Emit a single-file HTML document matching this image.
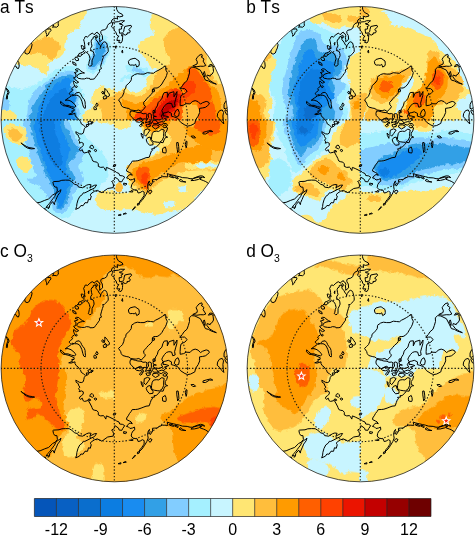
<!DOCTYPE html><html><head><meta charset="utf-8"><title>fig</title><style>html,body{margin:0;padding:0;background:#fff}body{width:475px;height:536px;overflow:hidden}</style></head><body><svg width="475" height="536" viewBox="0 0 475 536" style="display:block">
<defs>
<clipPath id="cc"><circle cx="114.5" cy="113.9" r="113.5"/></clipPath>
<clipPath id="k1"><rect x="-1" y="-1" width="115.2" height="115.2"/></clipPath>
<clipPath id="k2"><rect x="113.9" y="-1" width="116" height="115.2"/></clipPath>
<clipPath id="k3"><rect x="-1" y="113.9" width="115.2" height="116"/></clipPath>
<clipPath id="k4"><rect x="113.9" y="113.9" width="116" height="116"/></clipPath>
<filter id="rg" x="0" y="0" width="229" height="229" filterUnits="userSpaceOnUse"><feTurbulence type="fractalNoise" baseFrequency="0.22" numOctaves="2" seed="7" result="n"/><feDisplacementMap in="SourceGraphic" in2="n" scale="5" xChannelSelector="R" yChannelSelector="G"/></filter>
</defs>
<rect width="475" height="536" fill="#fff"/>
<g transform="translate(0 6)">
<g clip-path="url(#cc)">
<rect x="0" y="0" width="229" height="229" fill="#c8f5ff"/>
<g filter="url(#rg)">
<g clip-path="url(#k1)">
<path d="M-22.8 80.4C-16.6 71.2 6.6 81.2 14.4 81.6C22.2 82.0 20.4 83.4 24.0 82.8C27.6 82.2 32.4 79.9 36.0 78.0C39.6 76.1 42.6 73.7 45.6 71.5C48.6 69.3 51.2 66.5 54.0 64.8C56.8 63.1 59.6 62.0 62.4 61.2C65.2 60.4 68.2 59.9 70.8 60.0C73.4 60.1 76.3 60.7 78.0 61.9C79.7 63.1 81.1 65.3 81.1 67.2C81.1 69.1 78.1 70.8 78.0 73.2C77.9 75.6 79.5 78.8 80.4 81.6C81.3 84.4 83.3 87.2 83.5 90.0C83.7 92.8 81.5 95.4 81.6 98.4C81.7 101.4 83.8 101.6 84.0 108.0C84.2 114.4 100.6 132.0 82.8 136.8C65.0 141.6 -5.2 146.2 -22.8 136.8C-40.4 127.4 -29.0 89.6 -22.8 80.4Z" fill="#a5f0ff"/>
<path d="M96.0 28.8C98.3 28.2 104.4 29.8 106.8 32.4C109.2 35.0 110.4 40.6 110.4 44.4C110.4 48.2 108.4 52.1 106.8 55.2C105.2 58.3 103.1 60.9 100.8 62.9C98.5 64.9 95.5 67.2 93.1 67.2C90.7 67.2 87.2 65.3 86.4 62.9C85.6 60.5 87.4 55.9 88.3 52.8C89.2 49.7 90.9 47.2 91.7 44.4C92.5 41.6 92.4 38.6 93.1 36.0C93.8 33.4 93.7 29.4 96.0 28.8Z" fill="#a5f0ff"/>
<path d="M26.4 136.8C17.9 131.6 27.2 112.4 27.6 105.6C28.0 98.8 27.4 99.6 28.8 96.0C30.2 92.4 33.2 87.3 36.0 84.0C38.8 80.7 42.4 78.7 45.6 76.3C48.8 73.9 52.3 71.3 55.2 69.6C58.1 67.9 60.3 66.8 62.9 66.0C65.5 65.2 68.6 64.6 70.8 64.8C73.0 65.0 75.3 66.0 76.3 67.2C77.3 68.4 77.3 70.4 76.8 72.0C76.3 73.6 73.3 75.0 73.2 76.8C73.1 78.6 75.2 80.6 76.3 82.8C77.4 85.0 79.4 87.8 79.7 90.0C80.0 92.2 78.2 93.8 78.0 96.0C77.8 98.2 78.4 101.0 78.7 103.2C79.0 105.4 79.9 103.6 79.9 109.2C79.9 114.8 87.6 132.2 78.7 136.8C69.8 141.4 34.9 142.0 26.4 136.8Z" fill="#82cdff"/>
<path d="M-22.8 91.2C-18.2 89.0 -0.6 91.6 4.8 92.4C10.2 93.2 9.0 94.2 9.6 96.0C10.2 97.8 9.4 101.6 8.4 103.2C7.4 104.8 8.8 105.2 3.6 105.6C-1.6 106.0 -18.4 108.0 -22.8 105.6C-27.2 103.2 -27.4 93.4 -22.8 91.2Z" fill="#82cdff"/>
<path d="M97.2 32.4C99.1 32.0 103.8 34.0 105.6 36.0C107.4 38.0 108.1 41.6 108.0 44.4C107.9 47.2 106.5 50.2 105.1 52.8C103.7 55.4 101.5 58.1 99.6 60.0C97.7 61.9 95.5 64.1 93.6 64.3C91.7 64.5 88.9 63.1 88.3 61.2C87.7 59.3 89.2 55.4 90.0 52.8C90.8 50.2 92.4 48.0 93.1 45.6C93.8 43.2 93.4 40.6 94.1 38.4C94.8 36.2 95.3 32.8 97.2 32.4Z" fill="#82cdff"/>
<path d="M31.0 136.8C23.6 131.4 31.2 110.8 31.7 104.4C32.2 98.0 33.0 100.2 34.1 98.2C35.1 96.1 36.4 94.0 37.9 91.9C39.4 89.8 41.5 87.8 43.0 85.7C44.4 83.6 45.4 80.9 46.8 79.2C48.2 77.5 49.8 76.8 51.6 75.6C53.4 74.4 55.6 73.0 57.6 72.0C59.6 71.0 61.6 70.2 63.6 69.6C65.6 69.0 67.9 68.3 69.6 68.4C71.3 68.5 73.2 69.1 73.9 70.1C74.6 71.1 74.6 73.1 73.9 74.4C73.3 75.7 70.2 76.4 70.1 78.0C70.0 79.6 72.2 81.9 73.2 84.0C74.2 86.1 76.0 88.7 76.3 90.7C76.6 92.7 75.0 93.9 74.9 96.0C74.8 98.1 75.3 101.0 75.6 103.2C75.9 105.4 76.8 103.6 76.8 109.2C76.8 114.8 83.2 132.2 75.6 136.8C68.0 141.4 38.3 142.2 31.0 136.8Z" fill="#32a0e6"/>
<path d="M99.6 36.0C101.0 35.6 103.4 37.0 104.4 38.4C105.4 39.8 105.8 42.4 105.6 44.4C105.4 46.4 104.4 48.4 103.2 50.4C102.0 52.4 100.0 54.6 98.4 56.4C96.8 58.2 94.9 60.8 93.6 61.2C92.3 61.6 90.9 60.2 90.7 58.8C90.5 57.4 91.7 54.8 92.4 52.8C93.1 50.8 94.2 48.8 94.8 46.8C95.4 44.8 95.2 42.6 96.0 40.8C96.8 39.0 98.2 36.4 99.6 36.0Z" fill="#32a0e6"/>
<path d="M37.0 136.8C30.9 131.6 37.4 112.1 37.9 105.6C38.5 99.1 39.2 100.4 40.3 97.9C41.4 95.4 42.7 93.2 44.4 90.7C46.1 88.3 48.4 85.4 50.4 83.3C52.4 81.2 54.5 79.6 56.4 78.0C58.3 76.4 59.9 75.0 61.9 73.9C63.9 72.8 66.8 71.6 68.4 71.5C70.0 71.4 71.2 71.9 71.5 73.2C71.8 74.5 70.1 77.2 70.1 79.2C70.1 81.2 70.8 83.1 71.5 85.2C72.2 87.3 74.1 89.5 74.4 91.7C74.7 93.9 73.3 96.1 73.2 98.4C73.1 100.7 73.7 99.2 73.9 105.6C74.1 112.0 80.6 131.6 74.4 136.8C68.2 142.0 43.0 142.0 37.0 136.8Z" fill="#198cf0"/>
<path d="M43.2 136.8C39.0 131.6 43.7 112.0 44.4 105.6C45.1 99.2 46.2 100.8 47.5 98.4C48.8 96.0 50.6 93.3 52.3 91.2C54.1 89.1 56.1 87.3 58.1 85.9C60.1 84.5 62.7 82.7 64.3 82.8C65.9 82.9 66.8 84.4 67.7 86.4C68.6 88.4 69.3 91.6 69.6 94.8C69.9 98.0 69.6 98.6 69.6 105.6C69.6 112.6 74.0 131.6 69.6 136.8C65.2 142.0 47.4 142.0 43.2 136.8Z" fill="#0c7de1"/>
<path d="M14.4 57.6C16.0 59.9 20.8 58.7 24.0 59.3C27.2 59.9 30.8 60.1 33.6 61.2C36.4 62.3 38.8 64.8 40.8 66.0C42.8 67.2 44.2 68.9 45.6 68.4C47.0 67.9 48.9 64.7 49.2 62.9C49.5 61.1 46.7 59.2 47.3 57.6C47.9 56.0 51.2 54.3 52.8 53.3C54.4 52.2 55.6 52.0 57.1 51.4C58.6 50.7 60.6 50.4 61.9 49.2C63.2 48.0 64.2 46.0 64.8 44.2C65.4 42.3 65.2 39.8 65.5 37.9C65.8 36.0 65.9 34.4 66.5 32.9C67.1 31.4 68.0 30.3 69.1 29.0C70.2 27.8 71.4 26.4 73.0 25.2C74.6 24.0 77.5 23.1 78.7 21.6C80.0 20.1 79.4 17.8 80.4 16.3C81.4 14.8 83.6 14.2 84.5 12.5C85.4 10.8 85.8 8.3 85.7 6.2C85.6 4.2 88.3 0.2 84.0 0.0C79.7 -0.2 68.0 1.2 60.0 4.8C52.0 8.4 43.6 14.8 36.0 21.6C28.4 28.4 18.0 39.6 14.4 45.6C10.8 51.6 12.8 55.3 14.4 57.6Z" fill="#ffe673"/>
<path d="M22.8 45.6C22.8 44.1 26.5 40.1 28.3 38.4C30.1 36.7 31.7 36.3 33.6 35.5C35.5 34.7 37.6 34.4 39.6 33.6C41.6 32.8 43.6 31.0 45.6 30.7C47.6 30.4 49.6 31.0 51.6 31.9C53.6 32.8 56.2 34.4 57.6 36.0C59.0 37.6 60.0 39.7 60.0 41.3C60.0 42.9 58.3 44.0 57.6 45.6C56.9 47.2 56.9 49.7 55.7 50.9C54.5 52.1 52.1 53.0 50.4 52.8C48.7 52.6 47.4 50.7 45.6 49.7C43.8 48.7 41.6 47.1 39.6 46.8C37.6 46.5 35.5 47.9 33.6 48.0C31.7 48.1 30.1 47.7 28.3 47.3C26.5 46.9 22.8 47.1 22.8 45.6Z" fill="#ffbe3c"/>
<path d="M96.0 82.8C97.8 81.4 100.8 80.4 103.2 80.4C105.6 80.4 104.8 82.2 110.4 82.8C116.0 83.4 132.4 75.0 136.8 84.0C141.2 93.0 146.0 128.0 136.8 136.8C127.6 145.6 90.6 141.4 81.6 136.8C72.6 132.2 81.8 114.6 82.8 109.2C83.8 103.8 86.0 105.8 87.6 104.4C89.2 103.0 91.8 102.4 92.4 100.8C93.0 99.2 91.2 96.8 91.2 94.8C91.2 92.8 91.6 90.8 92.4 88.8C93.2 86.8 94.2 84.2 96.0 82.8Z" fill="#ffe673"/>
<path d="M100.8 93.6C102.4 92.0 102.0 91.4 108.0 91.2C114.0 91.0 132.0 84.8 136.8 92.4C141.6 100.0 142.4 129.4 136.8 136.8C131.2 144.2 109.0 141.6 103.2 136.8C97.4 132.0 102.8 114.0 102.0 108.0C101.2 102.0 98.6 103.2 98.4 100.8C98.2 98.4 99.2 95.2 100.8 93.6Z" fill="#ffbe3c"/>
<path d="M1.2 106.8C2.4 101.4 5.0 104.4 7.2 104.4C9.4 104.4 13.0 105.4 14.4 106.8C15.8 108.2 16.0 107.8 15.6 112.8C15.2 117.8 14.6 132.8 12.0 136.8C9.4 140.8 1.8 141.8 0.0 136.8C-1.8 131.8 0.0 112.2 1.2 106.8Z" fill="#ffe673"/>
</g>
<g clip-path="url(#k2)">
<path d="M126.0 60.0C127.1 59.0 130.8 58.3 133.2 58.3C135.6 58.3 138.0 59.2 140.4 60.0C142.8 60.8 145.9 61.7 147.6 62.9C149.3 64.1 150.9 66.0 150.5 67.2C150.1 68.4 147.3 69.7 145.2 70.1C143.1 70.5 140.2 70.1 138.0 69.6C135.8 69.1 133.9 68.1 132.0 67.2C130.1 66.3 127.5 65.5 126.5 64.3C125.5 63.1 124.9 61.0 126.0 60.0Z" fill="#a5f0ff"/>
<path d="M132.0 61.7C132.6 61.2 136.0 61.4 138.0 61.9C140.0 62.4 142.9 63.9 144.0 64.8C145.1 65.7 145.5 66.8 144.7 67.2C143.9 67.6 140.9 67.6 139.2 67.2C137.5 66.8 135.6 65.7 134.4 64.8C133.2 63.9 131.4 62.2 132.0 61.7Z" fill="#82cdff"/>
<path d="M120.0 73.2C120.8 72.3 123.6 70.9 126.0 70.1C128.4 69.3 132.9 68.4 134.4 68.4C135.9 68.4 136.3 69.6 135.1 70.3C133.9 71.0 129.5 71.8 127.2 72.7C124.9 73.6 122.4 75.5 121.2 75.6C120.0 75.7 119.2 74.1 120.0 73.2Z" fill="#a5f0ff"/>
<path d="M153.6 6.0C152.9 12.0 151.1 10.8 150.5 13.2C149.9 15.6 149.5 18.6 150.0 20.4C150.5 22.2 153.2 22.4 153.6 24.0C154.0 25.6 153.8 28.6 152.4 30.0C151.0 31.4 147.3 31.4 145.2 32.4C143.1 33.4 141.1 34.4 139.9 36.0C138.7 37.6 137.7 40.0 138.0 42.0C138.3 44.0 140.2 46.0 141.6 48.0C143.0 50.0 145.0 52.0 146.4 54.0C147.8 56.0 148.4 58.4 150.0 60.0C151.6 61.6 154.4 63.1 156.0 63.6C157.6 64.1 159.8 62.5 159.6 62.9C159.4 63.3 156.4 65.0 154.8 66.0C153.2 67.0 151.2 67.8 150.0 68.9C148.8 70.0 148.2 71.1 147.6 72.5C147.0 73.9 147.0 75.7 146.4 77.3C145.8 78.9 145.0 80.8 144.0 82.1C143.0 83.4 141.8 84.4 140.4 85.2C139.0 86.0 137.2 86.8 135.6 86.9C134.0 87.0 132.2 86.4 130.8 85.7C129.4 85.0 128.1 83.6 127.2 82.8C126.3 82.0 126.3 80.5 125.3 80.9C124.3 81.3 122.5 84.3 121.2 85.2C119.9 86.1 122.6 86.1 117.6 86.4C112.6 86.7 95.6 78.5 91.2 86.9C86.8 95.3 64.6 128.5 91.2 136.8C117.8 145.1 224.2 163.4 250.8 136.8C277.4 110.2 266.8 3.8 250.8 -22.8C234.8 -49.4 171.0 -27.6 154.8 -22.8C138.6 -18.0 154.3 0.0 153.6 6.0Z" fill="#ffe673"/>
<path d="M178.8 18.0C176.4 25.8 173.8 22.0 171.6 24.0C169.4 26.0 166.9 27.6 165.6 30.0C164.3 32.4 163.6 35.4 163.9 38.4C164.2 41.4 166.3 45.0 167.3 48.0C168.2 51.0 170.0 54.3 169.7 56.4C169.4 58.5 167.3 59.3 165.6 60.5C163.9 61.7 161.3 62.0 159.6 63.6C157.9 65.2 156.6 67.8 155.3 70.1C154.0 72.4 152.9 75.2 151.9 77.3C150.9 79.4 150.2 81.3 149.3 82.8C148.4 84.3 147.6 85.4 146.4 86.4C145.2 87.4 143.8 88.1 142.3 88.8C140.8 89.5 139.1 90.3 137.5 90.5C135.9 90.7 134.2 90.4 132.7 90.0C131.2 89.6 129.6 89.0 128.4 88.3C127.2 87.6 126.1 86.3 125.3 85.7C124.5 85.0 124.7 84.3 123.6 84.5C122.5 84.7 124.2 86.4 118.8 86.9C113.4 87.4 95.8 79.3 91.2 87.6C86.6 95.9 64.6 128.6 91.2 136.8C117.8 145.0 224.2 163.4 250.8 136.8C277.4 110.2 261.6 3.8 250.8 -22.8C240.0 -49.4 198.0 -29.6 186.0 -22.8C174.0 -16.0 181.2 10.2 178.8 18.0Z" fill="#ffbe3c"/>
<path d="M208.8 49.2C210.4 48.6 213.8 49.8 216.0 51.6C218.2 53.4 220.4 57.0 222.0 60.0C223.6 63.0 224.8 66.4 225.6 69.6C226.4 72.8 227.8 77.8 226.8 79.2C225.8 80.6 221.8 79.2 219.6 78.0C217.4 76.8 215.4 74.6 213.6 72.0C211.8 69.4 210.0 65.2 208.8 62.4C207.6 59.6 206.4 57.4 206.4 55.2C206.4 53.0 207.2 49.8 208.8 49.2Z" fill="#ffe673"/>
<path d="M122.9 91.7C123.4 91.2 124.4 92.3 125.3 92.9C126.2 93.5 127.1 94.7 128.4 95.3C129.7 95.9 131.6 96.2 133.2 96.5C134.8 96.8 136.4 97.2 138.0 97.2C139.6 97.2 141.4 96.8 142.8 96.5C144.2 96.2 145.2 95.9 146.4 95.3C147.6 94.7 148.8 93.9 150.0 92.9C151.2 91.9 152.4 90.4 153.6 89.3C154.8 88.2 155.8 87.5 157.2 86.4C158.6 85.3 160.4 83.9 162.0 82.8C163.6 81.7 165.3 80.9 166.8 79.7C168.3 78.5 169.7 77.0 170.9 75.6C172.1 74.2 172.5 72.8 174.0 71.5C175.5 70.2 178.0 69.1 180.0 67.7C182.0 66.2 184.0 64.2 186.0 62.9C188.0 61.6 190.1 60.2 192.0 60.0C193.9 59.8 195.9 60.7 197.5 61.9C199.1 63.1 200.1 65.3 201.6 67.2C203.1 69.1 204.8 71.2 206.4 73.2C208.0 75.2 209.6 77.6 211.2 79.2C212.8 80.8 214.6 81.0 216.0 82.8C217.4 84.6 218.8 87.0 219.6 90.0C220.4 93.0 220.7 93.0 220.8 100.8C220.9 108.6 235.5 130.8 220.1 136.8C204.7 142.8 143.9 141.6 128.4 136.8C112.9 132.0 127.8 114.0 127.2 108.0C126.6 102.0 125.6 102.8 124.8 100.8C124.0 98.8 122.7 97.5 122.4 96.0C122.1 94.5 122.4 92.2 122.9 91.7Z" fill="#ff9b00"/>
<path d="M188.9 62.4C189.8 61.8 192.4 61.4 193.7 61.7C195.0 62.0 195.8 63.1 196.8 64.1C197.8 65.1 198.7 66.3 199.7 67.7C200.7 69.1 201.8 70.9 202.8 72.5C203.8 74.1 204.6 75.9 205.7 77.3C206.8 78.7 208.4 79.3 209.3 80.9C210.2 82.5 211.0 84.9 211.2 86.9C211.4 88.9 211.2 91.3 210.5 92.9C209.8 94.5 208.5 95.9 206.9 96.5C205.3 97.1 202.9 96.6 200.9 96.5C198.9 96.4 196.7 96.0 194.9 96.0C193.1 96.0 191.7 96.3 190.1 96.5C188.5 96.7 186.7 97.4 185.3 97.2C183.9 97.0 182.4 96.2 181.7 95.3C181.0 94.4 180.8 92.9 181.2 91.7C181.6 90.5 183.4 89.2 184.1 88.1C184.8 87.0 185.6 85.9 185.3 85.2C185.0 84.5 183.2 84.6 182.4 84.0C181.6 83.4 180.4 82.5 180.5 81.6C180.6 80.7 182.0 79.4 182.9 78.5C183.8 77.6 185.2 77.1 186.0 76.1C186.8 75.1 187.2 73.7 187.7 72.5C188.2 71.3 188.8 70.1 188.9 68.9C189.0 67.7 188.4 66.4 188.4 65.3C188.4 64.2 188.0 63.0 188.9 62.4Z" fill="#ff5f00"/>
<path d="M198.5 94.8C199.7 92.9 203.9 93.9 206.4 94.1C208.9 94.3 212.0 94.5 213.6 96.0C215.2 97.5 215.5 96.4 216.0 103.2C216.5 110.0 219.7 131.2 216.7 136.8C213.7 142.4 200.9 142.0 198.0 136.8C195.1 131.6 199.1 112.6 199.2 105.6C199.3 98.6 197.3 96.7 198.5 94.8Z" fill="#ff5f00"/>
<path d="M136.8 136.8C129.6 132.0 138.2 113.8 139.2 108.0C140.2 102.2 141.2 103.8 142.8 102.0C144.4 100.2 146.8 98.7 148.8 97.2C150.8 95.7 152.6 94.6 154.8 93.1C157.0 91.6 159.8 89.8 162.0 88.3C164.2 86.9 166.0 85.4 168.0 84.5C170.0 83.6 172.2 82.8 174.0 82.8C175.8 82.8 177.5 83.5 178.8 84.5C180.1 85.5 181.1 86.9 181.7 88.8C182.3 90.7 182.1 93.6 182.4 96.0C182.7 98.4 183.6 96.4 183.6 103.2C183.6 110.0 190.2 131.2 182.4 136.8C174.6 142.4 144.0 141.6 136.8 136.8Z" fill="#ff5f00"/>
<path d="M150.0 114.0C149.9 108.8 150.8 108.2 151.9 105.6C153.0 103.0 155.0 100.7 156.7 98.4C158.4 96.1 160.0 93.9 162.0 91.9C164.0 89.9 166.2 87.8 168.7 86.4C171.2 85.0 174.5 83.1 176.9 83.3C179.3 83.5 182.2 85.5 183.1 87.6C184.0 89.7 183.1 93.4 182.4 96.0C181.7 98.6 180.2 100.9 178.8 103.2C177.4 105.5 175.9 107.8 174.0 109.7C172.1 111.6 169.7 110.0 167.3 114.5C164.9 119.0 162.1 133.1 159.6 136.8C157.1 140.5 154.0 140.6 152.4 136.8C150.8 133.0 150.1 119.2 150.0 114.0Z" fill="#ff4100"/>
<path d="M134.4 136.8C131.3 132.2 134.1 114.3 135.1 109.2C136.1 104.1 138.3 106.7 140.4 106.1C142.5 105.5 145.6 105.3 147.6 105.6C149.6 105.9 151.4 102.8 152.4 108.0C153.4 113.2 156.6 132.0 153.6 136.8C150.6 141.6 137.5 141.4 134.4 136.8Z" fill="#ff4100"/>
<path d="M184.1 77.3C185.2 76.3 187.3 75.1 188.9 74.9C190.5 74.7 192.5 75.1 193.7 76.1C194.9 77.1 195.9 79.3 196.1 80.9C196.3 82.5 195.7 84.5 194.9 85.7C194.1 86.9 192.5 87.1 191.3 88.1C190.1 89.1 188.9 90.9 187.7 91.7C186.5 92.5 184.9 93.3 184.1 92.9C183.3 92.5 182.6 90.5 182.9 89.3C183.2 88.1 185.8 86.7 186.0 85.7C186.2 84.7 184.7 84.1 184.1 83.3C183.5 82.5 182.4 81.9 182.4 80.9C182.4 79.9 183.0 78.3 184.1 77.3Z" fill="#ff4100"/>
<path d="M182.4 102.0C183.0 95.6 184.4 99.1 186.0 98.4C187.6 97.7 190.0 97.6 192.0 97.9C194.0 98.2 196.9 98.8 198.0 100.3C199.1 101.8 198.7 100.7 198.5 106.8C198.3 112.9 199.5 131.8 196.8 136.8C194.1 141.8 184.8 142.6 182.4 136.8C180.0 131.0 181.8 108.4 182.4 102.0Z" fill="#ffbe3c"/>
<path d="M153.6 112.8C153.0 111.4 153.8 107.8 154.8 105.6C155.8 103.4 158.0 101.6 159.6 99.6C161.2 97.6 162.6 95.4 164.4 93.6C166.2 91.8 168.2 90.0 170.4 88.8C172.6 87.6 175.9 86.2 177.6 86.4C179.3 86.6 180.5 88.2 180.7 90.0C180.9 91.8 179.7 95.0 178.8 97.2C177.9 99.4 176.6 101.4 175.2 103.2C173.8 105.0 172.2 106.6 170.4 108.0C168.6 109.4 166.4 110.6 164.4 111.6C162.4 112.6 160.2 113.8 158.4 114.0C156.6 114.2 154.2 114.2 153.6 112.8Z" fill="#eb1400"/>
<path d="M158.4 110.4C158.4 109.0 160.4 105.4 162.0 103.2C163.6 101.0 166.0 99.0 168.0 97.2C170.0 95.4 172.4 93.2 174.0 92.4C175.6 91.6 177.3 91.4 177.6 92.4C177.9 93.4 176.9 96.6 175.9 98.4C174.9 100.2 173.1 101.6 171.6 103.2C170.1 104.8 168.4 106.6 166.8 108.0C165.2 109.4 163.4 111.2 162.0 111.6C160.6 112.0 158.4 111.8 158.4 110.4Z" fill="#c30000"/>
</g>
<g clip-path="url(#k3)">
<path d="M-22.8 91.2C-7.0 83.4 54.6 85.8 72.0 91.2C89.4 96.6 78.4 116.2 81.6 123.6C84.8 131.0 88.0 132.0 91.2 135.6C94.4 139.2 98.2 142.0 100.8 145.2C103.4 148.4 105.6 151.6 106.8 154.8C108.0 158.0 108.2 161.2 108.0 164.4C107.8 167.6 107.2 170.8 105.6 174.0C104.0 177.2 101.6 180.4 98.4 183.6C95.2 186.8 90.4 190.0 86.4 193.2C82.4 196.4 77.2 200.0 74.4 202.8C71.6 205.6 72.0 208.4 69.6 210.0C67.2 211.6 63.2 212.4 60.0 212.4C56.8 212.4 53.2 211.6 50.4 210.0C47.6 208.4 45.6 205.2 43.2 202.8C40.8 200.4 38.8 197.2 36.0 195.6C33.2 194.0 29.2 194.8 26.4 193.2C23.6 191.6 21.6 188.8 19.2 186.0C16.8 183.2 14.0 179.6 12.0 176.4C10.0 173.2 8.8 170.8 7.2 166.8C5.6 162.8 7.4 157.2 2.4 152.4C-2.6 147.6 -18.6 148.2 -22.8 138.0C-27.0 127.8 -38.6 99.0 -22.8 91.2Z" fill="#a5f0ff"/>
<path d="M24.0 91.2C17.0 97.0 24.8 118.2 25.2 126.0C25.6 133.8 25.6 134.0 26.4 138.0C27.2 142.0 28.8 146.0 30.0 150.0C31.2 154.0 32.6 158.8 33.6 162.0C34.6 165.2 36.4 167.4 36.0 169.2C35.6 171.0 32.5 172.5 31.2 172.8C29.9 173.1 28.6 170.5 28.3 171.1C28.0 171.7 28.0 175.1 29.3 176.4C30.6 177.7 33.9 177.6 36.0 178.8C38.1 180.0 40.2 181.6 42.0 183.6C43.8 185.6 45.2 188.4 46.8 190.8C48.4 193.2 50.4 195.6 51.6 198.0C52.8 200.4 52.6 203.7 54.0 205.2C55.4 206.7 58.0 207.2 60.0 207.1C62.0 207.0 64.2 206.2 66.0 204.7C67.8 203.2 69.6 200.7 70.8 198.0C72.0 195.3 71.8 191.2 73.2 188.4C74.6 185.6 77.4 183.6 79.2 181.2C81.0 178.8 83.6 176.4 84.0 174.0C84.4 171.6 82.4 169.2 81.6 166.8C80.8 164.4 79.0 162.0 79.2 159.6C79.4 157.2 82.0 154.8 82.8 152.4C83.6 150.0 84.6 147.6 84.0 145.2C83.4 142.8 80.8 140.8 79.2 138.0C77.6 135.2 76.0 131.6 74.4 128.4C72.8 125.2 70.8 125.0 69.6 118.8C68.4 112.6 74.8 95.8 67.2 91.2C59.6 86.6 31.0 85.4 24.0 91.2Z" fill="#82cdff"/>
<path d="M30.0 91.2C24.8 96.6 30.6 116.6 31.2 123.6C31.8 130.6 32.8 130.0 33.6 133.2C34.4 136.4 35.0 139.6 36.0 142.8C37.0 146.0 38.4 149.2 39.6 152.4C40.8 155.6 42.0 158.8 43.2 162.0C44.4 165.2 45.4 168.8 46.8 171.6C48.2 174.4 50.4 176.4 51.6 178.8C52.8 181.2 53.4 183.2 54.0 186.0C54.6 188.8 54.8 193.0 55.2 195.6C55.6 198.2 55.2 200.3 56.4 201.6C57.6 202.9 60.6 204.3 62.4 203.3C64.2 202.3 66.0 198.5 67.2 195.6C68.4 192.7 68.8 188.8 69.6 186.0C70.4 183.2 71.2 181.2 72.0 178.8C72.8 176.4 74.4 173.8 74.4 171.6C74.4 169.4 73.0 167.6 72.0 165.6C71.0 163.6 68.4 161.6 68.4 159.6C68.4 157.6 70.6 155.6 72.0 153.6C73.4 151.6 75.6 149.4 76.8 147.6C78.0 145.8 79.4 144.4 79.2 142.8C79.0 141.2 76.8 139.6 75.6 138.0C74.4 136.4 73.0 135.2 72.0 133.2C71.0 131.2 70.8 128.2 69.6 126.0C68.4 123.8 66.0 125.8 64.8 120.0C63.6 114.2 68.2 96.0 62.4 91.2C56.6 86.4 35.2 85.8 30.0 91.2Z" fill="#32a0e6"/>
<path d="M33.6 91.2C29.4 96.6 34.3 116.6 34.8 123.6C35.3 130.6 35.9 130.0 36.7 133.2C37.5 136.4 38.5 139.6 39.6 142.8C40.7 146.0 42.0 149.2 43.2 152.4C44.4 155.6 45.8 158.8 47.0 162.0C48.3 165.2 49.6 168.8 50.9 171.6C52.2 174.4 53.7 176.4 54.7 178.8C55.8 181.2 56.6 183.2 57.1 186.0C57.6 188.8 57.3 193.2 57.6 195.6C57.9 198.0 57.9 199.8 58.8 200.4C59.7 201.0 61.7 200.8 62.9 199.2C64.1 197.6 65.2 193.4 66.0 190.8C66.8 188.2 67.1 186.0 67.7 183.6C68.3 181.2 69.4 178.6 69.6 176.4C69.8 174.2 69.7 172.4 69.1 170.4C68.5 168.4 66.5 166.6 66.0 164.4C65.5 162.2 65.6 159.6 66.0 157.2C66.4 154.8 67.8 152.4 68.4 150.0C69.0 147.6 69.8 145.2 69.6 142.8C69.4 140.4 68.1 138.0 67.2 135.6C66.3 133.2 65.3 130.8 64.3 128.4C63.3 126.0 61.9 127.4 61.2 121.2C60.5 115.0 64.6 96.2 60.0 91.2C55.4 86.2 37.8 85.8 33.6 91.2Z" fill="#198cf0"/>
<path d="M38.4 91.2C36.0 96.6 39.0 116.6 39.6 123.6C40.2 130.6 41.0 130.0 42.0 133.2C43.0 136.4 44.4 139.8 45.6 142.8C46.8 145.8 47.9 148.6 49.2 151.2C50.5 153.8 51.9 156.6 53.3 158.4C54.7 160.2 56.3 162.0 57.6 162.0C58.9 162.0 60.5 160.4 61.2 158.4C61.9 156.4 62.0 152.8 61.9 150.0C61.8 147.2 61.2 144.4 60.5 141.6C59.8 138.8 58.5 136.0 57.6 133.2C56.7 130.4 55.8 131.8 55.2 124.8C54.6 117.8 56.8 96.8 54.0 91.2C51.2 85.6 40.8 85.8 38.4 91.2Z" fill="#0c7de1"/>
<path d="M81.6 91.2C72.6 95.2 81.2 110.8 82.8 115.0C84.4 119.1 88.4 115.6 91.2 115.9C94.0 116.2 96.8 116.4 99.6 116.6C102.4 116.9 101.8 117.1 108.0 117.4C114.2 117.6 132.0 122.7 136.8 118.3C141.6 114.0 146.0 95.7 136.8 91.2C127.6 86.7 90.6 87.2 81.6 91.2Z" fill="#ffe673"/>
<path d="M3.6 121.2C4.5 119.4 7.4 118.0 9.6 117.6C11.8 117.2 14.4 118.0 16.8 118.8C19.2 119.6 22.3 120.8 24.0 122.4C25.7 124.0 26.7 126.2 26.9 128.4C27.1 130.6 26.3 133.8 25.2 135.6C24.1 137.4 22.2 138.8 20.4 139.2C18.6 139.6 16.4 138.8 14.4 138.0C12.4 137.2 10.1 136.0 8.4 134.4C6.7 132.8 5.1 130.6 4.3 128.4C3.5 126.2 2.7 123.0 3.6 121.2Z" fill="#ffe673"/>
<path d="M8.4 124.8C9.0 123.0 12.4 122.2 14.4 122.4C16.4 122.6 19.2 124.4 20.4 126.0C21.6 127.6 22.2 130.4 21.6 132.0C21.0 133.6 18.6 135.4 16.8 135.6C15.0 135.8 12.2 135.0 10.8 133.2C9.4 131.4 7.8 126.6 8.4 124.8Z" fill="#ffbe3c"/>
<path d="M16.8 152.4C17.9 150.6 21.8 149.8 24.0 150.0C26.2 150.2 28.8 151.8 30.0 153.6C31.2 155.4 31.6 158.6 31.2 160.8C30.8 163.0 29.2 166.0 27.6 166.8C26.0 167.6 23.3 166.6 21.6 165.6C19.9 164.6 18.1 163.0 17.3 160.8C16.5 158.6 15.7 154.2 16.8 152.4Z" fill="#ffe673"/>
<path d="M96.0 190.8C96.6 188.6 98.8 187.0 100.8 186.0C102.8 185.0 102.0 185.2 108.0 184.8C114.0 184.4 132.0 180.2 136.8 183.6C141.6 187.0 141.6 201.8 136.8 205.2C132.0 208.6 113.8 204.4 108.0 204.0C102.2 203.6 103.8 203.6 102.0 202.8C100.2 202.0 98.2 201.2 97.2 199.2C96.2 197.2 95.4 193.0 96.0 190.8Z" fill="#ffe673"/>
</g>
<g clip-path="url(#k4)">
<path d="M140.9 91.2C122.7 96.2 141.1 115.0 141.6 121.2C142.1 127.4 143.0 126.4 144.0 128.4C145.0 130.4 146.6 131.6 147.6 133.2C148.6 134.8 148.6 136.8 150.0 138.0C151.4 139.2 154.4 139.4 156.0 140.4C157.6 141.4 159.6 142.8 159.6 144.0C159.6 145.2 157.6 146.6 156.0 147.6C154.4 148.6 152.2 149.0 150.0 150.0C147.8 151.0 145.2 152.8 142.8 153.6C140.4 154.4 137.8 154.0 135.6 154.8C133.4 155.6 131.2 156.5 129.6 158.2C128.0 159.8 126.5 162.4 126.2 164.9C126.0 167.4 127.4 170.5 127.9 173.3C128.5 176.1 130.2 179.3 129.6 181.7C129.0 184.0 131.0 186.4 124.6 187.4C118.2 188.5 96.8 185.4 91.2 188.2C85.6 190.9 85.0 201.5 91.2 204.0C97.4 206.5 120.6 203.2 128.4 203.3C136.2 203.3 135.2 203.7 138.0 204.2C140.8 204.8 142.4 205.9 145.2 206.6C148.0 207.4 151.2 208.8 154.8 208.8C158.4 208.8 163.2 207.1 166.8 206.4C170.4 205.7 173.2 205.4 176.4 204.7C179.6 204.0 183.2 203.5 186.0 202.3C188.8 201.1 190.6 200.2 193.2 197.5C195.8 194.8 192.0 191.9 201.6 186.0C211.2 180.1 242.6 177.8 250.8 162.0C259.0 146.2 269.1 103.0 250.8 91.2C232.5 79.4 159.1 86.2 140.9 91.2Z" fill="#ffe673"/>
<path d="M115.9 178.8C116.7 177.4 120.0 177.0 121.2 177.6C122.4 178.2 123.1 180.9 123.1 182.4C123.1 183.9 122.3 186.1 121.2 186.7C120.1 187.3 117.3 187.3 116.4 186.0C115.5 184.7 115.1 180.2 115.9 178.8Z" fill="#ffbe3c"/>
<path d="M91.2 91.2C84.0 95.7 86.8 113.2 91.2 118.3C95.6 123.5 112.0 121.4 117.6 122.2C123.2 123.0 122.6 123.3 124.6 123.1C126.6 123.0 128.5 122.4 129.6 121.2C130.7 120.0 130.4 121.2 131.3 116.2C132.1 111.2 141.3 95.4 134.6 91.2C128.0 87.0 98.4 86.7 91.2 91.2Z" fill="#ffe673"/>
<path d="M150.0 91.2C133.2 96.6 149.6 117.0 150.0 123.6C150.4 130.2 151.0 128.6 152.4 130.8C153.8 133.0 156.8 135.0 158.4 136.8C160.0 138.6 161.6 140.0 162.0 141.6C162.4 143.2 162.0 145.0 160.8 146.4C159.6 147.8 157.0 149.0 154.8 150.0C152.6 151.0 150.4 151.6 147.6 152.4C144.8 153.2 140.8 154.0 138.0 154.8C135.2 155.6 132.6 156.0 130.8 157.2C129.0 158.4 127.6 160.0 127.2 162.0C126.8 164.0 127.6 166.8 128.4 169.2C129.2 171.6 130.4 174.2 132.0 176.4C133.6 178.6 135.8 180.8 138.0 182.4C140.2 184.0 143.2 185.0 145.2 186.0C147.2 187.0 148.8 188.8 150.0 188.4C151.2 188.0 151.4 185.2 152.4 183.6C153.4 182.0 154.4 180.2 156.0 178.8C157.6 177.4 159.8 176.4 162.0 175.2C164.2 174.0 166.8 172.8 169.2 171.6C171.6 170.4 173.6 169.0 176.4 168.0C179.2 167.0 182.8 166.2 186.0 165.6C189.2 165.0 191.6 164.6 195.6 164.4C199.6 164.2 206.0 164.2 210.0 164.4C214.0 164.6 212.8 165.2 219.6 165.6C226.4 166.0 245.6 179.2 250.8 166.8C256.0 154.4 267.6 103.8 250.8 91.2C234.0 78.6 166.8 85.8 150.0 91.2Z" fill="#ffbe3c"/>
<path d="M153.6 126.0C155.0 124.4 159.4 124.4 162.0 124.8C164.6 125.2 167.8 126.6 169.2 128.4C170.6 130.2 171.0 133.6 170.4 135.6C169.8 137.6 167.6 139.8 165.6 140.4C163.6 141.0 160.4 140.2 158.4 139.2C156.4 138.2 154.4 136.6 153.6 134.4C152.8 132.2 152.2 127.6 153.6 126.0Z" fill="#ffe673"/>
<path d="M186.0 156.0C188.0 154.8 193.2 154.9 198.0 154.8C202.8 154.7 210.4 155.0 214.8 155.3C219.2 155.6 222.9 155.6 224.4 156.7C225.9 157.8 226.3 160.9 223.9 162.0C221.5 163.1 214.7 163.0 210.0 163.2C205.3 163.4 199.6 163.6 195.6 163.4C191.6 163.2 187.6 163.2 186.0 162.0C184.4 160.8 184.0 157.2 186.0 156.0Z" fill="#ffe673"/>
<path d="M195.6 158.4C197.3 157.7 202.8 157.3 206.4 157.2C210.0 157.1 215.5 157.3 217.2 157.9C218.9 158.6 218.5 160.5 216.7 161.0C214.9 161.6 209.8 161.2 206.4 161.3C203.0 161.4 197.9 162.0 196.1 161.5C194.3 161.0 193.9 159.1 195.6 158.4Z" fill="#c8f5ff"/>
<path d="M131.8 165.1C132.7 163.2 136.0 160.9 138.5 159.4C141.0 157.8 143.8 157.0 146.9 156.0C150.0 155.0 153.6 154.4 157.0 153.4C160.4 152.4 163.9 151.3 167.3 150.0C170.7 148.7 174.0 147.0 177.4 145.7C180.7 144.4 183.7 143.4 187.4 142.3C191.2 141.2 196.2 139.7 199.9 139.0C203.7 138.2 208.3 135.4 210.0 138.0C211.7 140.6 211.7 151.8 210.0 154.8C208.3 157.8 203.1 155.5 199.9 156.0C196.7 156.5 193.7 157.7 190.8 157.7C187.9 157.7 185.2 155.7 182.4 156.0C179.6 156.3 176.5 158.0 174.0 159.4C171.5 160.8 169.6 163.0 167.3 164.4C165.0 165.8 162.6 166.4 160.3 167.8C158.0 169.2 155.4 170.8 153.6 172.8C151.8 174.8 150.9 177.7 149.5 179.5C148.1 181.3 146.8 183.2 145.2 183.6C143.6 184.0 141.7 182.9 140.2 181.7C138.6 180.4 137.3 177.9 136.1 176.2C134.8 174.4 133.4 173.0 132.7 171.1C132.0 169.3 130.8 167.1 131.8 165.1Z" fill="#ff9b00"/>
<path d="M186.0 91.2C175.0 96.2 184.4 115.0 184.8 121.2C185.2 127.4 186.6 126.0 188.4 128.4C190.2 130.8 192.8 133.6 195.6 135.6C198.4 137.6 202.0 139.0 205.2 140.4C208.4 141.8 207.2 143.0 214.8 144.0C222.4 145.0 244.8 155.2 250.8 146.4C256.8 137.6 261.6 100.4 250.8 91.2C240.0 82.0 197.0 86.2 186.0 91.2Z" fill="#ff9b00"/>
<path d="M136.8 163.2C137.9 161.8 140.8 161.0 142.8 160.8C144.8 160.6 147.6 160.8 148.8 162.0C150.0 163.2 149.9 165.8 150.0 168.0C150.1 170.2 149.9 172.8 149.5 175.2C149.1 177.6 148.5 181.4 147.6 182.4C146.7 183.4 145.4 182.4 144.0 181.2C142.6 180.0 140.5 177.2 139.2 175.2C137.9 173.2 136.5 171.2 136.1 169.2C135.7 167.2 135.7 164.6 136.8 163.2Z" fill="#ff5f00"/>
<path d="M193.2 91.2C188.8 96.0 193.2 114.2 194.4 120.0C195.6 125.8 197.8 124.5 200.4 126.0C203.0 127.5 207.2 128.5 210.0 128.9C212.8 129.3 215.5 129.7 217.2 128.4C218.9 127.1 219.5 127.4 220.1 121.2C220.7 115.0 225.3 96.2 220.8 91.2C216.3 86.2 197.6 86.4 193.2 91.2Z" fill="#ff5f00"/>
<path d="M182.4 91.2C180.2 95.6 182.6 112.8 183.6 117.6C184.6 122.4 186.6 119.8 188.4 120.0C190.2 120.2 193.0 123.6 194.4 118.8C195.8 114.0 198.8 95.8 196.8 91.2C194.8 86.6 184.6 86.8 182.4 91.2Z" fill="#ffbe3c"/>
<path d="M141.6 168.0C142.2 166.4 145.3 166.0 146.4 166.8C147.5 167.6 148.1 170.8 148.1 172.8C148.1 174.8 147.3 178.2 146.4 178.8C145.5 179.4 143.6 178.2 142.8 176.4C142.0 174.6 141.0 169.6 141.6 168.0Z" fill="#ff4100"/>
<path d="M140.9 91.2C136.3 95.8 141.4 113.5 142.3 118.8C143.2 124.1 144.7 122.1 146.4 123.1C148.1 124.1 150.2 124.6 152.4 124.8C154.6 125.0 157.4 124.7 159.6 124.1C161.8 123.5 164.0 122.4 165.6 121.2C167.2 120.0 168.5 121.9 169.2 116.9C169.9 111.9 174.4 95.5 169.7 91.2C165.0 86.9 145.4 86.6 140.9 91.2Z" fill="#ff9b00"/>
<path d="M143.3 91.2C139.8 95.6 143.6 112.5 144.7 117.4C145.8 122.2 147.9 119.9 150.0 120.5C152.1 121.0 155.0 121.1 157.2 120.7C159.4 120.4 161.8 123.2 163.2 118.3C164.6 113.4 168.9 95.7 165.6 91.2C162.3 86.7 146.8 86.8 143.3 91.2Z" fill="#ff5f00"/>
<path d="M146.4 91.2C144.5 95.4 148.0 112.0 149.5 116.4C151.0 120.8 153.6 117.5 155.3 117.4C157.0 117.2 158.7 119.8 159.6 115.4C160.5 111.1 163.0 95.2 160.8 91.2C158.6 87.2 148.3 87.0 146.4 91.2Z" fill="#ff4100"/>
<path d="M178.8 181.2C179.8 180.3 184.7 180.0 186.0 180.7C187.3 181.4 187.5 184.6 186.5 185.5C185.5 186.4 181.3 186.7 180.0 186.0C178.7 185.3 177.8 182.1 178.8 181.2Z" fill="#c8f5ff"/>
<path d="M164.4 195.6C165.8 194.6 172.3 194.3 174.0 195.1C175.7 195.9 175.9 199.4 174.5 200.4C173.1 201.4 167.3 201.7 165.6 200.9C163.9 200.1 163.0 196.6 164.4 195.6Z" fill="#c8f5ff"/>
</g>
</g>
<g><path d="M116.7 -1.2L116.5 1.9L116.8 3.6L118.4 6.4L122.2 8.3L123.0 10.0L119.7 10.9L117.2 10.2L117.6 13.2L116.2 12.4L114.1 12.4L111.9 14.0L111.4 16.5L108.9 17.7L107.5 19.6L106.8 22.1L104.8 23.6L101.7 24.3L100.8 25.5L100.9 27.3L102.3 29.5L102.6 33.4L99.7 35.8L99.7 33.6L99.4 31.3L99.9 29.9L99.3 28.1L97.6 27.1L97.6 26.3L96.1 26.6L95.2 27.9L94.0 28.7L93.1 27.5L92.2 27.2L89.9 28.7L87.4 31.1L86.0 30.4L84.7 31.2L84.6 32.3L83.6 33.8L84.2 35.6L84.6 38.2L84.8 39.8L83.8 40.6L82.2 39.5L81.2 39.6L81.6 41.7L82.1 43.2L83.6 43.4L84.3 44.8L82.9 46.0L80.9 46.9L79.0 47.6L78.3 49.5L77.2 50.2L78.9 50.0L80.0 50.6L81.9 49.0L83.4 47.7L85.4 45.8L86.9 46.8L88.5 48.0L89.4 50.1L90.1 52.9L89.3 55.1L88.8 57.8L88.2 58.9L89.7 60.2L91.1 59.8L92.0 58.9L92.0 56.5L92.1 54.0L93.4 51.4L94.1 49.6L93.8 47.3L93.1 45.4L91.0 44.7L90.6 42.4L92.0 40.0L91.5 37.8L91.1 35.1L91.8 33.3L93.1 32.7L93.3 31.0L95.0 30.5L95.9 32.0L95.9 33.6L97.9 36.1L99.5 39.0L100.4 39.8L100.6 41.4L101.1 38.9L101.7 38.6L103.4 36.2L104.7 35.8L106.5 36.9L106.9 38.1L107.6 40.7L107.9 41.7L108.2 43.2L108.2 45.7L107.0 47.1L105.4 48.9L104.2 50.1L102.6 50.1L103.3 51.5L102.4 54.0L101.6 56.7L100.6 60.5L101.5 62.6L99.4 63.7L99.6 65.7L98.3 67.4L97.1 69.2L95.5 71.2L94.4 72.8L92.9 73.2L89.9 73.3L89.1 72.0L88.4 72.4L86.6 72.1L84.5 72.9L81.7 72.9L78.2 72.3L76.8 70.8L77.7 68.8L80.0 67.6L82.4 67.1L84.5 67.0L82.3 66.0L79.9 64.3L78.8 63.0L76.5 62.8L75.1 63.8L77.9 64.8L77.7 65.6L74.3 66.6L76.0 67.9L75.8 71.1L74.1 71.6L73.6 71.7L74.9 73.6L78.7 76.2L76.6 77.2L75.0 76.3L73.9 74.9L73.5 76.5L74.0 78.2L74.7 80.1L72.8 81.5L71.6 82.7L72.7 84.2L70.6 86.0L69.2 87.3L69.2 87.8L70.5 89.1L71.4 89.9L68.4 92.0L65.2 94.3L68.0 94.1L71.0 95.2L73.0 96.8L75.1 98.8L75.9 100.3L74.5 101.3L71.6 100.7L68.1 99.4L65.0 99.3L62.4 97.0L60.6 95.4L60.5 97.2L62.9 99.6L65.3 100.0L69.0 100.9L71.9 102.2L74.2 103.2L74.0 105.0L71.8 104.9L72.4 106.9L68.7 108.3L71.1 108.6L75.0 107.3L75.0 109.1L76.3 111.2L78.2 112.6L79.4 114.5L80.6 115.7L81.3 117.9L83.5 119.3L85.6 121.2L84.3 122.8L83.8 125.0L83.3 127.1L81.8 128.0L79.7 127.9L77.4 126.6L75.8 125.7L76.2 127.8L78.3 129.2L78.5 130.6L79.8 132.7L78.6 134.1L79.7 135.9L79.1 137.2L81.5 136.4L83.3 137.3L83.2 139.5L81.5 141.3L80.0 142.2L79.4 143.7L80.4 144.9L82.3 143.7L83.1 146.2L84.6 146.9L87.1 146.3L88.2 145.8L90.3 149.5L91.9 152.6L92.0 153.2L92.9 155.1L94.8 155.8L96.8 156.1L98.3 157.8L98.3 160.4L100.7 161.4L103.4 161.1L104.1 161.7L105.8 164.6L106.4 161.4L109.2 162.5L113.9 164.8L114.7 165.0L116.6 166.5L119.0 167.5L119.7 169.5L122.7 169.9L124.7 171.1L123.8 172.5L122.6 174.2L121.9 175.8L119.2 175.6L118.5 173.6L115.8 171.7L114.8 171.2L114.5 173.5L113.2 174.7L111.6 175.5L112.7 176.7L113.5 179.0L113.2 181.6L107.7 182.5L103.6 185.4L101.9 186.7L97.4 184.4L94.5 185.3L92.0 186.9L90.0 188.8L91.3 190.0L90.3 193.8L88.5 193.2L87.5 196.8L85.0 196.7L83.1 199.7L80.9 199.5L79.4 201.7L75.7 203.4L76.6 200.6L76.9 197.8L78.0 193.9L79.8 190.4L82.3 188.6L83.3 186.8L84.8 186.9L88.0 185.3L91.0 183.7L94.5 182.1L96.6 179.0L94.3 179.3L91.2 181.0L89.8 181.9L91.1 178.8L88.8 178.5L86.6 179.2L82.7 181.7L80.0 181.3L78.6 181.1L77.4 179.0L74.8 178.4L71.8 175.8L69.2 174.2L65.6 174.1L61.8 174.3L59.0 175.3L53.6 175.6L52.9 176.0L53.5 179.1L54.9 181.1L56.9 181.1L57.4 185.0L55.2 187.7L52.6 189.0L48.7 192.9L44.3 194.5L40.1 196.3L34.8 197.1M60.9 184.0L60.1 186.4L57.7 189.6L56.1 193.4L54.7 196.5L54.4 198.6L52.7 195.6L49.8 198.9L49.3 201.7L48.2 202.9L48.3 200.9L46.0 201.6L47.7 199.1L49.7 197.2L51.3 194.9L52.9 192.7L54.6 190.6L55.7 188.1L57.5 186.1L58.8 185.4ZM42.8 204.1L45.0 202.3L45.8 203.6L45.5 206.2M124.2 14.8L120.7 14.7L118.4 15.7L116.0 15.9L113.8 16.2L111.9 17.0L113.0 17.8L112.3 18.9L111.5 20.8L112.7 21.9L113.8 21.8L114.1 23.4L114.5 25.0L116.0 26.3L116.8 29.0L118.1 30.1L119.1 30.1L118.1 30.8L117.3 32.6L116.9 34.5L119.9 34.3L118.5 36.3L121.0 37.0L122.2 35.1L122.5 33.0L122.6 31.2L122.8 28.8L121.5 29.8L122.0 27.7L121.8 26.9L119.6 27.3L119.3 25.1L119.1 23.2L121.4 23.1L121.7 21.8L121.0 20.7L123.1 19.5L122.5 18.7L119.7 18.2L119.5 17.4L121.4 17.5L122.9 16.0ZM130.6 19.4L128.0 19.8L124.8 20.5L124.0 23.4L123.8 25.2L122.7 26.7L123.6 28.4L125.3 29.1L127.3 28.1L127.0 27.0L129.6 26.8L130.3 24.8L128.6 23.7L130.0 22.3L131.3 21.2ZM135.4 52.5L139.0 55.0L139.3 57.8L139.0 59.7L136.7 61.1L135.7 58.3L134.2 59.3L132.5 59.0L130.2 59.1L128.9 58.2L128.4 55.5L129.9 53.5L132.7 52.7ZM105.1 82.7L107.0 84.7L107.9 86.3L109.3 88.0L109.4 89.9L107.7 90.8L106.3 90.0L104.4 88.1L104.8 85.4ZM106.1 90.1L106.5 92.5L103.7 93.1L103.1 91.0L105.0 89.7ZM103.1 85.5L104.1 87.4L102.8 88.0L101.8 86.5ZM97.0 97.2L98.1 98.8L97.1 100.5L95.9 99.6ZM94.8 100.7L96.4 101.8L96.4 103.6L94.2 103.7L93.9 102.1ZM74.9 88.5L76.3 86.8L79.2 86.3L80.8 88.2L81.7 90.2L82.7 91.8L84.3 93.7L85.1 96.0L85.2 98.4L85.5 101.1L85.2 102.4L83.7 101.5L82.8 98.9L81.9 95.2L80.7 92.5L79.3 90.3L77.0 89.2L74.9 89.3ZM77.1 81.0L75.9 81.7L75.2 80.5L76.1 79.9ZM73.7 89.3L72.3 89.9L72.0 89.0ZM86.4 118.8L86.4 121.1L88.5 119.8L88.8 118.9ZM88.0 116.2L88.9 118.1L90.6 117.9L92.6 116.6L90.3 115.2ZM91.0 117.4L91.2 118.2L93.3 116.3L92.5 115.8ZM89.9 141.5L90.3 139.9L92.1 139.0L93.1 140.1L93.7 141.8L92.6 142.8L91.0 142.2ZM94.4 144.0L95.1 143.4L97.0 144.5L95.7 145.5ZM88.4 144.8L90.0 144.5L90.6 145.9L89.3 145.8ZM113.3 160.1L113.9 158.6L115.9 158.8L115.3 160.1ZM165.7 60.5L165.9 64.1L167.3 66.7L166.5 69.6L165.4 72.2L163.6 74.9L161.9 78.0L159.5 80.7L157.1 82.0L155.2 82.0L153.5 82.2L152.4 83.6L152.3 86.8L151.1 88.6L148.7 90.7L146.7 92.9L145.1 95.0L143.6 96.3L143.9 98.8L145.4 100.4L144.6 102.3L142.6 103.9L141.4 105.6L138.8 104.0L136.4 104.5L135.1 104.6L133.1 104.3L130.8 104.0L128.9 102.5L126.2 102.0L122.7 101.0L121.2 99.1L120.7 97.1L118.5 93.9L120.6 92.0L122.5 90.1L123.9 86.7L124.2 84.2L125.7 82.2L126.1 79.7L128.1 77.9L130.0 76.0L131.3 73.9L131.5 71.3L132.0 70.2L133.0 69.8L134.5 68.6L137.3 67.7L140.7 68.1L144.0 68.1L147.3 66.7L150.3 67.0L153.4 67.3L155.5 65.7L158.0 64.5L160.3 63.2L162.5 61.8L164.6 60.3ZM154.6 84.1L154.3 85.7L152.9 85.9L152.6 83.9ZM209.7 178.3L205.8 175.6L203.7 174.7L200.0 173.3L202.2 171.0L204.8 171.6L202.8 170.1L200.4 169.8L197.1 170.8L192.4 172.7L190.0 172.7L187.2 171.9L182.3 171.6L179.6 170.7L176.7 170.1L173.8 169.4L169.9 168.5L167.2 167.6L167.8 170.2L167.8 170.9L164.9 170.7L162.3 170.7L159.6 171.9L156.9 173.6L154.6 173.6L152.4 173.8L152.7 176.6L150.3 180.1L148.8 177.4L149.5 174.9L148.0 177.3L147.7 180.9L148.2 183.5L146.8 187.0L144.6 190.8L142.0 194.5L139.0 197.4L139.9 195.2L141.6 193.2L144.1 189.6L144.2 186.1L142.4 185.2L140.1 186.6L138.1 187.0L137.2 184.3L133.0 183.7L131.2 181.5L131.7 178.8L132.9 176.6L134.8 175.2L134.5 172.6L132.5 173.5L130.0 174.0L128.3 172.3L126.5 172.0L128.2 169.8L130.0 168.5L132.3 169.2L131.1 167.4L129.3 166.4L126.6 165.1L126.7 163.5L128.6 160.7L129.4 159.1L131.2 156.9L132.2 155.1L135.3 155.0L137.9 154.7L141.1 153.6L143.9 152.5L146.0 151.7L149.2 151.3L150.3 148.1L151.4 145.0L152.6 144.3L151.5 142.9L154.5 142.6L154.0 141.2L156.1 141.1L158.8 138.6L160.5 136.4L163.1 136.7L164.0 134.0L165.5 131.5L167.7 131.2L165.2 129.9L165.2 127.1L166.7 125.0L167.6 121.9L166.0 120.7L167.6 119.5L166.3 117.5L163.8 117.4L161.2 119.2L158.8 118.2L157.6 117.3L159.4 116.3L161.9 115.6L163.9 116.1L165.2 114.3L166.4 113.7L164.4 112.6L167.6 111.6L168.8 111.0L165.0 109.9L163.0 109.9L163.5 107.0L165.9 106.6L168.3 105.8L171.5 107.4L171.3 110.1L173.8 110.8L177.7 112.2L179.4 114.7L180.7 116.3L184.9 119.0L187.6 120.1L190.7 119.5L194.8 117.4L195.6 113.9L198.1 110.2L199.7 106.4L199.5 102.4L202.7 101.9L205.3 101.4L207.2 100.0L209.4 98.0L208.5 96.1L206.2 95.4L202.4 96.8L200.5 98.1L198.1 95.6L195.2 94.6L192.2 95.6L190.1 97.9L186.1 97.7L183.7 99.1L180.2 99.8L180.1 97.1L180.4 92.4L181.0 89.6L183.2 88.3L184.9 87.6L186.1 86.3L187.2 85.0L184.6 82.6L182.3 82.6L179.9 83.0L182.4 79.8L184.0 77.3L187.0 74.7L188.4 70.8L189.5 66.9L189.3 63.3L191.7 61.1L194.9 61.5L200.4 64.2L203.2 69.6L205.4 74.1L208.4 74.9L211.4 76.6L216.4 78.2L213.5 76.8L209.6 74.4L206.8 70.8L207.2 69.0L210.2 70.2L210.3 69.1L212.2 68.0L213.5 65.5L213.2 62.4L212.7 60.3L216.4 60.8M193.1 59.8L197.1 58.0L197.3 55.8L196.1 53.3L197.0 51.8L199.0 49.4L201.7 48.3L202.4 50.3L201.1 50.8L204.0 53.0L203.1 55.1L205.8 59.5L203.4 60.3L200.2 60.2L197.2 60.7ZM212.3 59.6L208.4 60.7L209.8 58.6L211.8 58.7ZM204.7 70.8L203.2 66.6L204.4 65.4L205.2 68.6ZM201.3 171.5L198.6 173.4L194.5 174.4L190.9 174.6L193.5 172.5L197.8 171.3ZM185.5 176.0L181.2 175.6L179.1 174.4L180.9 173.2L182.8 175.1ZM149.9 187.6L148.3 186.1L150.0 184.0L151.7 184.9ZM177.6 172.9L174.4 171.3L176.0 170.8L177.9 171.8ZM173.2 171.8L169.5 170.7L169.8 169.4L172.8 170.4ZM137.4 198.9L137.5 197.6L139.3 197.3L139.3 198.1ZM133.2 203.0L135.1 200.6L135.6 201.3L132.6 203.9ZM123.4 208.0L125.7 206.9L126.1 207.4ZM118.5 209.1L120.9 208.2L120.9 209.0ZM123.6 178.4L123.7 177.1L127.0 177.8L126.0 178.8ZM130.5 185.7L131.6 184.3L132.7 185.6ZM174.4 108.1L175.7 104.7L178.0 103.2L179.3 106.5L178.6 110.0L176.3 110.6L174.5 109.2ZM177.0 85.9L176.8 89.3L175.6 93.4L174.6 97.2L175.2 100.4L172.8 101.3L171.6 97.5L168.9 97.2L166.5 97.9L164.5 100.0L162.7 102.7L161.8 104.7L163.0 107.1L161.3 110.2L162.7 112.6L159.0 113.9L155.3 113.5L153.3 112.5L153.5 110.5L156.4 110.6L153.4 109.8L153.1 107.8L154.8 104.9L155.7 102.4L157.3 99.9L158.2 96.6L160.0 94.5L161.9 92.7L162.9 89.1L164.2 86.6L167.4 86.3L167.3 91.4L169.2 87.1L173.9 85.7L174.0 90.4ZM154.9 106.7L153.0 107.1L153.0 104.6L154.4 104.3ZM161.9 134.6L159.4 136.4L157.2 136.2L154.7 135.8L153.2 135.5L151.4 133.6L151.6 130.9L152.2 127.7L153.6 125.6L156.3 125.2L158.8 125.4L161.8 123.1L164.2 124.0L163.6 127.6L163.7 130.4ZM152.6 138.8L149.6 139.3L147.1 136.4L146.2 133.8L147.7 131.7L150.2 131.0L151.0 134.3L152.8 136.6ZM149.9 124.4L147.8 127.4L145.7 130.2L143.9 128.4L144.3 124.2L147.2 123.0ZM142.7 132.0L141.4 129.5L141.1 127.0L142.8 129.0ZM149.8 120.5L147.2 121.2L145.9 118.9L147.7 118.3L150.1 118.9ZM151.0 117.8L149.0 117.7L149.2 116.0L150.9 116.1ZM158.9 121.0L155.5 123.0L152.5 121.0L153.0 119.0L156.3 118.8L158.6 119.7ZM157.4 117.7L153.9 117.7L152.3 116.2L153.4 113.9L156.1 114.6L157.7 116.6ZM165.8 121.6L163.8 121.7L162.8 120.3L164.9 118.8L166.1 119.8ZM151.3 108.7L151.4 112.6L150.7 115.2L147.9 116.0L145.4 116.9L146.8 113.6L148.6 111.5L148.0 108.0L149.4 107.6ZM146.9 108.7L146.5 111.9L147.3 113.6L145.1 112.8L142.7 113.2L140.6 111.8L138.3 112.6L135.9 114.1L134.0 113.6L132.1 111.4L130.3 109.6L129.9 107.6L130.5 105.1L132.7 105.1L135.7 105.9L137.9 106.5L141.0 106.7L143.0 107.8L145.4 107.6ZM142.4 115.1L139.4 116.3L136.5 115.8L135.2 114.6L137.6 113.1L140.7 112.7ZM143.4 117.5L142.1 118.1L141.3 117.0L143.1 116.2ZM142.1 119.6L140.4 120.6L139.3 119.7L140.8 118.3ZM21.3 137.1L24.0 139.8L27.5 142.1L31.4 142.9L34.6 142.6L32.5 142.1L29.0 141.6L26.4 140.4L23.0 138.4ZM76.2 51.0L78.4 52.4L78.5 54.4L76.1 54.7L74.9 52.7ZM72.9 55.9L75.7 57.4L76.2 59.5L73.5 58.3ZM165.3 147.0L162.7 146.5L162.4 142.8L165.2 140.9L166.0 143.1L166.2 145.1ZM177.6 146.1L177.3 143.7L176.8 140.4L176.7 136.6L178.1 136.5L178.7 140.6L178.9 144.0ZM186.1 141.5L185.3 138.3L186.1 135.2L187.0 135.4L186.8 138.9ZM195.2 131.8L192.8 132.0L191.0 130.2L193.5 130.0ZM212.4 125.6L209.4 125.6L205.6 128.0L202.9 127.9L203.1 126.4L206.8 125.3L210.4 124.5ZM223.5 117.7L221.6 115.8L219.7 113.0L217.2 110.7L217.6 107.6L219.5 104.7L222.2 103.9L223.5 106.3L222.9 110.1L223.3 114.9ZM229.3 109.1L226.5 108.4L224.9 105.2L225.3 103.8L228.6 106.3M228.6 100.5L225.8 102.8L224.0 102.4L224.1 98.5L225.6 95.3L227.9 95.5M58.7 13.1L58.2 15.6L58.2 17.6L58.4 19.7L56.6 21.2L53.9 20.9L52.6 21.4L53.8 19.0L51.7 19.0L50.1 18.0M47.5 20.2L48.4 21.6L47.2 23.2L50.5 22.8L51.0 24.5L49.0 26.7L48.5 28.5L46.6 30.3L46.8 28.4L45.9 26.6L45.8 24.2L46.5 23.0L43.8 22.9M30.4 35.1L30.9 36.6L32.1 38.6L31.4 41.9L30.2 44.6L29.3 47.0L27.1 48.2L25.0 47.1L24.8 45.2L25.6 42.8L25.7 40.4M16.4 53.4L17.4 54.5L18.8 56.5L19.2 60.1L18.5 62.5L16.9 62.1L15.8 60.0L14.1 60.2L13.1 59.0M6.2 82.3L8.3 84.1L9.1 86.7L7.6 89.3L7.3 93.1L6.3 92.9L6.8 89.1L8.0 86.4L7.1 84.4ZM88.9 36.7L88.7 39.2L88.3 38.0ZM96.6 29.2L97.8 30.8L96.5 32.2L95.9 30.1ZM84.8 40.9L85.1 42.5L83.7 42.5ZM122.5 44.4L122.8 46.8L122.0 46.4ZM116.0 40.1L115.8 42.4L115.4 41.4Z" fill="none" stroke="#000" stroke-width="1" stroke-linejoin="round" stroke-linecap="round"/><circle cx="114.3" cy="113.9" r="73.3" fill="none" stroke="#1a1a10" stroke-width="1.1" stroke-dasharray="1.4 1.9"/><path d="M114.3 0.3V227.5M0.6 113.9H228" fill="none" stroke="#1a1a10" stroke-width="1.1" stroke-dasharray="1.4 1.9"/></g>
</g>
<circle cx="114.5" cy="113.9" r="113.4" fill="none" stroke="#222" stroke-width="0.8"/>
</g>
<g transform="translate(246 6)">
<g clip-path="url(#cc)">
<rect x="0" y="0" width="229" height="229" fill="#c8f5ff"/>
<g filter="url(#rg)">
<g clip-path="url(#k1)">
<path d="M36.0 33.6C38.0 30.6 42.4 23.1 45.6 20.4C48.8 17.7 52.0 18.2 55.2 17.3C58.4 16.4 62.0 14.5 64.8 14.9C67.6 15.3 69.6 18.4 72.0 19.7C74.4 21.0 76.8 21.6 79.2 22.8C81.6 24.0 83.6 25.9 86.4 26.9C89.2 27.9 93.0 27.9 96.0 28.8C99.0 29.7 102.6 30.6 104.4 32.4C106.2 34.2 106.6 37.0 106.8 39.6C107.0 42.2 106.4 45.2 105.6 48.0C104.8 50.8 103.2 53.8 102.0 56.4C100.8 59.0 99.5 61.3 98.4 63.6C97.3 65.9 95.9 68.1 95.5 70.1C95.1 72.1 94.9 73.9 96.0 75.6C97.1 77.3 100.8 78.6 102.0 80.4C103.2 82.2 103.6 84.6 103.2 86.4C102.8 88.2 100.4 89.2 99.6 91.2C98.8 93.2 98.0 96.0 98.4 98.4C98.8 100.8 101.6 103.4 102.0 105.6C102.4 107.8 101.8 106.4 100.8 111.6C99.8 116.8 108.0 132.6 96.0 136.8C84.0 141.0 40.1 142.0 28.8 136.8C17.5 131.6 28.1 112.4 28.3 105.6C28.5 98.8 30.5 99.2 30.0 96.0C29.5 92.8 26.6 89.6 25.2 86.4C23.8 83.2 22.6 79.6 21.6 76.8C20.6 74.0 19.4 72.4 19.2 69.6C19.0 66.8 19.4 63.0 20.4 60.0C21.4 57.0 23.6 54.0 25.2 51.6C26.8 49.2 28.6 47.8 30.0 45.6C31.4 43.4 32.6 40.4 33.6 38.4C34.6 36.4 34.0 36.6 36.0 33.6Z" fill="#a5f0ff"/>
<path d="M54.0 26.4C56.1 25.2 59.8 24.2 62.4 24.0C65.0 23.8 67.6 24.2 69.6 25.2C71.6 26.2 73.2 28.2 74.4 30.0C75.6 31.8 75.8 34.4 76.8 36.0C77.8 37.6 78.8 39.2 80.4 39.6C82.0 40.0 84.2 38.2 86.4 38.4C88.6 38.6 91.6 39.4 93.6 40.8C95.6 42.2 97.2 44.6 98.4 46.8C99.6 49.0 100.8 51.4 100.8 54.0C100.8 56.6 99.4 59.8 98.4 62.4C97.4 65.0 95.4 67.6 94.8 69.6C94.2 71.6 94.0 72.6 94.8 74.4C95.6 76.2 99.4 78.5 99.6 80.4C99.8 82.3 97.4 84.0 96.0 85.7C94.6 87.4 91.8 88.4 91.2 90.7C90.6 93.0 91.4 96.8 92.4 99.4C93.4 101.9 96.7 104.1 97.2 106.1C97.7 108.0 97.7 106.0 95.5 111.1C93.3 116.2 92.9 132.5 84.0 136.8C75.1 141.1 49.2 142.0 42.0 136.8C34.8 131.6 41.4 112.4 40.8 105.6C40.2 98.8 39.2 99.2 38.4 96.0C37.6 92.8 36.2 89.6 36.0 86.4C35.8 83.2 36.6 80.0 37.2 76.8C37.8 73.6 38.8 70.4 39.6 67.2C40.4 64.0 41.2 60.8 42.0 57.6C42.8 54.4 43.6 51.2 44.4 48.0C45.2 44.8 45.9 41.2 46.8 38.4C47.7 35.6 48.7 33.2 49.9 31.2C51.1 29.2 51.9 27.6 54.0 26.4Z" fill="#82cdff"/>
<path d="M60.0 33.6C62.0 32.4 65.4 31.8 67.2 32.4C69.0 33.0 70.0 35.2 70.8 37.2C71.6 39.2 71.0 42.6 72.0 44.4C73.0 46.2 75.0 47.8 76.8 48.0C78.6 48.2 80.8 45.6 82.8 45.6C84.8 45.6 86.8 46.4 88.8 48.0C90.8 49.6 93.6 52.8 94.8 55.2C96.0 57.6 96.4 60.0 96.0 62.4C95.6 64.8 94.0 67.7 92.4 69.6C90.8 71.5 87.0 72.1 86.4 73.9C85.8 75.8 88.9 78.4 89.0 80.6C89.2 82.9 88.2 85.1 87.4 87.4C86.5 89.6 84.0 91.5 84.0 94.1C84.0 96.6 86.6 100.2 87.4 102.7C88.2 105.3 89.9 103.8 88.8 109.4C87.7 115.1 87.4 132.2 80.6 136.8C73.8 141.4 53.6 142.0 48.0 136.8C42.4 131.6 47.4 112.4 46.8 105.6C46.2 98.8 45.2 99.2 44.4 96.0C43.6 92.8 42.2 89.6 42.0 86.4C41.8 83.2 42.6 80.0 43.2 76.8C43.8 73.6 44.8 70.4 45.6 67.2C46.4 64.0 47.0 60.8 48.0 57.6C49.0 54.4 50.4 51.0 51.6 48.0C52.8 45.0 53.8 42.0 55.2 39.6C56.6 37.2 58.0 34.8 60.0 33.6Z" fill="#32a0e6"/>
<path d="M61.2 43.2C62.8 42.6 65.6 44.2 67.2 45.6C68.8 47.0 69.2 50.0 70.8 51.6C72.4 53.2 74.8 54.8 76.8 55.2C78.8 55.6 81.0 53.4 82.8 54.0C84.6 54.6 86.6 56.8 87.6 58.8C88.6 60.8 89.2 63.8 88.8 66.0C88.4 68.2 86.2 69.8 85.2 72.0C84.2 74.2 82.8 77.0 82.8 79.2C82.8 81.4 84.2 83.2 85.2 85.2C86.2 87.2 89.0 89.4 88.8 91.2C88.6 93.0 85.6 94.4 84.0 96.0C82.4 97.6 80.8 98.8 79.2 100.8C77.6 102.8 75.6 102.0 74.4 108.0C73.2 114.0 75.8 132.0 72.0 136.8C68.2 141.6 55.1 142.0 51.6 136.8C48.1 131.6 51.3 112.4 50.9 105.6C50.5 98.8 49.7 99.2 49.2 96.0C48.7 92.8 48.0 89.6 48.0 86.4C48.0 83.2 48.6 80.0 49.2 76.8C49.8 73.6 50.8 70.4 51.6 67.2C52.4 64.0 53.0 60.6 54.0 57.6C55.0 54.6 56.4 51.6 57.6 49.2C58.8 46.8 59.6 43.8 61.2 43.2Z" fill="#198cf0"/>
<path d="M56.4 72.0C57.9 68.8 60.2 66.2 62.4 64.8C64.6 63.4 67.2 63.6 69.6 63.6C72.0 63.6 75.0 63.8 76.8 64.8C78.6 65.8 80.2 67.6 80.4 69.6C80.6 71.6 78.2 74.6 78.0 76.8C77.8 79.0 79.4 80.8 79.2 82.8C79.0 84.8 78.0 86.8 76.8 88.8C75.6 90.8 73.6 92.8 72.0 94.8C70.4 96.8 68.6 98.6 67.2 100.8C65.8 103.0 64.3 102.0 63.6 108.0C62.9 114.0 64.5 132.0 62.9 136.8C61.3 141.6 55.6 142.0 54.0 136.8C52.4 131.6 53.6 112.4 53.3 105.6C53.0 98.8 52.3 99.6 52.3 96.0C52.3 92.4 52.6 88.0 53.3 84.0C54.0 80.0 54.9 75.2 56.4 72.0Z" fill="#0c7de1"/>
<path d="M57.6 105.6C57.8 103.4 59.6 101.0 61.2 99.6C62.8 98.2 65.2 97.4 67.2 97.2C69.2 97.0 71.8 97.4 73.2 98.4C74.6 99.4 75.8 101.4 75.6 103.2C75.4 105.0 73.6 107.6 72.0 109.2C70.4 110.8 68.0 112.2 66.0 112.8C64.0 113.4 61.4 114.0 60.0 112.8C58.6 111.6 57.4 107.8 57.6 105.6Z" fill="#0a6ecd"/>
<path d="M31.2 36.0C32.2 38.2 30.9 42.3 30.0 44.4C29.1 46.5 25.9 46.8 25.9 48.7C26.0 50.6 30.0 53.1 30.2 55.7C30.5 58.2 28.2 61.6 27.4 64.1C26.5 66.6 25.8 68.2 25.2 70.8C24.6 73.4 23.9 77.3 23.5 79.9C23.1 82.5 22.3 84.1 22.8 86.4C23.3 88.7 26.0 91.2 26.4 93.6C26.8 96.0 25.8 98.4 25.2 100.8C24.6 103.2 23.0 102.0 22.8 108.0C22.6 114.0 31.6 132.0 24.0 136.8C16.4 141.6 -15.0 147.6 -22.8 136.8C-30.6 126.0 -28.2 86.8 -22.8 72.0C-17.4 57.2 1.8 54.8 9.6 48.0C17.4 41.2 20.4 33.2 24.0 31.2C27.6 29.2 30.2 33.8 31.2 36.0Z" fill="#ffe673"/>
<path d="M-22.8 88.8C-17.4 80.6 2.8 87.2 9.6 87.6C16.4 88.0 16.2 89.4 18.0 91.2C19.8 93.0 20.4 96.0 20.4 98.4C20.4 100.8 18.2 99.2 18.0 105.6C17.8 112.0 26.0 131.6 19.2 136.8C12.4 142.0 -15.8 144.8 -22.8 136.8C-29.8 128.8 -28.2 97.0 -22.8 88.8Z" fill="#ffbe3c"/>
<path d="M13.2 53.3C14.1 52.0 17.2 50.1 19.2 49.2C21.2 48.3 24.4 47.5 25.2 48.0C26.0 48.5 25.1 51.0 24.0 52.3C22.9 53.6 20.4 54.9 18.7 55.7C17.0 56.5 14.8 57.5 13.9 57.1C13.0 56.7 12.3 54.6 13.2 53.3Z" fill="#ffbe3c"/>
<path d="M-22.8 96.0C-17.8 89.0 1.2 94.4 7.2 94.8C13.2 95.2 12.0 96.6 13.2 98.4C14.4 100.2 14.6 99.2 14.4 105.6C14.2 112.0 18.2 131.6 12.0 136.8C5.8 142.0 -17.0 143.6 -22.8 136.8C-28.6 130.0 -27.8 103.0 -22.8 96.0Z" fill="#ff9b00"/>
<path d="M63.6 10.8C63.2 17.6 67.4 17.0 69.6 18.0C71.8 19.0 74.6 16.4 76.8 16.8C79.0 17.2 80.4 19.4 82.8 20.4C85.2 21.4 88.6 23.0 91.2 22.8C93.8 22.6 96.0 19.4 98.4 19.2C100.8 19.0 99.2 21.6 105.6 21.6C112.0 21.6 131.6 26.6 136.8 19.2C142.0 11.8 147.6 -15.8 136.8 -22.8C126.0 -29.8 84.2 -28.4 72.0 -22.8C59.8 -17.2 64.0 4.0 63.6 10.8Z" fill="#ffe673"/>
<path d="M75.6 8.4C76.2 7.1 81.0 7.0 84.0 7.2C87.0 7.4 91.6 8.4 93.6 9.6C95.6 10.8 96.8 13.3 96.0 14.4C95.2 15.5 91.4 16.2 88.8 16.3C86.2 16.4 82.6 16.2 80.4 14.9C78.2 13.6 75.0 9.7 75.6 8.4Z" fill="#ffbe3c"/>
<path d="M103.7 10.8C108.7 9.6 131.3 8.7 136.8 9.6C142.3 10.5 141.8 15.1 136.8 16.3C131.8 17.5 112.3 17.7 106.8 16.8C101.3 15.9 98.7 12.0 103.7 10.8Z" fill="#ffbe3c"/>
<path d="M136.8 45.6C132.2 30.8 114.6 47.0 109.2 48.0C103.8 49.0 105.5 50.0 104.4 51.6C103.3 53.2 103.0 55.5 102.5 57.6C101.9 59.7 100.9 61.4 101.0 64.1C101.2 66.8 102.9 70.6 103.4 73.9C104.0 77.2 104.5 80.9 104.4 84.0C104.3 87.1 102.7 89.8 102.7 92.6C102.7 95.5 104.3 98.2 104.4 101.0C104.5 103.8 104.0 103.5 103.4 109.4C102.9 115.4 95.5 132.2 101.0 136.8C106.6 141.4 130.8 152.0 136.8 136.8C142.8 121.6 141.4 60.4 136.8 45.6Z" fill="#ffe673"/>
<path d="M136.8 86.4C132.2 78.3 114.4 87.1 109.2 88.3C104.0 89.5 106.4 91.5 105.6 93.6C104.8 95.7 104.6 98.4 104.6 100.8C104.6 103.2 105.2 102.0 105.6 108.0C106.0 114.0 101.6 132.0 106.8 136.8C112.0 141.6 131.8 145.2 136.8 136.8C141.8 128.4 141.4 94.5 136.8 86.4Z" fill="#ffbe3c"/>
<path d="M136.8 93.1C132.4 91.4 115.2 93.8 110.4 94.8C105.6 95.8 108.1 97.4 108.0 98.9C107.9 100.4 105.1 102.6 109.9 103.7C114.7 104.7 132.3 106.9 136.8 105.1C141.3 103.4 141.2 94.8 136.8 93.1Z" fill="#ff9b00"/>
</g>
<g clip-path="url(#k2)">
<path d="M91.2 -22.8C117.8 -49.4 224.2 -49.4 250.8 -22.8C277.4 3.8 277.4 110.2 250.8 136.8C224.2 163.4 117.8 163.4 91.2 136.8C64.6 110.2 64.6 3.8 91.2 -22.8Z" fill="#ffe673"/>
<path d="M142.8 2.4C124.8 7.8 142.4 7.0 142.8 9.6C143.2 12.2 143.6 16.2 145.2 18.0C146.8 19.8 149.6 19.8 152.4 20.4C155.2 21.0 158.8 20.6 162.0 21.6C165.2 22.6 168.6 25.0 171.6 26.4C174.6 27.8 177.6 29.0 180.0 30.0C182.4 31.0 184.2 31.0 186.0 32.4C187.8 33.8 189.2 36.2 190.8 38.4C192.4 40.6 193.8 43.8 195.6 45.6C197.4 47.4 199.6 47.8 201.6 49.2C203.6 50.6 206.0 52.2 207.6 54.0C209.2 55.8 210.2 57.8 211.2 60.0C212.2 62.2 212.8 64.8 213.6 67.2C214.4 69.6 215.0 72.2 216.0 74.4C217.0 76.6 218.4 78.8 219.6 80.4C220.8 82.0 218.0 83.4 223.2 84.0C228.4 84.6 246.2 101.8 250.8 84.0C255.4 66.2 268.8 -9.2 250.8 -22.8C232.8 -36.4 160.8 -3.0 142.8 2.4Z" fill="#c8f5ff"/>
<path d="M210.0 96.0C211.0 94.2 214.2 93.2 217.2 92.4C220.2 91.6 222.4 83.8 228.0 91.2C233.6 98.6 253.0 129.2 250.8 136.8C248.6 144.4 220.6 141.6 214.8 136.8C209.0 132.0 216.6 113.6 216.0 108.0C215.4 102.4 212.2 105.2 211.2 103.2C210.2 101.2 209.0 97.8 210.0 96.0Z" fill="#c8f5ff"/>
<path d="M156.0 79.2C157.6 76.6 160.3 74.8 162.0 73.2C163.7 71.6 165.4 69.0 166.3 69.6C167.2 70.2 167.6 74.4 167.3 76.8C167.0 79.2 165.5 81.6 164.4 84.0C163.3 86.4 162.0 88.8 160.8 91.2C159.6 93.6 158.4 96.0 157.2 98.4C156.0 100.8 154.8 104.2 153.6 105.6C152.4 107.0 150.4 108.0 150.0 106.8C149.6 105.6 150.8 101.4 151.2 98.4C151.6 95.4 151.6 92.0 152.4 88.8C153.2 85.6 154.4 81.8 156.0 79.2Z" fill="#c8f5ff"/>
<path d="M91.2 104.4C95.6 99.2 112.8 104.6 117.6 105.6C122.4 106.6 119.8 105.2 120.0 110.4C120.2 115.6 123.6 132.4 118.8 136.8C114.0 141.2 95.8 142.2 91.2 136.8C86.6 131.4 86.8 109.6 91.2 104.4Z" fill="#c8f5ff"/>
<path d="M91.2 1.2C96.0 -0.3 114.8 0.9 120.0 1.9C125.2 2.9 122.6 5.7 122.4 7.2C122.2 8.7 124.0 10.2 118.8 10.8C113.6 11.4 95.8 12.4 91.2 10.8C86.6 9.2 86.4 2.7 91.2 1.2Z" fill="#ffbe3c"/>
<path d="M91.2 86.4C95.6 78.2 112.8 86.4 117.6 87.6C122.4 88.8 119.7 91.0 120.0 93.6C120.3 96.2 119.9 100.0 119.3 103.2C118.7 106.4 121.1 107.2 116.4 112.8C111.7 118.4 95.4 141.2 91.2 136.8C87.0 132.4 86.8 94.6 91.2 86.4Z" fill="#ffbe3c"/>
<path d="M126.0 73.2C127.3 71.8 129.6 70.6 132.0 69.6C134.4 68.6 137.4 67.9 140.4 67.2C143.4 66.5 146.8 66.1 150.0 65.3C153.2 64.5 157.0 63.2 159.6 62.4C162.2 61.6 164.5 60.0 165.6 60.7C166.7 61.4 166.9 64.8 166.3 66.7C165.7 68.6 163.6 69.9 162.0 72.0C160.4 74.1 158.4 76.7 156.7 79.2C155.0 81.7 153.5 84.4 151.9 86.9C150.3 89.4 149.2 92.4 147.1 94.1C145.0 95.8 141.7 96.9 139.2 97.2C136.7 97.5 134.1 97.0 132.0 96.0C129.9 95.0 127.9 93.2 126.5 91.2C125.1 89.2 124.0 86.2 123.6 84.0C123.2 81.8 123.7 79.8 124.1 78.0C124.5 76.2 124.7 74.6 126.0 73.2Z" fill="#ffbe3c"/>
<path d="M128.4 76.8C129.7 75.0 132.8 73.1 135.6 72.0C138.4 70.9 142.2 70.7 145.2 70.1C148.2 69.5 151.4 68.5 153.6 68.4C155.8 68.3 158.0 68.2 158.4 69.6C158.8 71.0 157.2 74.4 156.0 76.8C154.8 79.2 153.0 81.8 151.2 84.0C149.4 86.2 147.4 88.6 145.2 90.0C143.0 91.4 140.3 92.6 138.0 92.4C135.7 92.2 133.0 90.4 131.3 88.8C129.6 87.2 128.4 84.8 127.9 82.8C127.4 80.8 127.1 78.6 128.4 76.8Z" fill="#ff9b00"/>
<path d="M133.2 78.0C133.8 76.3 137.2 75.2 139.2 74.9C141.2 74.6 144.0 75.2 145.2 76.3C146.4 77.4 147.0 80.0 146.4 81.6C145.8 83.2 143.4 85.3 141.6 85.9C139.8 86.5 137.0 86.5 135.6 85.2C134.2 83.9 132.6 79.7 133.2 78.0Z" fill="#ff5f00"/>
<path d="M182.4 46.8C183.6 45.0 186.6 44.0 188.4 44.4C190.2 44.8 192.0 47.2 193.2 49.2C194.4 51.2 194.2 54.6 195.6 56.4C197.0 58.2 199.4 58.8 201.6 60.0C203.8 61.2 206.6 62.0 208.8 63.6C211.0 65.2 213.4 67.4 214.8 69.6C216.2 71.8 217.0 74.2 217.2 76.8C217.4 79.4 217.0 82.6 216.0 85.2C215.0 87.8 213.0 90.6 211.2 92.4C209.4 94.2 207.4 95.2 205.2 96.0C203.0 96.8 200.4 96.8 198.0 97.2C195.6 97.6 193.2 97.8 190.8 98.4C188.4 99.0 186.0 100.0 183.6 100.8C181.2 101.6 178.4 102.4 176.4 103.2C174.4 104.0 173.4 105.6 171.6 105.6C169.8 105.6 167.0 104.6 165.6 103.2C164.2 101.8 163.2 99.2 163.2 97.2C163.2 95.2 164.4 93.0 165.6 91.2C166.8 89.4 168.8 88.0 170.4 86.4C172.0 84.8 174.0 83.6 175.2 81.6C176.4 79.6 176.8 77.2 177.6 74.4C178.4 71.6 179.4 68.0 180.0 64.8C180.6 61.6 180.8 58.2 181.2 55.2C181.6 52.2 181.2 48.6 182.4 46.8Z" fill="#ffbe3c"/>
<path d="M183.6 55.2C185.0 52.8 187.3 51.4 188.9 51.6C190.5 51.8 191.9 54.5 193.2 56.4C194.5 58.3 195.5 60.7 196.8 62.9C198.1 65.1 200.1 67.1 200.9 69.6C201.7 72.1 201.8 75.4 201.6 78.0C201.4 80.6 200.9 83.0 199.9 85.2C198.9 87.4 197.0 89.4 195.6 91.2C194.2 93.0 192.4 94.0 191.3 96.0C190.2 98.0 189.8 100.8 188.9 103.2C188.0 105.6 187.3 104.8 186.0 110.4C184.7 116.0 185.8 132.4 181.2 136.8C176.6 141.2 162.4 141.6 158.4 136.8C154.4 132.0 157.0 114.0 157.2 108.0C157.4 102.0 158.8 103.0 159.6 100.8C160.4 98.6 161.0 96.8 162.0 94.8C163.0 92.8 164.2 90.4 165.6 88.8C167.0 87.2 168.8 86.4 170.4 85.2C172.0 84.0 173.9 83.2 175.2 81.6C176.5 80.0 177.4 78.2 178.3 75.6C179.2 73.0 179.8 69.4 180.7 66.0C181.6 62.6 182.2 57.6 183.6 55.2Z" fill="#ff9b00"/>
<path d="M154.8 105.6C155.4 104.4 158.2 103.5 159.6 103.7C161.0 103.9 162.9 105.6 163.2 106.8C163.5 108.0 162.7 110.2 161.5 110.9C160.3 111.6 157.1 111.8 156.0 110.9C154.9 110.0 154.2 106.8 154.8 105.6Z" fill="#ff5f00"/>
<path d="M187.9 66.0C189.0 64.3 191.2 62.5 192.7 62.9C194.2 63.3 196.0 66.3 196.8 68.4C197.6 70.5 197.8 73.4 197.5 75.6C197.2 77.8 196.3 80.2 195.1 81.6C193.9 83.0 191.8 84.2 190.3 84.0C188.9 83.8 187.2 82.2 186.5 80.4C185.8 78.6 185.8 75.6 186.0 73.2C186.2 70.8 186.8 67.7 187.9 66.0Z" fill="#ff5f00"/>
<path d="M167.3 93.6C167.9 91.8 170.0 88.7 171.6 87.6C173.2 86.5 175.5 86.3 176.9 86.9C178.3 87.5 179.8 89.5 180.0 91.2C180.2 92.9 179.5 95.7 178.3 97.2C177.1 98.7 174.5 100.1 172.8 100.3C171.1 100.5 168.9 99.5 168.0 98.4C167.1 97.3 166.7 95.4 167.3 93.6Z" fill="#ff5f00"/>
<path d="M189.6 70.8C190.3 69.7 192.4 69.0 193.2 69.6C194.0 70.2 194.8 72.9 194.6 74.4C194.4 75.9 193.0 78.4 192.0 78.7C191.0 79.0 189.3 77.6 188.9 76.3C188.5 75.0 188.9 71.9 189.6 70.8Z" fill="#ff4100"/>
<path d="M121.2 105.6C122.8 100.0 127.6 103.2 130.8 103.2C134.0 103.2 137.2 104.8 140.4 105.6C143.6 106.4 146.8 107.8 150.0 108.0C153.2 108.2 157.6 102.0 159.6 106.8C161.6 111.6 168.4 131.8 162.0 136.8C155.6 141.8 128.0 142.0 121.2 136.8C114.4 131.6 119.6 111.2 121.2 105.6Z" fill="#ffbe3c"/>
</g>
<g clip-path="url(#k3)">
<path d="M-22.8 91.2C-14.0 75.4 21.4 85.8 30.0 91.2C38.6 96.6 29.4 116.2 28.8 123.6C28.2 131.0 27.2 132.0 26.4 135.6C25.6 139.2 24.0 142.0 24.0 145.2C24.0 148.4 26.4 151.6 26.4 154.8C26.4 158.0 25.0 161.2 24.0 164.4C23.0 167.6 21.6 170.8 20.4 174.0C19.2 177.2 18.2 181.6 16.8 183.6C15.4 185.6 18.6 185.6 12.0 186.0C5.4 186.4 -17.0 201.8 -22.8 186.0C-28.6 170.2 -31.6 107.0 -22.8 91.2Z" fill="#ffe673"/>
<path d="M-22.8 91.2C-14.8 80.2 16.9 86.2 25.2 91.2C33.5 96.2 26.9 114.6 26.9 121.2C26.9 127.8 25.9 127.6 25.2 130.8C24.5 134.0 23.0 137.2 22.8 140.4C22.6 143.6 24.4 147.0 24.0 150.0C23.6 153.0 22.0 156.4 20.4 158.4C18.8 160.4 16.6 161.6 14.4 162.0C12.2 162.4 13.4 161.6 7.2 160.8C1.0 160.0 -17.8 168.8 -22.8 157.2C-27.8 145.6 -30.8 102.2 -22.8 91.2Z" fill="#ffbe3c"/>
<path d="M-22.8 91.2C-16.0 83.0 10.8 86.2 18.0 91.2C25.2 96.2 20.2 114.6 20.4 121.2C20.6 127.8 19.8 127.6 19.2 130.8C18.6 134.0 17.8 138.0 16.8 140.4C15.8 142.8 14.8 144.6 13.2 145.2C11.6 145.8 13.2 144.8 7.2 144.0C1.2 143.2 -17.8 149.2 -22.8 140.4C-27.8 131.6 -29.6 99.4 -22.8 91.2Z" fill="#ff9b00"/>
<path d="M1.2 115.2C2.8 112.8 8.5 113.2 10.8 114.0C13.1 114.8 14.3 117.6 14.9 120.0C15.5 122.4 14.8 125.6 14.4 128.4C14.0 131.2 13.5 134.8 12.5 136.8C11.5 138.8 9.9 140.4 8.4 140.4C6.9 140.4 4.8 138.8 3.6 136.8C2.4 134.8 1.6 132.0 1.2 128.4C0.8 124.8 -0.4 117.6 1.2 115.2Z" fill="#ff5f00"/>
<path d="M3.6 118.8C4.3 116.8 7.1 117.0 8.4 117.6C9.7 118.2 11.1 120.4 11.5 122.4C11.9 124.4 11.4 127.7 10.8 129.6C10.2 131.5 8.8 133.7 7.7 133.7C6.6 133.7 5.0 132.1 4.3 129.6C3.6 127.1 2.9 120.8 3.6 118.8Z" fill="#ff4100"/>
<path d="M28.8 91.2C19.9 97.0 30.0 118.2 31.2 126.0C32.4 133.8 34.4 134.0 36.0 138.0C37.6 142.0 39.4 146.4 40.8 150.0C42.2 153.6 43.2 157.0 44.4 159.6C45.6 162.2 46.4 164.8 48.0 165.6C49.6 166.4 51.8 165.6 54.0 164.4C56.2 163.2 58.8 160.4 61.2 158.4C63.6 156.4 66.0 154.4 68.4 152.4C70.8 150.4 73.5 148.6 75.6 146.4C77.7 144.2 79.9 141.8 81.1 139.2C82.3 136.6 82.3 133.8 82.8 130.8C83.3 127.8 83.7 127.8 84.0 121.2C84.3 114.6 93.7 96.2 84.5 91.2C75.3 86.2 37.7 85.4 28.8 91.2Z" fill="#a5f0ff"/>
<path d="M24.0 154.8C25.6 152.6 30.6 151.6 33.6 152.4C36.6 153.2 40.0 156.8 42.0 159.6C44.0 162.4 45.2 166.0 45.6 169.2C46.0 172.4 45.6 176.0 44.4 178.8C43.2 181.6 40.6 184.0 38.4 186.0C36.2 188.0 33.4 190.8 31.2 190.8C29.0 190.8 26.6 188.4 25.2 186.0C23.8 183.6 23.0 179.8 22.8 176.4C22.6 173.0 23.8 169.2 24.0 165.6C24.2 162.0 22.4 157.0 24.0 154.8Z" fill="#a5f0ff"/>
<path d="M36.0 91.2C29.1 96.6 37.4 116.6 38.4 123.6C39.4 130.6 40.8 130.0 42.0 133.2C43.2 136.4 44.4 139.6 45.6 142.8C46.8 146.0 48.2 149.6 49.2 152.4C50.2 155.2 50.4 158.6 51.6 159.6C52.8 160.6 55.0 159.6 56.4 158.4C57.8 157.2 58.4 154.2 60.0 152.4C61.6 150.6 64.1 149.2 66.0 147.6C67.9 146.0 70.0 144.6 71.5 142.8C73.0 141.0 74.2 138.8 75.1 136.8C76.1 134.8 76.7 133.0 77.3 130.8C77.9 128.6 78.3 130.2 78.7 123.6C79.1 117.0 86.8 96.6 79.7 91.2C72.6 85.8 42.9 85.8 36.0 91.2Z" fill="#82cdff"/>
<path d="M40.8 91.2C35.3 96.6 42.2 116.4 43.2 123.6C44.2 130.8 45.6 131.0 46.8 134.4C48.0 137.8 49.2 141.4 50.4 144.0C51.6 146.6 52.8 149.4 54.0 150.0C55.2 150.6 56.3 148.8 57.6 147.6C58.9 146.4 60.1 144.4 61.9 142.8C63.7 141.2 66.5 139.6 68.4 138.0C70.3 136.4 72.0 135.2 73.2 133.2C74.4 131.2 75.1 133.0 75.6 126.0C76.1 119.0 82.1 97.0 76.3 91.2C70.5 85.4 46.3 85.8 40.8 91.2Z" fill="#32a0e6"/>
<path d="M44.4 91.2C40.2 96.6 45.8 116.6 46.8 123.6C47.8 130.6 49.1 130.4 50.4 133.2C51.7 136.0 53.3 139.4 54.7 140.4C56.1 141.4 57.3 140.0 58.8 139.2C60.3 138.4 61.8 137.0 63.6 135.6C65.4 134.2 68.2 132.8 69.6 130.8C71.0 128.8 71.6 130.2 72.0 123.6C72.4 117.0 76.6 96.6 72.0 91.2C67.4 85.8 48.6 85.8 44.4 91.2Z" fill="#198cf0"/>
<path d="M49.2 91.2C46.6 96.4 50.0 116.2 50.9 122.4C51.8 128.6 53.2 127.2 54.7 128.4C56.2 129.6 58.3 130.0 60.0 129.6C61.7 129.2 63.6 127.8 64.8 126.0C66.0 124.2 66.9 124.6 67.2 118.8C67.5 113.0 69.7 95.8 66.7 91.2C63.7 86.6 51.8 86.0 49.2 91.2Z" fill="#0c7de1"/>
<path d="M53.3 121.2C53.8 120.1 56.3 119.6 57.6 120.0C58.9 120.4 61.0 122.3 61.2 123.6C61.4 124.9 59.9 127.4 58.8 127.9C57.7 128.4 55.6 127.6 54.7 126.5C53.8 125.4 52.8 122.3 53.3 121.2Z" fill="#0a6ecd"/>
<path d="M46.8 172.8C48.0 170.5 51.6 170.5 54.0 168.7C56.4 166.9 59.0 164.1 61.2 162.0C63.4 159.9 65.0 157.9 67.2 156.0C69.4 154.1 71.8 151.9 74.4 150.5C77.0 149.1 81.2 149.1 82.8 147.6C84.4 146.1 83.6 144.0 84.0 141.6C84.4 139.2 84.3 136.0 85.2 133.2C86.1 130.4 87.5 127.0 89.3 124.6C91.1 122.1 93.9 120.0 96.0 118.3C98.1 116.6 100.2 119.0 101.8 114.5C103.4 110.0 99.8 95.1 105.6 91.2C111.4 87.3 131.6 75.0 136.8 91.2C142.0 107.4 142.0 172.1 136.8 188.4C131.6 204.7 112.0 189.3 105.6 188.9C99.2 188.5 100.8 186.7 98.4 186.0C96.0 185.3 93.6 185.2 91.2 184.8C88.8 184.4 86.0 183.4 84.0 183.6C82.0 183.8 80.6 184.4 79.2 186.0C77.8 187.6 77.0 191.8 75.6 193.2C74.2 194.6 72.6 194.6 70.8 194.4C69.0 194.2 67.0 192.8 64.8 192.0C62.6 191.2 60.0 190.4 57.6 189.6C55.2 188.8 52.2 188.4 50.4 187.2C48.6 186.0 47.4 184.8 46.8 182.4C46.2 180.0 45.6 175.1 46.8 172.8Z" fill="#ffe673"/>
<path d="M45.6 250.8C30.6 245.6 45.8 226.0 46.8 219.6C47.8 213.2 49.6 214.2 51.6 212.4C53.6 210.6 56.6 209.2 58.8 208.8C61.0 208.4 63.0 209.0 64.8 210.0C66.6 211.0 68.0 213.6 69.6 214.8C71.2 216.0 72.8 217.6 74.4 217.2C76.0 216.8 77.8 214.4 79.2 212.4C80.6 210.4 81.2 207.6 82.8 205.2C84.4 202.8 86.6 200.0 88.8 198.0C91.0 196.0 93.2 194.8 96.0 193.2C98.8 191.6 98.8 189.4 105.6 188.4C112.4 187.4 131.6 176.8 136.8 187.2C142.0 197.6 152.0 240.2 136.8 250.8C121.6 261.4 60.6 256.0 45.6 250.8Z" fill="#ffe673"/>
<path d="M63.6 165.6C64.2 163.8 66.6 161.4 68.4 159.6C70.2 157.8 72.2 156.0 74.4 154.8C76.6 153.6 79.4 152.2 81.6 152.4C83.8 152.6 85.8 154.4 87.6 156.0C89.4 157.6 90.6 160.4 92.4 162.0C94.2 163.6 96.6 164.2 98.4 165.6C100.2 167.0 102.0 168.6 103.2 170.4C104.4 172.2 105.8 174.6 105.6 176.4C105.4 178.2 103.6 180.0 102.0 181.2C100.4 182.4 97.8 183.6 96.0 183.6C94.2 183.6 93.0 181.8 91.2 181.2C89.4 180.6 87.2 180.6 85.2 180.0C83.2 179.4 81.0 178.6 79.2 177.6C77.4 176.6 76.2 174.8 74.4 174.0C72.6 173.2 70.0 173.4 68.4 172.8C66.8 172.2 65.6 171.6 64.8 170.4C64.0 169.2 63.0 167.4 63.6 165.6Z" fill="#ffbe3c"/>
<path d="M49.2 180.0C50.4 178.7 54.0 177.3 56.4 176.9C58.8 176.5 61.4 176.9 63.6 177.6C65.8 178.3 67.8 179.8 69.6 181.2C71.4 182.6 74.0 184.4 74.4 186.0C74.8 187.6 73.4 190.2 72.0 190.8C70.6 191.4 68.0 190.2 66.0 189.6C64.0 189.0 62.0 187.8 60.0 187.2C58.0 186.6 55.8 186.4 54.0 186.0C52.2 185.6 50.0 185.8 49.2 184.8C48.4 183.8 48.0 181.3 49.2 180.0Z" fill="#ffbe3c"/>
<path d="M136.8 91.2C131.6 84.2 112.0 86.6 105.6 91.2C99.2 95.8 100.3 112.6 98.4 118.8C96.5 125.0 94.7 125.2 94.1 128.4C93.5 131.6 93.7 135.8 94.8 138.0C95.9 140.2 98.4 141.6 100.8 141.6C103.2 141.6 103.2 139.4 109.2 138.0C115.2 136.6 132.2 141.0 136.8 133.2C141.4 125.4 142.0 98.2 136.8 91.2Z" fill="#ffbe3c"/>
<path d="M72.0 162.0C72.4 160.4 76.2 158.6 78.0 158.4C79.8 158.2 82.2 159.4 82.8 160.8C83.4 162.2 82.8 165.6 81.6 166.8C80.4 168.0 77.2 168.8 75.6 168.0C74.0 167.2 71.6 163.6 72.0 162.0Z" fill="#ff9b00"/>
<path d="M92.4 165.6C93.3 165.1 96.1 166.1 97.2 167.3C98.3 168.5 99.3 171.7 98.9 172.8C98.5 173.9 96.0 174.4 94.8 174.0C93.6 173.6 92.1 171.8 91.7 170.4C91.3 169.0 91.5 166.1 92.4 165.6Z" fill="#ff9b00"/>
</g>
<g clip-path="url(#k4)">
<path d="M91.2 128.4C96.6 119.8 116.6 127.6 123.6 127.2C130.6 126.8 130.4 126.4 133.2 126.0C136.0 125.6 137.6 124.6 140.4 124.8C143.2 125.0 146.4 127.0 150.0 127.2C153.6 127.4 158.0 126.3 162.0 126.0C166.0 125.7 170.0 125.3 174.0 125.5C178.0 125.7 182.4 127.3 186.0 127.2C189.6 127.1 192.4 125.4 195.6 124.8C198.8 124.2 202.0 123.4 205.2 123.6C208.4 123.8 211.6 125.2 214.8 126.0C218.0 126.8 218.4 127.9 224.4 128.4C230.4 128.9 246.4 122.7 250.8 128.9C255.2 135.1 256.0 159.5 250.8 165.6C245.6 171.7 226.4 165.3 219.6 165.6C212.8 165.9 212.8 166.5 210.0 167.3C207.2 168.1 205.2 169.7 202.8 170.4C200.4 171.1 198.4 171.2 195.6 171.6C192.8 172.0 189.2 172.4 186.0 172.8C182.8 173.2 179.4 173.3 176.4 174.0C173.4 174.7 170.6 175.9 168.0 176.9C165.4 177.9 163.2 179.1 160.8 180.0C158.4 180.9 156.2 181.8 153.6 182.4C151.0 183.0 148.0 183.3 145.2 183.6C142.4 183.9 139.6 184.3 136.8 184.1C134.0 183.9 131.0 183.1 128.4 182.4C125.8 181.7 127.4 180.6 121.2 180.0C115.0 179.4 96.2 187.4 91.2 178.8C86.2 170.2 85.8 137.0 91.2 128.4Z" fill="#a5f0ff"/>
<path d="M91.2 145.2C96.2 141.8 115.0 143.6 121.2 142.8C127.4 142.0 125.6 141.2 128.4 140.4C131.2 139.6 134.8 138.6 138.0 138.0C141.2 137.4 144.4 137.4 147.6 136.8C150.8 136.2 154.0 135.2 157.2 134.4C160.4 133.6 163.6 132.5 166.8 132.0C170.0 131.5 173.2 131.2 176.4 131.3C179.6 131.4 182.8 132.8 186.0 132.7C189.2 132.6 192.4 130.9 195.6 130.8C198.8 130.7 202.0 131.6 205.2 132.0C208.4 132.4 211.6 132.8 214.8 133.2C218.0 133.6 218.4 134.1 224.4 134.4C230.4 134.7 246.4 130.7 250.8 135.1C255.2 139.5 255.6 156.5 250.8 160.8C246.0 165.1 228.0 160.6 222.0 160.8C216.0 161.0 217.2 161.6 214.8 162.0C212.4 162.4 210.0 163.0 207.6 163.2C205.2 163.4 202.8 162.9 200.4 163.2C198.0 163.5 195.6 164.2 193.2 164.9C190.8 165.6 188.4 166.6 186.0 167.3C183.6 167.9 181.2 168.1 178.8 168.7C176.4 169.4 173.8 170.2 171.6 171.1C169.4 172.0 167.6 173.0 165.6 174.0C163.6 175.0 161.8 176.1 159.6 176.9C157.4 177.7 154.8 178.3 152.4 178.8C150.0 179.3 147.6 179.8 145.2 180.0C142.8 180.2 140.2 180.5 138.0 180.0C135.8 179.5 133.8 178.1 132.0 176.9C130.2 175.7 128.8 174.1 127.2 172.8C125.6 171.5 124.0 170.4 122.4 169.2C120.8 168.0 122.8 166.6 117.6 165.6C112.4 164.6 95.6 166.6 91.2 163.2C86.8 159.8 86.2 148.6 91.2 145.2Z" fill="#82cdff"/>
<path d="M128.4 162.0C128.8 160.0 130.4 156.8 132.0 154.8C133.6 152.8 135.8 151.2 138.0 150.0C140.2 148.8 142.8 148.6 145.2 147.6C147.6 146.6 150.0 145.2 152.4 144.0C154.8 142.8 157.2 141.4 159.6 140.4C162.0 139.4 164.0 138.6 166.8 138.0C169.6 137.4 173.2 136.8 176.4 136.8C179.6 136.8 182.8 138.0 186.0 138.0C189.2 138.0 192.4 136.6 195.6 136.8C198.8 137.0 202.0 138.6 205.2 139.2C208.4 139.8 211.6 140.0 214.8 140.4C218.0 140.8 218.4 141.3 224.4 141.6C230.4 141.9 246.4 140.3 250.8 142.3C255.2 144.3 255.6 151.5 250.8 153.6C246.0 155.7 228.0 154.4 222.0 154.8C216.0 155.2 217.2 155.4 214.8 156.0C212.4 156.6 210.0 158.0 207.6 158.4C205.2 158.8 202.8 158.2 200.4 158.4C198.0 158.6 195.6 159.0 193.2 159.6C190.8 160.2 188.4 161.4 186.0 162.0C183.6 162.6 181.2 162.6 178.8 163.2C176.4 163.8 174.0 164.8 171.6 165.6C169.2 166.4 166.8 167.2 164.4 168.0C162.0 168.8 159.6 169.6 157.2 170.4C154.8 171.2 152.4 172.0 150.0 172.8C147.6 173.6 145.0 175.0 142.8 175.2C140.6 175.4 138.4 174.8 136.8 174.0C135.2 173.2 134.4 171.6 133.2 170.4C132.0 169.2 130.4 168.2 129.6 166.8C128.8 165.4 128.0 164.0 128.4 162.0Z" fill="#32a0e6"/>
<path d="M130.8 164.4C131.1 162.5 133.6 159.2 135.6 157.2C137.6 155.2 140.4 153.6 142.8 152.4C145.2 151.2 147.6 151.0 150.0 150.0C152.4 149.0 154.8 147.6 157.2 146.4C159.6 145.2 162.0 143.5 164.4 142.8C166.8 142.1 169.8 141.7 171.6 142.3C173.4 142.9 175.2 144.7 175.2 146.4C175.2 148.1 173.0 150.6 171.6 152.4C170.2 154.2 168.4 155.6 166.8 157.2C165.2 158.8 163.8 160.6 162.0 162.0C160.2 163.4 158.0 164.4 156.0 165.6C154.0 166.8 152.0 168.2 150.0 169.2C148.0 170.2 146.0 171.2 144.0 171.6C142.0 172.0 139.7 172.1 138.0 171.6C136.3 171.1 134.9 169.9 133.7 168.7C132.5 167.5 130.5 166.3 130.8 164.4Z" fill="#198cf0"/>
<path d="M133.2 165.6C133.4 164.3 136.4 162.4 138.0 162.0C139.6 161.6 142.2 162.2 142.8 163.2C143.4 164.2 142.6 166.9 141.6 168.0C140.6 169.1 138.2 170.1 136.8 169.7C135.4 169.3 133.0 166.9 133.2 165.6Z" fill="#0c7de1"/>
<path d="M91.2 186.0C96.6 175.4 116.6 187.2 123.6 187.2C130.6 187.2 130.0 186.0 133.2 186.0C136.4 186.0 139.6 187.2 142.8 187.2C146.0 187.2 149.2 186.4 152.4 186.0C155.6 185.6 158.4 185.0 162.0 184.8C165.6 184.6 170.0 185.0 174.0 184.8C178.0 184.6 182.4 184.2 186.0 183.6C189.6 183.0 192.4 181.7 195.6 181.2C198.8 180.7 202.4 181.4 205.2 180.7C208.0 180.0 204.8 178.0 212.4 176.9C220.0 175.8 244.4 161.7 250.8 174.0C257.2 186.3 277.4 238.0 250.8 250.8C224.2 263.6 117.8 261.6 91.2 250.8C64.6 240.0 85.8 196.6 91.2 186.0Z" fill="#ffe673"/>
<path d="M122.4 190.8C123.2 189.8 126.4 189.0 128.4 188.9C130.4 188.8 133.2 189.4 134.4 190.3C135.6 191.2 136.4 193.4 135.6 194.4C134.8 195.4 131.6 196.0 129.6 196.1C127.6 196.2 124.8 196.0 123.6 195.1C122.4 194.2 121.6 191.8 122.4 190.8Z" fill="#ffbe3c"/>
<path d="M136.8 91.2C128.4 95.8 136.6 113.6 138.0 118.8C139.4 124.0 142.4 122.0 145.2 122.4C148.0 122.8 152.0 121.6 154.8 121.2C157.6 120.8 159.6 119.6 162.0 120.0C164.4 120.4 166.4 122.8 169.2 123.6C172.0 124.4 176.0 125.0 178.8 124.8C181.6 124.6 184.4 128.0 186.0 122.4C187.6 116.8 196.6 96.4 188.4 91.2C180.2 86.0 145.2 86.6 136.8 91.2Z" fill="#ffe673"/>
<path d="M165.6 91.2C163.0 95.8 166.4 113.8 168.0 118.8C169.6 123.8 172.8 121.2 175.2 121.2C177.6 121.2 181.0 123.8 182.4 118.8C183.8 113.8 186.4 95.8 183.6 91.2C180.8 86.6 168.2 86.6 165.6 91.2Z" fill="#ffbe3c"/>
</g>
</g>
<g><path d="M116.7 -1.2L116.5 1.9L116.8 3.6L118.4 6.4L122.2 8.3L123.0 10.0L119.7 10.9L117.2 10.2L117.6 13.2L116.2 12.4L114.1 12.4L111.9 14.0L111.4 16.5L108.9 17.7L107.5 19.6L106.8 22.1L104.8 23.6L101.7 24.3L100.8 25.5L100.9 27.3L102.3 29.5L102.6 33.4L99.7 35.8L99.7 33.6L99.4 31.3L99.9 29.9L99.3 28.1L97.6 27.1L97.6 26.3L96.1 26.6L95.2 27.9L94.0 28.7L93.1 27.5L92.2 27.2L89.9 28.7L87.4 31.1L86.0 30.4L84.7 31.2L84.6 32.3L83.6 33.8L84.2 35.6L84.6 38.2L84.8 39.8L83.8 40.6L82.2 39.5L81.2 39.6L81.6 41.7L82.1 43.2L83.6 43.4L84.3 44.8L82.9 46.0L80.9 46.9L79.0 47.6L78.3 49.5L77.2 50.2L78.9 50.0L80.0 50.6L81.9 49.0L83.4 47.7L85.4 45.8L86.9 46.8L88.5 48.0L89.4 50.1L90.1 52.9L89.3 55.1L88.8 57.8L88.2 58.9L89.7 60.2L91.1 59.8L92.0 58.9L92.0 56.5L92.1 54.0L93.4 51.4L94.1 49.6L93.8 47.3L93.1 45.4L91.0 44.7L90.6 42.4L92.0 40.0L91.5 37.8L91.1 35.1L91.8 33.3L93.1 32.7L93.3 31.0L95.0 30.5L95.9 32.0L95.9 33.6L97.9 36.1L99.5 39.0L100.4 39.8L100.6 41.4L101.1 38.9L101.7 38.6L103.4 36.2L104.7 35.8L106.5 36.9L106.9 38.1L107.6 40.7L107.9 41.7L108.2 43.2L108.2 45.7L107.0 47.1L105.4 48.9L104.2 50.1L102.6 50.1L103.3 51.5L102.4 54.0L101.6 56.7L100.6 60.5L101.5 62.6L99.4 63.7L99.6 65.7L98.3 67.4L97.1 69.2L95.5 71.2L94.4 72.8L92.9 73.2L89.9 73.3L89.1 72.0L88.4 72.4L86.6 72.1L84.5 72.9L81.7 72.9L78.2 72.3L76.8 70.8L77.7 68.8L80.0 67.6L82.4 67.1L84.5 67.0L82.3 66.0L79.9 64.3L78.8 63.0L76.5 62.8L75.1 63.8L77.9 64.8L77.7 65.6L74.3 66.6L76.0 67.9L75.8 71.1L74.1 71.6L73.6 71.7L74.9 73.6L78.7 76.2L76.6 77.2L75.0 76.3L73.9 74.9L73.5 76.5L74.0 78.2L74.7 80.1L72.8 81.5L71.6 82.7L72.7 84.2L70.6 86.0L69.2 87.3L69.2 87.8L70.5 89.1L71.4 89.9L68.4 92.0L65.2 94.3L68.0 94.1L71.0 95.2L73.0 96.8L75.1 98.8L75.9 100.3L74.5 101.3L71.6 100.7L68.1 99.4L65.0 99.3L62.4 97.0L60.6 95.4L60.5 97.2L62.9 99.6L65.3 100.0L69.0 100.9L71.9 102.2L74.2 103.2L74.0 105.0L71.8 104.9L72.4 106.9L68.7 108.3L71.1 108.6L75.0 107.3L75.0 109.1L76.3 111.2L78.2 112.6L79.4 114.5L80.6 115.7L81.3 117.9L83.5 119.3L85.6 121.2L84.3 122.8L83.8 125.0L83.3 127.1L81.8 128.0L79.7 127.9L77.4 126.6L75.8 125.7L76.2 127.8L78.3 129.2L78.5 130.6L79.8 132.7L78.6 134.1L79.7 135.9L79.1 137.2L81.5 136.4L83.3 137.3L83.2 139.5L81.5 141.3L80.0 142.2L79.4 143.7L80.4 144.9L82.3 143.7L83.1 146.2L84.6 146.9L87.1 146.3L88.2 145.8L90.3 149.5L91.9 152.6L92.0 153.2L92.9 155.1L94.8 155.8L96.8 156.1L98.3 157.8L98.3 160.4L100.7 161.4L103.4 161.1L104.1 161.7L105.8 164.6L106.4 161.4L109.2 162.5L113.9 164.8L114.7 165.0L116.6 166.5L119.0 167.5L119.7 169.5L122.7 169.9L124.7 171.1L123.8 172.5L122.6 174.2L121.9 175.8L119.2 175.6L118.5 173.6L115.8 171.7L114.8 171.2L114.5 173.5L113.2 174.7L111.6 175.5L112.7 176.7L113.5 179.0L113.2 181.6L107.7 182.5L103.6 185.4L101.9 186.7L97.4 184.4L94.5 185.3L92.0 186.9L90.0 188.8L91.3 190.0L90.3 193.8L88.5 193.2L87.5 196.8L85.0 196.7L83.1 199.7L80.9 199.5L79.4 201.7L75.7 203.4L76.6 200.6L76.9 197.8L78.0 193.9L79.8 190.4L82.3 188.6L83.3 186.8L84.8 186.9L88.0 185.3L91.0 183.7L94.5 182.1L96.6 179.0L94.3 179.3L91.2 181.0L89.8 181.9L91.1 178.8L88.8 178.5L86.6 179.2L82.7 181.7L80.0 181.3L78.6 181.1L77.4 179.0L74.8 178.4L71.8 175.8L69.2 174.2L65.6 174.1L61.8 174.3L59.0 175.3L53.6 175.6L52.9 176.0L53.5 179.1L54.9 181.1L56.9 181.1L57.4 185.0L55.2 187.7L52.6 189.0L48.7 192.9L44.3 194.5L40.1 196.3L34.8 197.1M60.9 184.0L60.1 186.4L57.7 189.6L56.1 193.4L54.7 196.5L54.4 198.6L52.7 195.6L49.8 198.9L49.3 201.7L48.2 202.9L48.3 200.9L46.0 201.6L47.7 199.1L49.7 197.2L51.3 194.9L52.9 192.7L54.6 190.6L55.7 188.1L57.5 186.1L58.8 185.4ZM42.8 204.1L45.0 202.3L45.8 203.6L45.5 206.2M124.2 14.8L120.7 14.7L118.4 15.7L116.0 15.9L113.8 16.2L111.9 17.0L113.0 17.8L112.3 18.9L111.5 20.8L112.7 21.9L113.8 21.8L114.1 23.4L114.5 25.0L116.0 26.3L116.8 29.0L118.1 30.1L119.1 30.1L118.1 30.8L117.3 32.6L116.9 34.5L119.9 34.3L118.5 36.3L121.0 37.0L122.2 35.1L122.5 33.0L122.6 31.2L122.8 28.8L121.5 29.8L122.0 27.7L121.8 26.9L119.6 27.3L119.3 25.1L119.1 23.2L121.4 23.1L121.7 21.8L121.0 20.7L123.1 19.5L122.5 18.7L119.7 18.2L119.5 17.4L121.4 17.5L122.9 16.0ZM130.6 19.4L128.0 19.8L124.8 20.5L124.0 23.4L123.8 25.2L122.7 26.7L123.6 28.4L125.3 29.1L127.3 28.1L127.0 27.0L129.6 26.8L130.3 24.8L128.6 23.7L130.0 22.3L131.3 21.2ZM135.4 52.5L139.0 55.0L139.3 57.8L139.0 59.7L136.7 61.1L135.7 58.3L134.2 59.3L132.5 59.0L130.2 59.1L128.9 58.2L128.4 55.5L129.9 53.5L132.7 52.7ZM105.1 82.7L107.0 84.7L107.9 86.3L109.3 88.0L109.4 89.9L107.7 90.8L106.3 90.0L104.4 88.1L104.8 85.4ZM106.1 90.1L106.5 92.5L103.7 93.1L103.1 91.0L105.0 89.7ZM103.1 85.5L104.1 87.4L102.8 88.0L101.8 86.5ZM97.0 97.2L98.1 98.8L97.1 100.5L95.9 99.6ZM94.8 100.7L96.4 101.8L96.4 103.6L94.2 103.7L93.9 102.1ZM74.9 88.5L76.3 86.8L79.2 86.3L80.8 88.2L81.7 90.2L82.7 91.8L84.3 93.7L85.1 96.0L85.2 98.4L85.5 101.1L85.2 102.4L83.7 101.5L82.8 98.9L81.9 95.2L80.7 92.5L79.3 90.3L77.0 89.2L74.9 89.3ZM77.1 81.0L75.9 81.7L75.2 80.5L76.1 79.9ZM73.7 89.3L72.3 89.9L72.0 89.0ZM86.4 118.8L86.4 121.1L88.5 119.8L88.8 118.9ZM88.0 116.2L88.9 118.1L90.6 117.9L92.6 116.6L90.3 115.2ZM91.0 117.4L91.2 118.2L93.3 116.3L92.5 115.8ZM89.9 141.5L90.3 139.9L92.1 139.0L93.1 140.1L93.7 141.8L92.6 142.8L91.0 142.2ZM94.4 144.0L95.1 143.4L97.0 144.5L95.7 145.5ZM88.4 144.8L90.0 144.5L90.6 145.9L89.3 145.8ZM113.3 160.1L113.9 158.6L115.9 158.8L115.3 160.1ZM165.7 60.5L165.9 64.1L167.3 66.7L166.5 69.6L165.4 72.2L163.6 74.9L161.9 78.0L159.5 80.7L157.1 82.0L155.2 82.0L153.5 82.2L152.4 83.6L152.3 86.8L151.1 88.6L148.7 90.7L146.7 92.9L145.1 95.0L143.6 96.3L143.9 98.8L145.4 100.4L144.6 102.3L142.6 103.9L141.4 105.6L138.8 104.0L136.4 104.5L135.1 104.6L133.1 104.3L130.8 104.0L128.9 102.5L126.2 102.0L122.7 101.0L121.2 99.1L120.7 97.1L118.5 93.9L120.6 92.0L122.5 90.1L123.9 86.7L124.2 84.2L125.7 82.2L126.1 79.7L128.1 77.9L130.0 76.0L131.3 73.9L131.5 71.3L132.0 70.2L133.0 69.8L134.5 68.6L137.3 67.7L140.7 68.1L144.0 68.1L147.3 66.7L150.3 67.0L153.4 67.3L155.5 65.7L158.0 64.5L160.3 63.2L162.5 61.8L164.6 60.3ZM154.6 84.1L154.3 85.7L152.9 85.9L152.6 83.9ZM209.7 178.3L205.8 175.6L203.7 174.7L200.0 173.3L202.2 171.0L204.8 171.6L202.8 170.1L200.4 169.8L197.1 170.8L192.4 172.7L190.0 172.7L187.2 171.9L182.3 171.6L179.6 170.7L176.7 170.1L173.8 169.4L169.9 168.5L167.2 167.6L167.8 170.2L167.8 170.9L164.9 170.7L162.3 170.7L159.6 171.9L156.9 173.6L154.6 173.6L152.4 173.8L152.7 176.6L150.3 180.1L148.8 177.4L149.5 174.9L148.0 177.3L147.7 180.9L148.2 183.5L146.8 187.0L144.6 190.8L142.0 194.5L139.0 197.4L139.9 195.2L141.6 193.2L144.1 189.6L144.2 186.1L142.4 185.2L140.1 186.6L138.1 187.0L137.2 184.3L133.0 183.7L131.2 181.5L131.7 178.8L132.9 176.6L134.8 175.2L134.5 172.6L132.5 173.5L130.0 174.0L128.3 172.3L126.5 172.0L128.2 169.8L130.0 168.5L132.3 169.2L131.1 167.4L129.3 166.4L126.6 165.1L126.7 163.5L128.6 160.7L129.4 159.1L131.2 156.9L132.2 155.1L135.3 155.0L137.9 154.7L141.1 153.6L143.9 152.5L146.0 151.7L149.2 151.3L150.3 148.1L151.4 145.0L152.6 144.3L151.5 142.9L154.5 142.6L154.0 141.2L156.1 141.1L158.8 138.6L160.5 136.4L163.1 136.7L164.0 134.0L165.5 131.5L167.7 131.2L165.2 129.9L165.2 127.1L166.7 125.0L167.6 121.9L166.0 120.7L167.6 119.5L166.3 117.5L163.8 117.4L161.2 119.2L158.8 118.2L157.6 117.3L159.4 116.3L161.9 115.6L163.9 116.1L165.2 114.3L166.4 113.7L164.4 112.6L167.6 111.6L168.8 111.0L165.0 109.9L163.0 109.9L163.5 107.0L165.9 106.6L168.3 105.8L171.5 107.4L171.3 110.1L173.8 110.8L177.7 112.2L179.4 114.7L180.7 116.3L184.9 119.0L187.6 120.1L190.7 119.5L194.8 117.4L195.6 113.9L198.1 110.2L199.7 106.4L199.5 102.4L202.7 101.9L205.3 101.4L207.2 100.0L209.4 98.0L208.5 96.1L206.2 95.4L202.4 96.8L200.5 98.1L198.1 95.6L195.2 94.6L192.2 95.6L190.1 97.9L186.1 97.7L183.7 99.1L180.2 99.8L180.1 97.1L180.4 92.4L181.0 89.6L183.2 88.3L184.9 87.6L186.1 86.3L187.2 85.0L184.6 82.6L182.3 82.6L179.9 83.0L182.4 79.8L184.0 77.3L187.0 74.7L188.4 70.8L189.5 66.9L189.3 63.3L191.7 61.1L194.9 61.5L200.4 64.2L203.2 69.6L205.4 74.1L208.4 74.9L211.4 76.6L216.4 78.2L213.5 76.8L209.6 74.4L206.8 70.8L207.2 69.0L210.2 70.2L210.3 69.1L212.2 68.0L213.5 65.5L213.2 62.4L212.7 60.3L216.4 60.8M193.1 59.8L197.1 58.0L197.3 55.8L196.1 53.3L197.0 51.8L199.0 49.4L201.7 48.3L202.4 50.3L201.1 50.8L204.0 53.0L203.1 55.1L205.8 59.5L203.4 60.3L200.2 60.2L197.2 60.7ZM212.3 59.6L208.4 60.7L209.8 58.6L211.8 58.7ZM204.7 70.8L203.2 66.6L204.4 65.4L205.2 68.6ZM201.3 171.5L198.6 173.4L194.5 174.4L190.9 174.6L193.5 172.5L197.8 171.3ZM185.5 176.0L181.2 175.6L179.1 174.4L180.9 173.2L182.8 175.1ZM149.9 187.6L148.3 186.1L150.0 184.0L151.7 184.9ZM177.6 172.9L174.4 171.3L176.0 170.8L177.9 171.8ZM173.2 171.8L169.5 170.7L169.8 169.4L172.8 170.4ZM137.4 198.9L137.5 197.6L139.3 197.3L139.3 198.1ZM133.2 203.0L135.1 200.6L135.6 201.3L132.6 203.9ZM123.4 208.0L125.7 206.9L126.1 207.4ZM118.5 209.1L120.9 208.2L120.9 209.0ZM123.6 178.4L123.7 177.1L127.0 177.8L126.0 178.8ZM130.5 185.7L131.6 184.3L132.7 185.6ZM174.4 108.1L175.7 104.7L178.0 103.2L179.3 106.5L178.6 110.0L176.3 110.6L174.5 109.2ZM177.0 85.9L176.8 89.3L175.6 93.4L174.6 97.2L175.2 100.4L172.8 101.3L171.6 97.5L168.9 97.2L166.5 97.9L164.5 100.0L162.7 102.7L161.8 104.7L163.0 107.1L161.3 110.2L162.7 112.6L159.0 113.9L155.3 113.5L153.3 112.5L153.5 110.5L156.4 110.6L153.4 109.8L153.1 107.8L154.8 104.9L155.7 102.4L157.3 99.9L158.2 96.6L160.0 94.5L161.9 92.7L162.9 89.1L164.2 86.6L167.4 86.3L167.3 91.4L169.2 87.1L173.9 85.7L174.0 90.4ZM154.9 106.7L153.0 107.1L153.0 104.6L154.4 104.3ZM161.9 134.6L159.4 136.4L157.2 136.2L154.7 135.8L153.2 135.5L151.4 133.6L151.6 130.9L152.2 127.7L153.6 125.6L156.3 125.2L158.8 125.4L161.8 123.1L164.2 124.0L163.6 127.6L163.7 130.4ZM152.6 138.8L149.6 139.3L147.1 136.4L146.2 133.8L147.7 131.7L150.2 131.0L151.0 134.3L152.8 136.6ZM149.9 124.4L147.8 127.4L145.7 130.2L143.9 128.4L144.3 124.2L147.2 123.0ZM142.7 132.0L141.4 129.5L141.1 127.0L142.8 129.0ZM149.8 120.5L147.2 121.2L145.9 118.9L147.7 118.3L150.1 118.9ZM151.0 117.8L149.0 117.7L149.2 116.0L150.9 116.1ZM158.9 121.0L155.5 123.0L152.5 121.0L153.0 119.0L156.3 118.8L158.6 119.7ZM157.4 117.7L153.9 117.7L152.3 116.2L153.4 113.9L156.1 114.6L157.7 116.6ZM165.8 121.6L163.8 121.7L162.8 120.3L164.9 118.8L166.1 119.8ZM151.3 108.7L151.4 112.6L150.7 115.2L147.9 116.0L145.4 116.9L146.8 113.6L148.6 111.5L148.0 108.0L149.4 107.6ZM146.9 108.7L146.5 111.9L147.3 113.6L145.1 112.8L142.7 113.2L140.6 111.8L138.3 112.6L135.9 114.1L134.0 113.6L132.1 111.4L130.3 109.6L129.9 107.6L130.5 105.1L132.7 105.1L135.7 105.9L137.9 106.5L141.0 106.7L143.0 107.8L145.4 107.6ZM142.4 115.1L139.4 116.3L136.5 115.8L135.2 114.6L137.6 113.1L140.7 112.7ZM143.4 117.5L142.1 118.1L141.3 117.0L143.1 116.2ZM142.1 119.6L140.4 120.6L139.3 119.7L140.8 118.3ZM21.3 137.1L24.0 139.8L27.5 142.1L31.4 142.9L34.6 142.6L32.5 142.1L29.0 141.6L26.4 140.4L23.0 138.4ZM76.2 51.0L78.4 52.4L78.5 54.4L76.1 54.7L74.9 52.7ZM72.9 55.9L75.7 57.4L76.2 59.5L73.5 58.3ZM165.3 147.0L162.7 146.5L162.4 142.8L165.2 140.9L166.0 143.1L166.2 145.1ZM177.6 146.1L177.3 143.7L176.8 140.4L176.7 136.6L178.1 136.5L178.7 140.6L178.9 144.0ZM186.1 141.5L185.3 138.3L186.1 135.2L187.0 135.4L186.8 138.9ZM195.2 131.8L192.8 132.0L191.0 130.2L193.5 130.0ZM212.4 125.6L209.4 125.6L205.6 128.0L202.9 127.9L203.1 126.4L206.8 125.3L210.4 124.5ZM223.5 117.7L221.6 115.8L219.7 113.0L217.2 110.7L217.6 107.6L219.5 104.7L222.2 103.9L223.5 106.3L222.9 110.1L223.3 114.9ZM229.3 109.1L226.5 108.4L224.9 105.2L225.3 103.8L228.6 106.3M228.6 100.5L225.8 102.8L224.0 102.4L224.1 98.5L225.6 95.3L227.9 95.5M58.7 13.1L58.2 15.6L58.2 17.6L58.4 19.7L56.6 21.2L53.9 20.9L52.6 21.4L53.8 19.0L51.7 19.0L50.1 18.0M47.5 20.2L48.4 21.6L47.2 23.2L50.5 22.8L51.0 24.5L49.0 26.7L48.5 28.5L46.6 30.3L46.8 28.4L45.9 26.6L45.8 24.2L46.5 23.0L43.8 22.9M30.4 35.1L30.9 36.6L32.1 38.6L31.4 41.9L30.2 44.6L29.3 47.0L27.1 48.2L25.0 47.1L24.8 45.2L25.6 42.8L25.7 40.4M16.4 53.4L17.4 54.5L18.8 56.5L19.2 60.1L18.5 62.5L16.9 62.1L15.8 60.0L14.1 60.2L13.1 59.0M6.2 82.3L8.3 84.1L9.1 86.7L7.6 89.3L7.3 93.1L6.3 92.9L6.8 89.1L8.0 86.4L7.1 84.4ZM88.9 36.7L88.7 39.2L88.3 38.0ZM96.6 29.2L97.8 30.8L96.5 32.2L95.9 30.1ZM84.8 40.9L85.1 42.5L83.7 42.5ZM122.5 44.4L122.8 46.8L122.0 46.4ZM116.0 40.1L115.8 42.4L115.4 41.4Z" fill="none" stroke="#000" stroke-width="1" stroke-linejoin="round" stroke-linecap="round"/><circle cx="114.3" cy="113.9" r="73.3" fill="none" stroke="#1a1a10" stroke-width="1.1" stroke-dasharray="1.4 1.9"/><path d="M114.3 0.3V227.5M0.6 113.9H228" fill="none" stroke="#1a1a10" stroke-width="1.1" stroke-dasharray="1.4 1.9"/></g>
</g>
<circle cx="114.5" cy="113.9" r="113.4" fill="none" stroke="#222" stroke-width="0.8"/>
</g>
<g transform="translate(0 254.5)">
<g clip-path="url(#cc)">
<rect x="0" y="0" width="229" height="229" fill="#ff9b00"/>
<g filter="url(#rg)">
<g clip-path="url(#k1)">
<path d="M136.8 10.8C131.8 -9.0 112.4 15.4 106.8 18.0C101.2 20.6 104.2 23.6 103.2 26.4C102.2 29.2 100.4 32.6 100.8 34.8C101.2 37.0 105.2 37.4 105.6 39.6C106.0 41.8 104.8 45.4 103.2 48.0C101.6 50.6 98.0 52.8 96.0 55.2C94.0 57.6 93.2 60.0 91.2 62.4C89.2 64.8 86.0 67.2 84.0 69.6C82.0 72.0 81.2 74.4 79.2 76.8C77.2 79.2 73.8 81.6 72.0 84.0C70.2 86.4 69.6 88.8 68.4 91.2C67.2 93.6 66.0 96.0 64.8 98.4C63.6 100.8 62.0 99.2 61.2 105.6C60.4 112.0 47.4 131.6 60.0 136.8C72.6 142.0 124.0 157.8 136.8 136.8C149.6 115.8 141.8 30.6 136.8 10.8Z" fill="#ffbe3c"/>
<path d="M30.0 60.0C31.1 58.0 32.5 55.2 34.1 53.3C35.7 51.4 37.3 49.8 39.6 48.5C41.9 47.2 45.2 45.9 48.0 45.6C50.8 45.3 54.0 45.8 56.4 46.8C58.8 47.8 60.6 49.6 62.4 51.6C64.2 53.6 65.8 56.4 67.2 58.8C68.6 61.2 70.4 63.6 70.8 66.0C71.2 68.4 70.4 71.0 69.6 73.2C68.8 75.4 67.3 77.0 66.0 79.2C64.7 81.4 63.1 84.0 61.9 86.4C60.7 88.8 59.5 91.2 58.8 93.6C58.1 96.0 57.6 98.4 57.6 100.8C57.6 103.2 58.4 102.0 58.8 108.0C59.2 114.0 66.2 132.0 60.0 136.8C53.8 141.6 28.6 142.8 21.8 136.8C15.0 130.8 20.8 108.1 19.2 100.8C17.6 93.5 13.7 95.7 12.5 92.9C11.3 90.1 11.6 86.9 12.0 84.0C12.4 81.1 12.9 77.9 14.9 75.6C16.9 73.3 21.9 71.8 24.0 70.1C26.1 68.4 26.6 67.0 27.6 65.3C28.6 63.6 28.9 62.0 30.0 60.0Z" fill="#ff5f00"/>
</g>
<g clip-path="url(#k2)">
<path d="M91.2 -22.8C117.8 -49.4 224.2 -49.4 250.8 -22.8C277.4 3.8 277.4 110.2 250.8 136.8C224.2 163.4 117.8 163.4 91.2 136.8C64.6 110.2 64.6 3.8 91.2 -22.8Z" fill="#ffbe3c"/>
<path d="M91.2 13.2C96.6 19.0 116.6 11.7 123.6 12.0C130.6 12.3 130.4 13.3 133.2 14.9C136.0 16.5 138.0 20.2 140.4 21.6C142.8 23.0 144.8 23.3 147.6 23.3C150.4 23.3 154.0 21.7 157.2 21.6C160.4 21.5 164.0 23.1 166.8 22.8C169.6 22.5 171.6 20.1 174.0 19.7C176.4 19.3 180.0 27.5 181.2 20.4C182.4 13.3 196.2 -15.6 181.2 -22.8C166.2 -30.0 106.2 -28.8 91.2 -22.8C76.2 -16.8 85.8 7.4 91.2 13.2Z" fill="#ff9b00"/>
<path d="M168.0 56.4C168.9 55.1 172.0 54.8 174.0 54.7C176.0 54.6 178.4 54.8 180.0 55.7C181.6 56.6 183.2 58.3 183.6 60.0C184.0 61.7 183.4 64.6 182.4 66.0C181.4 67.4 179.0 67.4 177.6 68.4C176.2 69.4 175.0 70.8 174.0 72.0C173.0 73.2 172.6 75.4 171.6 75.6C170.6 75.8 168.7 74.6 168.0 73.2C167.3 71.8 167.2 69.0 167.3 67.2C167.4 65.4 168.6 64.2 168.7 62.4C168.8 60.6 167.1 57.7 168.0 56.4Z" fill="#ffe673"/>
<path d="M145.2 68.9C146.3 68.2 151.1 67.5 152.4 67.9C153.7 68.4 154.0 70.8 152.9 71.5C151.8 72.2 147.0 72.4 145.7 72.0C144.4 71.6 144.1 69.6 145.2 68.9Z" fill="#ffe673"/>
</g>
<g clip-path="url(#k3)">
<path d="M68.4 91.2C56.8 96.6 67.6 116.6 67.2 123.6C66.8 130.6 66.4 130.0 66.0 133.2C65.6 136.4 65.2 139.6 64.8 142.8C64.4 146.0 63.6 149.2 63.6 152.4C63.6 155.6 64.0 159.0 64.8 162.0C65.6 165.0 68.2 168.0 68.4 170.4C68.6 172.8 67.2 174.8 66.0 176.4C64.8 178.0 62.6 178.4 61.2 180.0C59.8 181.6 58.8 183.8 57.6 186.0C56.4 188.2 55.1 190.8 54.0 193.2C52.9 195.6 52.5 198.0 50.9 200.4C49.3 202.8 45.7 199.2 44.4 207.6C43.1 216.0 27.8 243.6 43.2 250.8C58.6 258.0 121.2 277.4 136.8 250.8C152.4 224.2 148.2 117.8 136.8 91.2C125.4 64.6 80.0 85.8 68.4 91.2Z" fill="#ffbe3c"/>
<path d="M21.8 91.2C16.0 97.1 24.9 119.2 25.2 126.5C25.5 133.8 23.5 132.1 23.5 134.9C23.5 137.7 24.4 140.8 25.2 143.3C26.0 145.8 28.4 146.9 28.6 150.0C28.8 153.1 26.4 159.4 26.4 162.0C26.4 164.6 27.4 165.4 28.8 165.6C30.2 165.8 33.2 164.4 34.8 163.2C36.4 162.0 37.2 158.6 38.4 158.4C39.6 158.2 40.6 160.8 42.0 162.0C43.4 163.2 45.2 164.4 46.8 165.6C48.4 166.8 50.0 167.8 51.6 169.2C53.2 170.6 54.6 173.0 56.4 174.0C58.2 175.0 61.0 175.6 62.4 175.2C63.8 174.8 64.7 173.2 64.8 171.6C64.9 170.0 63.7 167.6 62.9 165.6C62.1 163.6 60.9 161.8 60.0 159.6C59.1 157.4 58.3 154.8 57.6 152.4C56.9 150.0 55.9 147.6 55.7 145.2C55.5 142.8 56.1 140.8 56.4 138.0C56.7 135.2 57.2 131.2 57.6 128.4C58.0 125.6 58.4 127.4 58.8 121.2C59.2 115.0 66.2 96.2 60.0 91.2C53.8 86.2 27.6 85.3 21.8 91.2Z" fill="#ff5f00"/>
<path d="M28.8 146.4C30.0 145.0 33.8 143.8 36.0 144.0C38.2 144.2 41.2 146.0 42.0 147.6C42.8 149.2 42.2 152.4 40.8 153.6C39.4 154.8 35.6 155.0 33.6 154.8C31.6 154.6 29.6 153.8 28.8 152.4C28.0 151.0 27.6 147.8 28.8 146.4Z" fill="#ff9b00"/>
<path d="M66.0 162.0C66.2 160.2 68.0 158.6 69.6 157.2C71.2 155.8 73.6 154.0 75.6 153.6C77.6 153.2 80.2 153.6 81.6 154.8C83.0 156.0 83.8 158.4 84.0 160.8C84.2 163.2 83.4 166.6 82.8 169.2C82.2 171.8 81.4 174.2 80.4 176.4C79.4 178.6 76.8 180.8 76.8 182.4C76.8 184.0 79.2 184.6 80.4 186.0C81.6 187.4 83.8 189.0 84.0 190.8C84.2 192.6 83.0 195.2 81.6 196.8C80.2 198.4 77.6 199.4 75.6 200.4C73.6 201.4 71.4 202.8 69.6 202.8C67.8 202.8 66.0 201.8 64.8 200.4C63.6 199.0 62.7 196.8 62.4 194.4C62.1 192.0 62.3 188.4 62.9 186.0C63.5 183.6 64.9 182.0 66.0 180.0C67.1 178.0 69.2 176.0 69.6 174.0C70.0 172.0 69.0 170.0 68.4 168.0C67.8 166.0 65.8 163.8 66.0 162.0Z" fill="#ffe673"/>
<path d="M93.6 212.4C95.0 205.6 99.0 209.2 100.8 210.0C102.6 210.8 104.0 210.4 104.4 217.2C104.8 224.0 105.2 245.2 103.2 250.8C101.2 256.4 94.0 257.2 92.4 250.8C90.8 244.4 92.2 219.2 93.6 212.4Z" fill="#ffe673"/>
<path d="M103.2 137.3C108.7 136.2 131.2 135.7 136.8 136.8C142.4 137.9 142.3 142.9 136.8 144.0C131.3 145.1 109.3 144.6 103.7 143.5C98.1 142.4 97.7 138.4 103.2 137.3Z" fill="#ffe673"/>
</g>
<g clip-path="url(#k4)">
<path d="M91.2 91.2C117.8 64.6 224.2 64.6 250.8 91.2C277.4 117.8 277.4 224.2 250.8 250.8C224.2 277.4 117.8 277.4 91.2 250.8C64.6 224.2 64.6 117.8 91.2 91.2Z" fill="#ffbe3c"/>
<path d="M160.8 160.8C162.0 159.4 166.2 159.0 169.2 157.2C172.2 155.4 175.6 152.4 178.8 150.0C182.0 147.6 185.2 144.8 188.4 142.8C191.6 140.8 194.4 139.4 198.0 138.0C201.6 136.6 206.4 135.4 210.0 134.4C213.6 133.4 212.8 132.6 219.6 132.0C226.4 131.4 245.6 117.8 250.8 130.8C256.0 143.8 261.6 196.8 250.8 210.0C240.0 223.2 198.2 210.8 186.0 210.0C173.8 209.2 179.6 207.6 177.6 205.2C175.6 202.8 174.8 198.8 174.0 195.6C173.2 192.4 173.2 189.2 172.8 186.0C172.4 182.8 172.6 179.0 171.6 176.4C170.6 173.8 168.4 172.2 166.8 170.4C165.2 168.6 163.0 167.2 162.0 165.6C161.0 164.0 159.6 162.2 160.8 160.8Z" fill="#ff9b00"/>
<path d="M177.6 163.2C178.8 162.0 183.0 160.8 186.0 159.6C189.0 158.4 192.4 157.0 195.6 156.0C198.8 155.0 202.0 154.2 205.2 153.6C208.4 153.0 212.0 152.4 214.8 152.4C217.6 152.4 216.0 153.2 222.0 153.6C228.0 154.0 246.0 151.0 250.8 154.8C255.6 158.6 256.0 173.2 250.8 176.4C245.6 179.6 226.0 175.0 219.6 174.0C213.2 173.0 214.8 171.4 212.4 170.4C210.0 169.4 208.0 168.4 205.2 168.0C202.4 167.6 198.8 168.0 195.6 168.0C192.4 168.0 188.8 168.2 186.0 168.0C183.2 167.8 180.2 167.6 178.8 166.8C177.4 166.0 176.4 164.4 177.6 163.2Z" fill="#ff5f00"/>
<path d="M210.0 165.6C210.4 163.8 214.2 162.2 216.0 162.0C217.8 161.8 220.2 162.8 220.8 164.4C221.4 166.0 220.8 170.2 219.6 171.6C218.4 173.0 215.2 173.8 213.6 172.8C212.0 171.8 209.6 167.4 210.0 165.6Z" fill="#ff4100"/>
<path d="M136.8 160.8C138.1 159.7 141.2 158.4 142.8 158.4C144.4 158.4 146.2 159.6 146.4 160.8C146.6 162.0 145.4 164.4 144.0 165.6C142.6 166.8 139.5 168.1 138.0 168.0C136.5 167.9 135.3 166.1 135.1 164.9C134.9 163.7 135.5 161.9 136.8 160.8Z" fill="#ffe673"/>
</g>
</g>
<g><path d="M116.7 -1.2L116.5 1.9L116.8 3.6L118.4 6.4L122.2 8.3L123.0 10.0L119.7 10.9L117.2 10.2L117.6 13.2L116.2 12.4L114.1 12.4L111.9 14.0L111.4 16.5L108.9 17.7L107.5 19.6L106.8 22.1L104.8 23.6L101.7 24.3L100.8 25.5L100.9 27.3L102.3 29.5L102.6 33.4L99.7 35.8L99.7 33.6L99.4 31.3L99.9 29.9L99.3 28.1L97.6 27.1L97.6 26.3L96.1 26.6L95.2 27.9L94.0 28.7L93.1 27.5L92.2 27.2L89.9 28.7L87.4 31.1L86.0 30.4L84.7 31.2L84.6 32.3L83.6 33.8L84.2 35.6L84.6 38.2L84.8 39.8L83.8 40.6L82.2 39.5L81.2 39.6L81.6 41.7L82.1 43.2L83.6 43.4L84.3 44.8L82.9 46.0L80.9 46.9L79.0 47.6L78.3 49.5L77.2 50.2L78.9 50.0L80.0 50.6L81.9 49.0L83.4 47.7L85.4 45.8L86.9 46.8L88.5 48.0L89.4 50.1L90.1 52.9L89.3 55.1L88.8 57.8L88.2 58.9L89.7 60.2L91.1 59.8L92.0 58.9L92.0 56.5L92.1 54.0L93.4 51.4L94.1 49.6L93.8 47.3L93.1 45.4L91.0 44.7L90.6 42.4L92.0 40.0L91.5 37.8L91.1 35.1L91.8 33.3L93.1 32.7L93.3 31.0L95.0 30.5L95.9 32.0L95.9 33.6L97.9 36.1L99.5 39.0L100.4 39.8L100.6 41.4L101.1 38.9L101.7 38.6L103.4 36.2L104.7 35.8L106.5 36.9L106.9 38.1L107.6 40.7L107.9 41.7L108.2 43.2L108.2 45.7L107.0 47.1L105.4 48.9L104.2 50.1L102.6 50.1L103.3 51.5L102.4 54.0L101.6 56.7L100.6 60.5L101.5 62.6L99.4 63.7L99.6 65.7L98.3 67.4L97.1 69.2L95.5 71.2L94.4 72.8L92.9 73.2L89.9 73.3L89.1 72.0L88.4 72.4L86.6 72.1L84.5 72.9L81.7 72.9L78.2 72.3L76.8 70.8L77.7 68.8L80.0 67.6L82.4 67.1L84.5 67.0L82.3 66.0L79.9 64.3L78.8 63.0L76.5 62.8L75.1 63.8L77.9 64.8L77.7 65.6L74.3 66.6L76.0 67.9L75.8 71.1L74.1 71.6L73.6 71.7L74.9 73.6L78.7 76.2L76.6 77.2L75.0 76.3L73.9 74.9L73.5 76.5L74.0 78.2L74.7 80.1L72.8 81.5L71.6 82.7L72.7 84.2L70.6 86.0L69.2 87.3L69.2 87.8L70.5 89.1L71.4 89.9L68.4 92.0L65.2 94.3L68.0 94.1L71.0 95.2L73.0 96.8L75.1 98.8L75.9 100.3L74.5 101.3L71.6 100.7L68.1 99.4L65.0 99.3L62.4 97.0L60.6 95.4L60.5 97.2L62.9 99.6L65.3 100.0L69.0 100.9L71.9 102.2L74.2 103.2L74.0 105.0L71.8 104.9L72.4 106.9L68.7 108.3L71.1 108.6L75.0 107.3L75.0 109.1L76.3 111.2L78.2 112.6L79.4 114.5L80.6 115.7L81.3 117.9L83.5 119.3L85.6 121.2L84.3 122.8L83.8 125.0L83.3 127.1L81.8 128.0L79.7 127.9L77.4 126.6L75.8 125.7L76.2 127.8L78.3 129.2L78.5 130.6L79.8 132.7L78.6 134.1L79.7 135.9L79.1 137.2L81.5 136.4L83.3 137.3L83.2 139.5L81.5 141.3L80.0 142.2L79.4 143.7L80.4 144.9L82.3 143.7L83.1 146.2L84.6 146.9L87.1 146.3L88.2 145.8L90.3 149.5L91.9 152.6L92.0 153.2L92.9 155.1L94.8 155.8L96.8 156.1L98.3 157.8L98.3 160.4L100.7 161.4L103.4 161.1L104.1 161.7L105.8 164.6L106.4 161.4L109.2 162.5L113.9 164.8L114.7 165.0L116.6 166.5L119.0 167.5L119.7 169.5L122.7 169.9L124.7 171.1L123.8 172.5L122.6 174.2L121.9 175.8L119.2 175.6L118.5 173.6L115.8 171.7L114.8 171.2L114.5 173.5L113.2 174.7L111.6 175.5L112.7 176.7L113.5 179.0L113.2 181.6L107.7 182.5L103.6 185.4L101.9 186.7L97.4 184.4L94.5 185.3L92.0 186.9L90.0 188.8L91.3 190.0L90.3 193.8L88.5 193.2L87.5 196.8L85.0 196.7L83.1 199.7L80.9 199.5L79.4 201.7L75.7 203.4L76.6 200.6L76.9 197.8L78.0 193.9L79.8 190.4L82.3 188.6L83.3 186.8L84.8 186.9L88.0 185.3L91.0 183.7L94.5 182.1L96.6 179.0L94.3 179.3L91.2 181.0L89.8 181.9L91.1 178.8L88.8 178.5L86.6 179.2L82.7 181.7L80.0 181.3L78.6 181.1L77.4 179.0L74.8 178.4L71.8 175.8L69.2 174.2L65.6 174.1L61.8 174.3L59.0 175.3L53.6 175.6L52.9 176.0L53.5 179.1L54.9 181.1L56.9 181.1L57.4 185.0L55.2 187.7L52.6 189.0L48.7 192.9L44.3 194.5L40.1 196.3L34.8 197.1M60.9 184.0L60.1 186.4L57.7 189.6L56.1 193.4L54.7 196.5L54.4 198.6L52.7 195.6L49.8 198.9L49.3 201.7L48.2 202.9L48.3 200.9L46.0 201.6L47.7 199.1L49.7 197.2L51.3 194.9L52.9 192.7L54.6 190.6L55.7 188.1L57.5 186.1L58.8 185.4ZM42.8 204.1L45.0 202.3L45.8 203.6L45.5 206.2M124.2 14.8L120.7 14.7L118.4 15.7L116.0 15.9L113.8 16.2L111.9 17.0L113.0 17.8L112.3 18.9L111.5 20.8L112.7 21.9L113.8 21.8L114.1 23.4L114.5 25.0L116.0 26.3L116.8 29.0L118.1 30.1L119.1 30.1L118.1 30.8L117.3 32.6L116.9 34.5L119.9 34.3L118.5 36.3L121.0 37.0L122.2 35.1L122.5 33.0L122.6 31.2L122.8 28.8L121.5 29.8L122.0 27.7L121.8 26.9L119.6 27.3L119.3 25.1L119.1 23.2L121.4 23.1L121.7 21.8L121.0 20.7L123.1 19.5L122.5 18.7L119.7 18.2L119.5 17.4L121.4 17.5L122.9 16.0ZM130.6 19.4L128.0 19.8L124.8 20.5L124.0 23.4L123.8 25.2L122.7 26.7L123.6 28.4L125.3 29.1L127.3 28.1L127.0 27.0L129.6 26.8L130.3 24.8L128.6 23.7L130.0 22.3L131.3 21.2ZM135.4 52.5L139.0 55.0L139.3 57.8L139.0 59.7L136.7 61.1L135.7 58.3L134.2 59.3L132.5 59.0L130.2 59.1L128.9 58.2L128.4 55.5L129.9 53.5L132.7 52.7ZM105.1 82.7L107.0 84.7L107.9 86.3L109.3 88.0L109.4 89.9L107.7 90.8L106.3 90.0L104.4 88.1L104.8 85.4ZM106.1 90.1L106.5 92.5L103.7 93.1L103.1 91.0L105.0 89.7ZM103.1 85.5L104.1 87.4L102.8 88.0L101.8 86.5ZM97.0 97.2L98.1 98.8L97.1 100.5L95.9 99.6ZM94.8 100.7L96.4 101.8L96.4 103.6L94.2 103.7L93.9 102.1ZM74.9 88.5L76.3 86.8L79.2 86.3L80.8 88.2L81.7 90.2L82.7 91.8L84.3 93.7L85.1 96.0L85.2 98.4L85.5 101.1L85.2 102.4L83.7 101.5L82.8 98.9L81.9 95.2L80.7 92.5L79.3 90.3L77.0 89.2L74.9 89.3ZM77.1 81.0L75.9 81.7L75.2 80.5L76.1 79.9ZM73.7 89.3L72.3 89.9L72.0 89.0ZM86.4 118.8L86.4 121.1L88.5 119.8L88.8 118.9ZM88.0 116.2L88.9 118.1L90.6 117.9L92.6 116.6L90.3 115.2ZM91.0 117.4L91.2 118.2L93.3 116.3L92.5 115.8ZM89.9 141.5L90.3 139.9L92.1 139.0L93.1 140.1L93.7 141.8L92.6 142.8L91.0 142.2ZM94.4 144.0L95.1 143.4L97.0 144.5L95.7 145.5ZM88.4 144.8L90.0 144.5L90.6 145.9L89.3 145.8ZM113.3 160.1L113.9 158.6L115.9 158.8L115.3 160.1ZM165.7 60.5L165.9 64.1L167.3 66.7L166.5 69.6L165.4 72.2L163.6 74.9L161.9 78.0L159.5 80.7L157.1 82.0L155.2 82.0L153.5 82.2L152.4 83.6L152.3 86.8L151.1 88.6L148.7 90.7L146.7 92.9L145.1 95.0L143.6 96.3L143.9 98.8L145.4 100.4L144.6 102.3L142.6 103.9L141.4 105.6L138.8 104.0L136.4 104.5L135.1 104.6L133.1 104.3L130.8 104.0L128.9 102.5L126.2 102.0L122.7 101.0L121.2 99.1L120.7 97.1L118.5 93.9L120.6 92.0L122.5 90.1L123.9 86.7L124.2 84.2L125.7 82.2L126.1 79.7L128.1 77.9L130.0 76.0L131.3 73.9L131.5 71.3L132.0 70.2L133.0 69.8L134.5 68.6L137.3 67.7L140.7 68.1L144.0 68.1L147.3 66.7L150.3 67.0L153.4 67.3L155.5 65.7L158.0 64.5L160.3 63.2L162.5 61.8L164.6 60.3ZM154.6 84.1L154.3 85.7L152.9 85.9L152.6 83.9ZM209.7 178.3L205.8 175.6L203.7 174.7L200.0 173.3L202.2 171.0L204.8 171.6L202.8 170.1L200.4 169.8L197.1 170.8L192.4 172.7L190.0 172.7L187.2 171.9L182.3 171.6L179.6 170.7L176.7 170.1L173.8 169.4L169.9 168.5L167.2 167.6L167.8 170.2L167.8 170.9L164.9 170.7L162.3 170.7L159.6 171.9L156.9 173.6L154.6 173.6L152.4 173.8L152.7 176.6L150.3 180.1L148.8 177.4L149.5 174.9L148.0 177.3L147.7 180.9L148.2 183.5L146.8 187.0L144.6 190.8L142.0 194.5L139.0 197.4L139.9 195.2L141.6 193.2L144.1 189.6L144.2 186.1L142.4 185.2L140.1 186.6L138.1 187.0L137.2 184.3L133.0 183.7L131.2 181.5L131.7 178.8L132.9 176.6L134.8 175.2L134.5 172.6L132.5 173.5L130.0 174.0L128.3 172.3L126.5 172.0L128.2 169.8L130.0 168.5L132.3 169.2L131.1 167.4L129.3 166.4L126.6 165.1L126.7 163.5L128.6 160.7L129.4 159.1L131.2 156.9L132.2 155.1L135.3 155.0L137.9 154.7L141.1 153.6L143.9 152.5L146.0 151.7L149.2 151.3L150.3 148.1L151.4 145.0L152.6 144.3L151.5 142.9L154.5 142.6L154.0 141.2L156.1 141.1L158.8 138.6L160.5 136.4L163.1 136.7L164.0 134.0L165.5 131.5L167.7 131.2L165.2 129.9L165.2 127.1L166.7 125.0L167.6 121.9L166.0 120.7L167.6 119.5L166.3 117.5L163.8 117.4L161.2 119.2L158.8 118.2L157.6 117.3L159.4 116.3L161.9 115.6L163.9 116.1L165.2 114.3L166.4 113.7L164.4 112.6L167.6 111.6L168.8 111.0L165.0 109.9L163.0 109.9L163.5 107.0L165.9 106.6L168.3 105.8L171.5 107.4L171.3 110.1L173.8 110.8L177.7 112.2L179.4 114.7L180.7 116.3L184.9 119.0L187.6 120.1L190.7 119.5L194.8 117.4L195.6 113.9L198.1 110.2L199.7 106.4L199.5 102.4L202.7 101.9L205.3 101.4L207.2 100.0L209.4 98.0L208.5 96.1L206.2 95.4L202.4 96.8L200.5 98.1L198.1 95.6L195.2 94.6L192.2 95.6L190.1 97.9L186.1 97.7L183.7 99.1L180.2 99.8L180.1 97.1L180.4 92.4L181.0 89.6L183.2 88.3L184.9 87.6L186.1 86.3L187.2 85.0L184.6 82.6L182.3 82.6L179.9 83.0L182.4 79.8L184.0 77.3L187.0 74.7L188.4 70.8L189.5 66.9L189.3 63.3L191.7 61.1L194.9 61.5L200.4 64.2L203.2 69.6L205.4 74.1L208.4 74.9L211.4 76.6L216.4 78.2L213.5 76.8L209.6 74.4L206.8 70.8L207.2 69.0L210.2 70.2L210.3 69.1L212.2 68.0L213.5 65.5L213.2 62.4L212.7 60.3L216.4 60.8M193.1 59.8L197.1 58.0L197.3 55.8L196.1 53.3L197.0 51.8L199.0 49.4L201.7 48.3L202.4 50.3L201.1 50.8L204.0 53.0L203.1 55.1L205.8 59.5L203.4 60.3L200.2 60.2L197.2 60.7ZM212.3 59.6L208.4 60.7L209.8 58.6L211.8 58.7ZM204.7 70.8L203.2 66.6L204.4 65.4L205.2 68.6ZM201.3 171.5L198.6 173.4L194.5 174.4L190.9 174.6L193.5 172.5L197.8 171.3ZM185.5 176.0L181.2 175.6L179.1 174.4L180.9 173.2L182.8 175.1ZM149.9 187.6L148.3 186.1L150.0 184.0L151.7 184.9ZM177.6 172.9L174.4 171.3L176.0 170.8L177.9 171.8ZM173.2 171.8L169.5 170.7L169.8 169.4L172.8 170.4ZM137.4 198.9L137.5 197.6L139.3 197.3L139.3 198.1ZM133.2 203.0L135.1 200.6L135.6 201.3L132.6 203.9ZM123.4 208.0L125.7 206.9L126.1 207.4ZM118.5 209.1L120.9 208.2L120.9 209.0ZM123.6 178.4L123.7 177.1L127.0 177.8L126.0 178.8ZM130.5 185.7L131.6 184.3L132.7 185.6ZM174.4 108.1L175.7 104.7L178.0 103.2L179.3 106.5L178.6 110.0L176.3 110.6L174.5 109.2ZM177.0 85.9L176.8 89.3L175.6 93.4L174.6 97.2L175.2 100.4L172.8 101.3L171.6 97.5L168.9 97.2L166.5 97.9L164.5 100.0L162.7 102.7L161.8 104.7L163.0 107.1L161.3 110.2L162.7 112.6L159.0 113.9L155.3 113.5L153.3 112.5L153.5 110.5L156.4 110.6L153.4 109.8L153.1 107.8L154.8 104.9L155.7 102.4L157.3 99.9L158.2 96.6L160.0 94.5L161.9 92.7L162.9 89.1L164.2 86.6L167.4 86.3L167.3 91.4L169.2 87.1L173.9 85.7L174.0 90.4ZM154.9 106.7L153.0 107.1L153.0 104.6L154.4 104.3ZM161.9 134.6L159.4 136.4L157.2 136.2L154.7 135.8L153.2 135.5L151.4 133.6L151.6 130.9L152.2 127.7L153.6 125.6L156.3 125.2L158.8 125.4L161.8 123.1L164.2 124.0L163.6 127.6L163.7 130.4ZM152.6 138.8L149.6 139.3L147.1 136.4L146.2 133.8L147.7 131.7L150.2 131.0L151.0 134.3L152.8 136.6ZM149.9 124.4L147.8 127.4L145.7 130.2L143.9 128.4L144.3 124.2L147.2 123.0ZM142.7 132.0L141.4 129.5L141.1 127.0L142.8 129.0ZM149.8 120.5L147.2 121.2L145.9 118.9L147.7 118.3L150.1 118.9ZM151.0 117.8L149.0 117.7L149.2 116.0L150.9 116.1ZM158.9 121.0L155.5 123.0L152.5 121.0L153.0 119.0L156.3 118.8L158.6 119.7ZM157.4 117.7L153.9 117.7L152.3 116.2L153.4 113.9L156.1 114.6L157.7 116.6ZM165.8 121.6L163.8 121.7L162.8 120.3L164.9 118.8L166.1 119.8ZM151.3 108.7L151.4 112.6L150.7 115.2L147.9 116.0L145.4 116.9L146.8 113.6L148.6 111.5L148.0 108.0L149.4 107.6ZM146.9 108.7L146.5 111.9L147.3 113.6L145.1 112.8L142.7 113.2L140.6 111.8L138.3 112.6L135.9 114.1L134.0 113.6L132.1 111.4L130.3 109.6L129.9 107.6L130.5 105.1L132.7 105.1L135.7 105.9L137.9 106.5L141.0 106.7L143.0 107.8L145.4 107.6ZM142.4 115.1L139.4 116.3L136.5 115.8L135.2 114.6L137.6 113.1L140.7 112.7ZM143.4 117.5L142.1 118.1L141.3 117.0L143.1 116.2ZM142.1 119.6L140.4 120.6L139.3 119.7L140.8 118.3ZM21.3 137.1L24.0 139.8L27.5 142.1L31.4 142.9L34.6 142.6L32.5 142.1L29.0 141.6L26.4 140.4L23.0 138.4ZM76.2 51.0L78.4 52.4L78.5 54.4L76.1 54.7L74.9 52.7ZM72.9 55.9L75.7 57.4L76.2 59.5L73.5 58.3ZM165.3 147.0L162.7 146.5L162.4 142.8L165.2 140.9L166.0 143.1L166.2 145.1ZM177.6 146.1L177.3 143.7L176.8 140.4L176.7 136.6L178.1 136.5L178.7 140.6L178.9 144.0ZM186.1 141.5L185.3 138.3L186.1 135.2L187.0 135.4L186.8 138.9ZM195.2 131.8L192.8 132.0L191.0 130.2L193.5 130.0ZM212.4 125.6L209.4 125.6L205.6 128.0L202.9 127.9L203.1 126.4L206.8 125.3L210.4 124.5ZM223.5 117.7L221.6 115.8L219.7 113.0L217.2 110.7L217.6 107.6L219.5 104.7L222.2 103.9L223.5 106.3L222.9 110.1L223.3 114.9ZM229.3 109.1L226.5 108.4L224.9 105.2L225.3 103.8L228.6 106.3M228.6 100.5L225.8 102.8L224.0 102.4L224.1 98.5L225.6 95.3L227.9 95.5M58.7 13.1L58.2 15.6L58.2 17.6L58.4 19.7L56.6 21.2L53.9 20.9L52.6 21.4L53.8 19.0L51.7 19.0L50.1 18.0M47.5 20.2L48.4 21.6L47.2 23.2L50.5 22.8L51.0 24.5L49.0 26.7L48.5 28.5L46.6 30.3L46.8 28.4L45.9 26.6L45.8 24.2L46.5 23.0L43.8 22.9M30.4 35.1L30.9 36.6L32.1 38.6L31.4 41.9L30.2 44.6L29.3 47.0L27.1 48.2L25.0 47.1L24.8 45.2L25.6 42.8L25.7 40.4M16.4 53.4L17.4 54.5L18.8 56.5L19.2 60.1L18.5 62.5L16.9 62.1L15.8 60.0L14.1 60.2L13.1 59.0M6.2 82.3L8.3 84.1L9.1 86.7L7.6 89.3L7.3 93.1L6.3 92.9L6.8 89.1L8.0 86.4L7.1 84.4ZM88.9 36.7L88.7 39.2L88.3 38.0ZM96.6 29.2L97.8 30.8L96.5 32.2L95.9 30.1ZM84.8 40.9L85.1 42.5L83.7 42.5ZM122.5 44.4L122.8 46.8L122.0 46.4ZM116.0 40.1L115.8 42.4L115.4 41.4Z" fill="none" stroke="#000" stroke-width="1" stroke-linejoin="round" stroke-linecap="round"/><circle cx="114.3" cy="113.9" r="73.3" fill="none" stroke="#1a1a10" stroke-width="1.1" stroke-dasharray="1.4 1.9"/><path d="M114.3 0.3V227.5M0.6 113.9H228" fill="none" stroke="#1a1a10" stroke-width="1.1" stroke-dasharray="1.4 1.9"/></g>
<path d="M38.9 64.3 L39.9 66.8 L42.6 67.0 L40.5 68.7 L41.2 71.4 L38.9 69.9 L36.6 71.4 L37.3 68.7 L35.2 67.0 L37.9 66.8Z" fill="#ff2a10" stroke="#fff" stroke-width="1.1" stroke-linejoin="miter"/>
</g>
<circle cx="114.5" cy="113.9" r="113.4" fill="none" stroke="#222" stroke-width="0.8"/>
</g>
<g transform="translate(246 254.5)">
<g clip-path="url(#cc)">
<rect x="0" y="0" width="229" height="229" fill="#ffe673"/>
<g filter="url(#rg)">
<g clip-path="url(#k1)">
<path d="M24.0 48.0C26.4 45.6 30.2 43.6 33.6 42.0C37.0 40.4 40.8 39.4 44.4 38.4C48.0 37.4 51.6 36.4 55.2 36.0C58.8 35.6 63.2 35.2 66.0 36.0C68.8 36.8 70.2 38.8 72.0 40.8C73.8 42.8 75.0 46.2 76.8 48.0C78.6 49.8 80.8 50.2 82.8 51.6C84.8 53.0 86.8 55.0 88.8 56.4C90.8 57.8 93.2 58.4 94.8 60.0C96.4 61.6 98.1 63.8 98.4 66.0C98.7 68.2 96.3 70.5 96.5 73.4C96.6 76.4 98.6 79.3 99.4 83.5C100.1 87.8 101.0 94.1 101.0 98.9C101.0 103.7 99.7 106.0 99.4 112.3C99.0 118.6 113.6 132.7 98.9 136.8C84.1 140.9 25.7 141.0 10.8 136.8C-4.1 132.6 10.6 117.7 9.6 111.6C8.6 105.5 5.6 104.7 5.0 100.1C4.5 95.5 5.7 87.7 6.2 84.0C6.8 80.3 7.0 81.4 8.4 78.0C9.8 74.6 12.6 67.2 14.4 63.6C16.2 60.0 17.6 59.0 19.2 56.4C20.8 53.8 21.6 50.4 24.0 48.0Z" fill="#ffbe3c"/>
<path d="M30.0 72.0C31.1 69.4 32.0 66.0 33.6 63.6C35.2 61.2 37.2 59.1 39.6 57.6C42.0 56.1 45.2 55.1 48.0 54.7C50.8 54.3 54.2 54.3 56.4 55.2C58.6 56.1 59.8 58.0 61.2 60.0C62.6 62.0 63.4 65.0 64.8 67.2C66.2 69.4 68.2 71.0 69.6 73.2C71.0 75.4 72.8 77.8 73.2 80.4C73.6 83.0 72.6 86.2 72.0 88.8C71.4 91.4 70.2 93.2 69.6 96.0C69.0 98.8 68.6 98.8 68.4 105.6C68.2 112.4 75.0 131.6 68.2 136.8C61.3 142.0 34.5 141.6 27.4 136.8C20.2 132.0 26.0 114.0 25.2 108.0C24.4 102.0 23.5 103.1 22.8 100.8C22.1 98.5 22.2 95.5 21.1 94.1C20.0 92.7 17.8 93.2 16.3 92.4C14.8 91.6 12.5 90.2 12.0 89.3C11.5 88.4 11.2 88.0 13.2 86.9C15.2 85.8 21.7 84.1 24.0 82.8C26.3 81.5 25.9 81.0 26.9 79.2C27.9 77.4 28.9 74.6 30.0 72.0Z" fill="#ff9b00"/>
<path d="M105.6 57.6C106.9 56.0 105.2 55.7 110.4 55.2C115.6 54.7 132.4 50.5 136.8 54.7C141.2 58.9 141.4 76.5 136.8 80.4C132.2 84.3 114.6 79.4 109.2 78.0C103.8 76.6 105.5 74.2 104.4 72.0C103.3 69.8 102.5 67.2 102.7 64.8C102.9 62.4 104.3 59.2 105.6 57.6Z" fill="#c8f5ff"/>
<path d="M68.4 13.2C68.8 14.0 73.8 11.8 76.8 12.0C79.8 12.2 83.2 13.4 86.4 14.4C89.6 15.4 92.8 17.0 96.0 18.0C99.2 19.0 98.8 20.2 105.6 20.4C112.4 20.6 131.6 21.0 136.8 19.2C142.0 17.4 142.0 11.0 136.8 9.6C131.6 8.2 112.4 11.0 105.6 10.8C98.8 10.6 99.6 9.2 96.0 8.4C92.4 7.6 87.6 6.2 84.0 6.0C80.4 5.8 77.0 6.0 74.4 7.2C71.8 8.4 68.0 12.4 68.4 13.2Z" fill="#ffbe3c"/>
<path d="M51.6 136.8C50.1 132.5 52.6 115.4 54.0 110.9C55.4 106.4 58.4 109.6 60.0 109.9C61.6 110.2 63.1 108.3 63.6 112.8C64.1 117.3 64.9 132.8 62.9 136.8C60.9 140.8 53.1 141.1 51.6 136.8Z" fill="#ff5f00"/>
</g>
<g clip-path="url(#k2)">
<path d="M122.4 0.0C124.2 -2.2 129.4 -0.4 133.2 0.0C137.0 0.4 141.6 1.2 145.2 2.4C148.8 3.6 151.6 5.6 154.8 7.2C158.0 8.8 161.2 10.4 164.4 12.0C167.6 13.6 170.8 15.0 174.0 16.8C177.2 18.6 183.2 21.6 183.6 22.8C184.0 24.0 179.2 24.2 176.4 24.0C173.6 23.8 170.0 22.4 166.8 21.6C163.6 20.8 160.4 19.8 157.2 19.2C154.0 18.6 150.8 18.4 147.6 18.0C144.4 17.6 141.2 17.2 138.0 16.8C134.8 16.4 131.0 16.2 128.4 15.6C125.8 15.0 123.4 15.8 122.4 13.2C121.4 10.6 120.6 2.2 122.4 0.0Z" fill="#ffbe3c"/>
<path d="M91.2 56.4C96.2 51.6 115.0 53.0 121.2 51.6C127.4 50.2 125.6 48.8 128.4 48.0C131.2 47.2 134.8 46.8 138.0 46.8C141.2 46.8 144.4 48.0 147.6 48.0C150.8 48.0 154.0 47.4 157.2 46.8C160.4 46.2 163.6 45.2 166.8 44.4C170.0 43.6 173.2 42.6 176.4 42.0C179.6 41.4 182.8 40.8 186.0 40.8C189.2 40.8 192.8 41.2 195.6 42.0C198.4 42.8 200.8 44.0 202.8 45.6C204.8 47.2 206.4 49.4 207.6 51.6C208.8 53.8 208.8 56.4 210.0 58.8C211.2 61.2 213.4 63.6 214.8 66.0C216.2 68.4 217.6 70.8 218.4 73.2C219.2 75.6 220.0 78.8 219.6 80.4C219.2 82.0 217.4 83.0 216.0 82.8C214.6 82.6 212.6 79.4 211.2 79.2C209.8 79.0 207.8 80.0 207.6 81.6C207.4 83.2 209.2 86.6 210.0 88.8C210.8 91.0 212.6 93.6 212.4 94.8C212.2 96.0 210.4 96.0 208.8 96.0C207.2 96.0 204.6 94.6 202.8 94.8C201.0 95.0 199.2 95.8 198.0 97.2C196.8 98.6 196.4 101.0 195.6 103.2C194.8 105.4 193.8 104.8 193.2 110.4C192.6 116.0 203.7 132.4 192.0 136.8C180.3 141.2 134.1 142.3 122.9 136.8C111.6 131.3 123.4 109.7 124.6 103.9C125.7 98.2 128.8 104.5 129.6 102.2C130.4 100.0 130.7 93.4 129.6 90.2C128.5 87.1 125.3 84.9 122.9 83.5C120.5 82.1 120.5 82.4 115.2 81.8C109.9 81.3 95.2 84.6 91.2 80.4C87.2 76.2 86.2 61.2 91.2 56.4Z" fill="#c8f5ff"/>
<path d="M126.0 87.6C127.4 86.6 130.8 85.4 133.2 85.2C135.6 85.0 138.0 86.6 140.4 86.4C142.8 86.2 145.4 84.8 147.6 84.0C149.8 83.2 152.4 81.4 153.6 81.6C154.8 81.8 155.4 83.8 154.8 85.2C154.2 86.6 151.8 88.6 150.0 90.0C148.2 91.4 146.0 92.6 144.0 93.6C142.0 94.6 140.0 95.4 138.0 96.0C136.0 96.6 133.8 97.4 132.0 97.2C130.2 97.0 128.4 95.8 127.2 94.8C126.0 93.8 125.0 92.4 124.8 91.2C124.6 90.0 124.6 88.6 126.0 87.6Z" fill="#ffe673"/>
<path d="M128.9 55.7C129.5 54.9 131.7 54.0 133.2 54.0C134.7 54.0 137.3 54.8 138.0 55.7C138.7 56.6 138.4 58.7 137.5 59.5C136.6 60.3 134.1 60.6 132.7 60.5C131.4 60.4 130.0 59.6 129.4 58.8C128.7 58.0 128.2 56.5 128.9 55.7Z" fill="#ffe673"/>
</g>
<g clip-path="url(#k3)">
<path d="M12.5 91.2C-2.0 97.0 11.3 118.7 12.0 126.0C12.7 133.3 15.7 132.0 16.8 134.9C17.9 137.8 18.4 140.0 18.5 143.3C18.6 146.6 17.0 151.5 17.3 154.8C17.6 158.1 19.3 160.6 20.4 163.2C21.5 165.8 22.6 168.4 24.0 170.4C25.4 172.4 27.0 174.2 28.8 175.2C30.6 176.2 32.8 176.4 34.8 176.4C36.8 176.4 38.8 175.8 40.8 175.2C42.8 174.6 45.0 173.6 46.8 172.8C48.6 172.0 50.0 171.6 51.6 170.4C53.2 169.2 55.0 167.4 56.4 165.6C57.8 163.8 58.8 161.6 60.0 159.6C61.2 157.6 62.4 155.6 63.6 153.6C64.8 151.6 65.8 149.4 67.2 147.6C68.6 145.8 70.3 144.2 72.0 142.8C73.7 141.4 75.6 140.2 77.3 139.2C79.0 138.2 81.7 139.3 82.3 136.8C83.0 134.3 80.8 127.3 81.1 124.1C81.5 120.8 81.5 122.8 84.5 117.4C87.4 111.9 110.9 95.6 98.9 91.2C86.9 86.8 27.0 85.4 12.5 91.2Z" fill="#ffbe3c"/>
<path d="M27.8 91.2C21.0 97.1 28.0 119.2 28.6 126.5C29.1 133.8 31.2 132.1 31.2 134.9C31.2 137.7 28.4 140.8 28.8 143.3C29.2 145.8 31.1 147.9 33.6 150.0C36.1 152.1 41.1 154.4 43.7 156.0C46.3 157.6 47.8 159.3 49.2 159.6C50.6 159.9 51.3 158.7 52.3 157.7C53.3 156.7 54.1 155.3 55.2 153.6C56.3 151.9 57.5 149.6 58.8 147.6C60.1 145.6 61.5 143.6 62.9 141.6C64.3 139.6 66.1 137.8 67.2 135.6C68.3 133.4 69.1 130.8 69.6 128.4C70.1 126.0 70.1 127.4 70.1 121.2C70.1 115.0 76.6 96.2 69.6 91.2C62.6 86.2 34.7 85.3 27.8 91.2Z" fill="#ff9b00"/>
<path d="M48.0 91.2C45.7 96.2 48.6 115.0 49.2 121.2C49.8 127.4 50.4 126.4 51.6 128.4C52.8 130.4 54.8 132.8 56.4 133.2C58.0 133.6 60.0 132.2 61.2 130.8C62.4 129.4 63.2 127.0 63.6 124.8C64.0 122.6 63.7 123.2 63.6 117.6C63.5 112.0 65.5 95.6 62.9 91.2C60.3 86.8 50.3 86.2 48.0 91.2Z" fill="#ff5f00"/>
<path d="M68.4 165.6C68.8 163.2 70.6 160.4 72.0 158.4C73.4 156.4 75.2 154.6 76.8 153.6C78.4 152.6 80.4 151.8 81.6 152.4C82.8 153.0 83.8 155.2 84.0 157.2C84.2 159.2 83.6 162.2 82.8 164.4C82.0 166.6 80.6 168.8 79.2 170.4C77.8 172.0 76.0 173.6 74.4 174.0C72.8 174.4 70.6 174.2 69.6 172.8C68.6 171.4 68.0 168.0 68.4 165.6Z" fill="#c8f5ff"/>
<path d="M57.6 186.0C58.4 184.2 60.4 182.6 62.4 181.2C64.4 179.8 67.2 178.0 69.6 177.6C72.0 177.2 74.4 178.0 76.8 178.8C79.2 179.6 81.6 181.2 84.0 182.4C86.4 183.6 88.4 185.0 91.2 186.0C94.0 187.0 97.6 188.2 100.8 188.4C104.0 188.6 104.4 187.2 110.4 187.2C116.4 187.2 132.4 183.0 136.8 188.4C141.2 193.8 142.0 214.8 136.8 219.6C131.6 224.4 112.4 217.2 105.6 217.2C98.8 217.2 98.4 220.0 96.0 219.6C93.6 219.2 93.2 216.4 91.2 214.8C89.2 213.2 86.4 211.2 84.0 210.0C81.6 208.8 79.2 208.4 76.8 207.6C74.4 206.8 71.8 205.8 69.6 205.2C67.4 204.6 65.2 205.2 63.6 204.0C62.0 202.8 61.0 200.0 60.0 198.0C59.0 196.0 58.0 194.0 57.6 192.0C57.2 190.0 56.8 187.8 57.6 186.0Z" fill="#c8f5ff"/>
<path d="M61.2 206.4C62.6 205.2 66.6 204.8 69.6 205.2C72.6 205.6 77.0 207.2 79.2 208.8C81.4 210.4 82.6 212.6 82.8 214.8C83.0 217.0 81.8 220.0 80.4 222.0C79.0 224.0 75.8 222.0 74.4 226.8C73.0 231.6 73.6 252.0 72.0 250.8C70.4 249.6 66.6 226.0 64.8 219.6C63.0 213.2 61.8 214.6 61.2 212.4C60.6 210.2 59.8 207.6 61.2 206.4Z" fill="#c8f5ff"/>
<path d="M3.6 121.2C4.5 119.8 7.0 119.6 8.4 120.0C9.8 120.4 11.2 121.8 12.0 123.6C12.8 125.4 13.6 128.6 13.2 130.8C12.8 133.0 10.9 136.2 9.6 136.8C8.3 137.4 6.4 135.8 5.3 134.4C4.2 133.0 3.2 130.6 2.9 128.4C2.6 126.2 2.7 122.6 3.6 121.2Z" fill="#c8f5ff"/>
<path d="M105.6 145.2C106.5 144.0 105.2 143.3 110.4 142.8C115.6 142.3 132.4 140.5 136.8 142.3C141.2 144.1 141.4 151.9 136.8 153.6C132.2 155.3 114.5 153.0 109.2 152.4C103.9 151.8 105.7 151.2 105.1 150.0C104.5 148.8 104.7 146.4 105.6 145.2Z" fill="#c8f5ff"/>
</g>
<g clip-path="url(#k4)">
<path d="M91.2 91.2C96.6 83.0 116.8 109.8 123.6 114.0C130.4 118.2 129.6 115.2 132.0 116.4C134.4 117.6 136.7 119.2 138.0 121.2C139.3 123.2 139.9 125.6 139.9 128.4C139.9 131.2 138.9 134.8 138.0 138.0C137.1 141.2 136.0 144.6 134.4 147.6C132.8 150.6 130.6 153.8 128.4 156.0C126.2 158.2 123.2 159.6 121.2 160.8C119.2 162.0 121.4 162.8 116.4 163.2C111.4 163.6 95.4 175.2 91.2 163.2C87.0 151.2 85.8 99.4 91.2 91.2Z" fill="#c8f5ff"/>
<path d="M138.0 135.6C138.8 133.6 142.0 133.2 144.0 133.2C146.0 133.2 148.4 134.2 150.0 135.6C151.6 137.0 153.6 139.6 153.6 141.6C153.6 143.6 151.6 146.4 150.0 147.6C148.4 148.8 145.8 149.2 144.0 148.8C142.2 148.4 140.2 147.4 139.2 145.2C138.2 143.0 137.2 137.6 138.0 135.6Z" fill="#c8f5ff"/>
<path d="M136.8 91.2C131.6 95.8 136.6 113.6 138.0 118.8C139.4 124.0 142.4 122.0 145.2 122.4C148.0 122.8 152.0 121.2 154.8 121.2C157.6 121.2 159.8 122.8 162.0 122.4C164.2 122.0 166.8 124.0 168.0 118.8C169.2 113.6 174.4 95.8 169.2 91.2C164.0 86.6 142.0 86.6 136.8 91.2Z" fill="#c8f5ff"/>
<path d="M91.2 214.8C95.8 209.0 113.8 214.8 118.8 216.0C123.8 217.2 121.2 216.2 121.2 222.0C121.2 227.8 123.8 246.0 118.8 250.8C113.8 255.6 95.8 256.8 91.2 250.8C86.6 244.8 86.6 220.6 91.2 214.8Z" fill="#c8f5ff"/>
<path d="M146.4 165.6C147.0 163.8 149.0 161.4 151.2 159.6C153.4 157.8 156.8 156.0 159.6 154.8C162.4 153.6 165.2 153.2 168.0 152.4C170.8 151.6 173.8 151.6 176.4 150.0C179.0 148.4 181.2 145.2 183.6 142.8C186.0 140.4 188.4 137.8 190.8 135.6C193.2 133.4 195.6 131.4 198.0 129.6C200.4 127.8 202.8 126.2 205.2 124.8C207.6 123.4 210.0 122.2 212.4 121.2C214.8 120.2 213.2 119.4 219.6 118.8C226.0 118.2 245.6 105.6 250.8 117.6C256.0 129.6 261.6 175.4 250.8 190.8C240.0 206.2 198.0 208.0 186.0 210.0C174.0 212.0 181.0 205.2 178.8 202.8C176.6 200.4 174.3 198.4 172.8 195.6C171.3 192.8 170.5 189.2 169.7 186.0C168.9 182.8 169.3 178.6 168.0 176.4C166.7 174.2 164.4 173.6 162.0 172.8C159.6 172.0 156.0 172.0 153.6 171.6C151.2 171.2 148.8 171.4 147.6 170.4C146.4 169.4 145.8 167.4 146.4 165.6Z" fill="#ffbe3c"/>
<path d="M171.6 165.6C172.0 163.6 175.2 160.6 177.6 158.4C180.0 156.2 183.2 154.4 186.0 152.4C188.8 150.4 191.6 148.2 194.4 146.4C197.2 144.6 199.8 142.6 202.8 141.6C205.8 140.6 209.4 140.4 212.4 140.4C215.4 140.4 214.4 141.2 220.8 141.6C227.2 142.0 245.8 137.8 250.8 142.8C255.8 147.8 256.0 166.4 250.8 171.6C245.6 176.8 226.4 173.8 219.6 174.0C212.8 174.2 213.2 172.8 210.0 172.8C206.8 172.8 203.6 173.8 200.4 174.0C197.2 174.2 194.0 174.2 190.8 174.0C187.6 173.8 183.8 173.4 181.2 172.8C178.6 172.2 176.8 171.6 175.2 170.4C173.6 169.2 171.2 167.6 171.6 165.6Z" fill="#ff9b00"/>
<path d="M194.4 162.0C194.9 161.2 196.9 160.0 198.0 160.1C199.1 160.2 200.8 161.6 200.9 162.5C201.0 163.4 199.4 165.0 198.5 165.4C197.5 165.8 195.8 165.4 195.1 164.9C194.4 164.3 193.9 162.8 194.4 162.0Z" fill="#ff5f00"/>
<path d="M190.3 166.3C190.6 165.7 192.6 165.0 193.2 165.4C193.8 165.7 194.5 167.6 194.2 168.2C193.8 168.9 191.9 169.5 191.3 169.2C190.6 168.9 190.0 167.0 190.3 166.3Z" fill="#ff5f00"/>
<path d="M202.3 159.6C202.6 159.0 204.2 158.3 204.7 158.6C205.3 159.0 205.9 161.0 205.7 161.5C205.4 162.1 203.8 162.3 203.3 162.0C202.7 161.7 202.1 160.2 202.3 159.6Z" fill="#ff5f00"/>
</g>
</g>
<g><path d="M116.7 -1.2L116.5 1.9L116.8 3.6L118.4 6.4L122.2 8.3L123.0 10.0L119.7 10.9L117.2 10.2L117.6 13.2L116.2 12.4L114.1 12.4L111.9 14.0L111.4 16.5L108.9 17.7L107.5 19.6L106.8 22.1L104.8 23.6L101.7 24.3L100.8 25.5L100.9 27.3L102.3 29.5L102.6 33.4L99.7 35.8L99.7 33.6L99.4 31.3L99.9 29.9L99.3 28.1L97.6 27.1L97.6 26.3L96.1 26.6L95.2 27.9L94.0 28.7L93.1 27.5L92.2 27.2L89.9 28.7L87.4 31.1L86.0 30.4L84.7 31.2L84.6 32.3L83.6 33.8L84.2 35.6L84.6 38.2L84.8 39.8L83.8 40.6L82.2 39.5L81.2 39.6L81.6 41.7L82.1 43.2L83.6 43.4L84.3 44.8L82.9 46.0L80.9 46.9L79.0 47.6L78.3 49.5L77.2 50.2L78.9 50.0L80.0 50.6L81.9 49.0L83.4 47.7L85.4 45.8L86.9 46.8L88.5 48.0L89.4 50.1L90.1 52.9L89.3 55.1L88.8 57.8L88.2 58.9L89.7 60.2L91.1 59.8L92.0 58.9L92.0 56.5L92.1 54.0L93.4 51.4L94.1 49.6L93.8 47.3L93.1 45.4L91.0 44.7L90.6 42.4L92.0 40.0L91.5 37.8L91.1 35.1L91.8 33.3L93.1 32.7L93.3 31.0L95.0 30.5L95.9 32.0L95.9 33.6L97.9 36.1L99.5 39.0L100.4 39.8L100.6 41.4L101.1 38.9L101.7 38.6L103.4 36.2L104.7 35.8L106.5 36.9L106.9 38.1L107.6 40.7L107.9 41.7L108.2 43.2L108.2 45.7L107.0 47.1L105.4 48.9L104.2 50.1L102.6 50.1L103.3 51.5L102.4 54.0L101.6 56.7L100.6 60.5L101.5 62.6L99.4 63.7L99.6 65.7L98.3 67.4L97.1 69.2L95.5 71.2L94.4 72.8L92.9 73.2L89.9 73.3L89.1 72.0L88.4 72.4L86.6 72.1L84.5 72.9L81.7 72.9L78.2 72.3L76.8 70.8L77.7 68.8L80.0 67.6L82.4 67.1L84.5 67.0L82.3 66.0L79.9 64.3L78.8 63.0L76.5 62.8L75.1 63.8L77.9 64.8L77.7 65.6L74.3 66.6L76.0 67.9L75.8 71.1L74.1 71.6L73.6 71.7L74.9 73.6L78.7 76.2L76.6 77.2L75.0 76.3L73.9 74.9L73.5 76.5L74.0 78.2L74.7 80.1L72.8 81.5L71.6 82.7L72.7 84.2L70.6 86.0L69.2 87.3L69.2 87.8L70.5 89.1L71.4 89.9L68.4 92.0L65.2 94.3L68.0 94.1L71.0 95.2L73.0 96.8L75.1 98.8L75.9 100.3L74.5 101.3L71.6 100.7L68.1 99.4L65.0 99.3L62.4 97.0L60.6 95.4L60.5 97.2L62.9 99.6L65.3 100.0L69.0 100.9L71.9 102.2L74.2 103.2L74.0 105.0L71.8 104.9L72.4 106.9L68.7 108.3L71.1 108.6L75.0 107.3L75.0 109.1L76.3 111.2L78.2 112.6L79.4 114.5L80.6 115.7L81.3 117.9L83.5 119.3L85.6 121.2L84.3 122.8L83.8 125.0L83.3 127.1L81.8 128.0L79.7 127.9L77.4 126.6L75.8 125.7L76.2 127.8L78.3 129.2L78.5 130.6L79.8 132.7L78.6 134.1L79.7 135.9L79.1 137.2L81.5 136.4L83.3 137.3L83.2 139.5L81.5 141.3L80.0 142.2L79.4 143.7L80.4 144.9L82.3 143.7L83.1 146.2L84.6 146.9L87.1 146.3L88.2 145.8L90.3 149.5L91.9 152.6L92.0 153.2L92.9 155.1L94.8 155.8L96.8 156.1L98.3 157.8L98.3 160.4L100.7 161.4L103.4 161.1L104.1 161.7L105.8 164.6L106.4 161.4L109.2 162.5L113.9 164.8L114.7 165.0L116.6 166.5L119.0 167.5L119.7 169.5L122.7 169.9L124.7 171.1L123.8 172.5L122.6 174.2L121.9 175.8L119.2 175.6L118.5 173.6L115.8 171.7L114.8 171.2L114.5 173.5L113.2 174.7L111.6 175.5L112.7 176.7L113.5 179.0L113.2 181.6L107.7 182.5L103.6 185.4L101.9 186.7L97.4 184.4L94.5 185.3L92.0 186.9L90.0 188.8L91.3 190.0L90.3 193.8L88.5 193.2L87.5 196.8L85.0 196.7L83.1 199.7L80.9 199.5L79.4 201.7L75.7 203.4L76.6 200.6L76.9 197.8L78.0 193.9L79.8 190.4L82.3 188.6L83.3 186.8L84.8 186.9L88.0 185.3L91.0 183.7L94.5 182.1L96.6 179.0L94.3 179.3L91.2 181.0L89.8 181.9L91.1 178.8L88.8 178.5L86.6 179.2L82.7 181.7L80.0 181.3L78.6 181.1L77.4 179.0L74.8 178.4L71.8 175.8L69.2 174.2L65.6 174.1L61.8 174.3L59.0 175.3L53.6 175.6L52.9 176.0L53.5 179.1L54.9 181.1L56.9 181.1L57.4 185.0L55.2 187.7L52.6 189.0L48.7 192.9L44.3 194.5L40.1 196.3L34.8 197.1M60.9 184.0L60.1 186.4L57.7 189.6L56.1 193.4L54.7 196.5L54.4 198.6L52.7 195.6L49.8 198.9L49.3 201.7L48.2 202.9L48.3 200.9L46.0 201.6L47.7 199.1L49.7 197.2L51.3 194.9L52.9 192.7L54.6 190.6L55.7 188.1L57.5 186.1L58.8 185.4ZM42.8 204.1L45.0 202.3L45.8 203.6L45.5 206.2M124.2 14.8L120.7 14.7L118.4 15.7L116.0 15.9L113.8 16.2L111.9 17.0L113.0 17.8L112.3 18.9L111.5 20.8L112.7 21.9L113.8 21.8L114.1 23.4L114.5 25.0L116.0 26.3L116.8 29.0L118.1 30.1L119.1 30.1L118.1 30.8L117.3 32.6L116.9 34.5L119.9 34.3L118.5 36.3L121.0 37.0L122.2 35.1L122.5 33.0L122.6 31.2L122.8 28.8L121.5 29.8L122.0 27.7L121.8 26.9L119.6 27.3L119.3 25.1L119.1 23.2L121.4 23.1L121.7 21.8L121.0 20.7L123.1 19.5L122.5 18.7L119.7 18.2L119.5 17.4L121.4 17.5L122.9 16.0ZM130.6 19.4L128.0 19.8L124.8 20.5L124.0 23.4L123.8 25.2L122.7 26.7L123.6 28.4L125.3 29.1L127.3 28.1L127.0 27.0L129.6 26.8L130.3 24.8L128.6 23.7L130.0 22.3L131.3 21.2ZM135.4 52.5L139.0 55.0L139.3 57.8L139.0 59.7L136.7 61.1L135.7 58.3L134.2 59.3L132.5 59.0L130.2 59.1L128.9 58.2L128.4 55.5L129.9 53.5L132.7 52.7ZM105.1 82.7L107.0 84.7L107.9 86.3L109.3 88.0L109.4 89.9L107.7 90.8L106.3 90.0L104.4 88.1L104.8 85.4ZM106.1 90.1L106.5 92.5L103.7 93.1L103.1 91.0L105.0 89.7ZM103.1 85.5L104.1 87.4L102.8 88.0L101.8 86.5ZM97.0 97.2L98.1 98.8L97.1 100.5L95.9 99.6ZM94.8 100.7L96.4 101.8L96.4 103.6L94.2 103.7L93.9 102.1ZM74.9 88.5L76.3 86.8L79.2 86.3L80.8 88.2L81.7 90.2L82.7 91.8L84.3 93.7L85.1 96.0L85.2 98.4L85.5 101.1L85.2 102.4L83.7 101.5L82.8 98.9L81.9 95.2L80.7 92.5L79.3 90.3L77.0 89.2L74.9 89.3ZM77.1 81.0L75.9 81.7L75.2 80.5L76.1 79.9ZM73.7 89.3L72.3 89.9L72.0 89.0ZM86.4 118.8L86.4 121.1L88.5 119.8L88.8 118.9ZM88.0 116.2L88.9 118.1L90.6 117.9L92.6 116.6L90.3 115.2ZM91.0 117.4L91.2 118.2L93.3 116.3L92.5 115.8ZM89.9 141.5L90.3 139.9L92.1 139.0L93.1 140.1L93.7 141.8L92.6 142.8L91.0 142.2ZM94.4 144.0L95.1 143.4L97.0 144.5L95.7 145.5ZM88.4 144.8L90.0 144.5L90.6 145.9L89.3 145.8ZM113.3 160.1L113.9 158.6L115.9 158.8L115.3 160.1ZM165.7 60.5L165.9 64.1L167.3 66.7L166.5 69.6L165.4 72.2L163.6 74.9L161.9 78.0L159.5 80.7L157.1 82.0L155.2 82.0L153.5 82.2L152.4 83.6L152.3 86.8L151.1 88.6L148.7 90.7L146.7 92.9L145.1 95.0L143.6 96.3L143.9 98.8L145.4 100.4L144.6 102.3L142.6 103.9L141.4 105.6L138.8 104.0L136.4 104.5L135.1 104.6L133.1 104.3L130.8 104.0L128.9 102.5L126.2 102.0L122.7 101.0L121.2 99.1L120.7 97.1L118.5 93.9L120.6 92.0L122.5 90.1L123.9 86.7L124.2 84.2L125.7 82.2L126.1 79.7L128.1 77.9L130.0 76.0L131.3 73.9L131.5 71.3L132.0 70.2L133.0 69.8L134.5 68.6L137.3 67.7L140.7 68.1L144.0 68.1L147.3 66.7L150.3 67.0L153.4 67.3L155.5 65.7L158.0 64.5L160.3 63.2L162.5 61.8L164.6 60.3ZM154.6 84.1L154.3 85.7L152.9 85.9L152.6 83.9ZM209.7 178.3L205.8 175.6L203.7 174.7L200.0 173.3L202.2 171.0L204.8 171.6L202.8 170.1L200.4 169.8L197.1 170.8L192.4 172.7L190.0 172.7L187.2 171.9L182.3 171.6L179.6 170.7L176.7 170.1L173.8 169.4L169.9 168.5L167.2 167.6L167.8 170.2L167.8 170.9L164.9 170.7L162.3 170.7L159.6 171.9L156.9 173.6L154.6 173.6L152.4 173.8L152.7 176.6L150.3 180.1L148.8 177.4L149.5 174.9L148.0 177.3L147.7 180.9L148.2 183.5L146.8 187.0L144.6 190.8L142.0 194.5L139.0 197.4L139.9 195.2L141.6 193.2L144.1 189.6L144.2 186.1L142.4 185.2L140.1 186.6L138.1 187.0L137.2 184.3L133.0 183.7L131.2 181.5L131.7 178.8L132.9 176.6L134.8 175.2L134.5 172.6L132.5 173.5L130.0 174.0L128.3 172.3L126.5 172.0L128.2 169.8L130.0 168.5L132.3 169.2L131.1 167.4L129.3 166.4L126.6 165.1L126.7 163.5L128.6 160.7L129.4 159.1L131.2 156.9L132.2 155.1L135.3 155.0L137.9 154.7L141.1 153.6L143.9 152.5L146.0 151.7L149.2 151.3L150.3 148.1L151.4 145.0L152.6 144.3L151.5 142.9L154.5 142.6L154.0 141.2L156.1 141.1L158.8 138.6L160.5 136.4L163.1 136.7L164.0 134.0L165.5 131.5L167.7 131.2L165.2 129.9L165.2 127.1L166.7 125.0L167.6 121.9L166.0 120.7L167.6 119.5L166.3 117.5L163.8 117.4L161.2 119.2L158.8 118.2L157.6 117.3L159.4 116.3L161.9 115.6L163.9 116.1L165.2 114.3L166.4 113.7L164.4 112.6L167.6 111.6L168.8 111.0L165.0 109.9L163.0 109.9L163.5 107.0L165.9 106.6L168.3 105.8L171.5 107.4L171.3 110.1L173.8 110.8L177.7 112.2L179.4 114.7L180.7 116.3L184.9 119.0L187.6 120.1L190.7 119.5L194.8 117.4L195.6 113.9L198.1 110.2L199.7 106.4L199.5 102.4L202.7 101.9L205.3 101.4L207.2 100.0L209.4 98.0L208.5 96.1L206.2 95.4L202.4 96.8L200.5 98.1L198.1 95.6L195.2 94.6L192.2 95.6L190.1 97.9L186.1 97.7L183.7 99.1L180.2 99.8L180.1 97.1L180.4 92.4L181.0 89.6L183.2 88.3L184.9 87.6L186.1 86.3L187.2 85.0L184.6 82.6L182.3 82.6L179.9 83.0L182.4 79.8L184.0 77.3L187.0 74.7L188.4 70.8L189.5 66.9L189.3 63.3L191.7 61.1L194.9 61.5L200.4 64.2L203.2 69.6L205.4 74.1L208.4 74.9L211.4 76.6L216.4 78.2L213.5 76.8L209.6 74.4L206.8 70.8L207.2 69.0L210.2 70.2L210.3 69.1L212.2 68.0L213.5 65.5L213.2 62.4L212.7 60.3L216.4 60.8M193.1 59.8L197.1 58.0L197.3 55.8L196.1 53.3L197.0 51.8L199.0 49.4L201.7 48.3L202.4 50.3L201.1 50.8L204.0 53.0L203.1 55.1L205.8 59.5L203.4 60.3L200.2 60.2L197.2 60.7ZM212.3 59.6L208.4 60.7L209.8 58.6L211.8 58.7ZM204.7 70.8L203.2 66.6L204.4 65.4L205.2 68.6ZM201.3 171.5L198.6 173.4L194.5 174.4L190.9 174.6L193.5 172.5L197.8 171.3ZM185.5 176.0L181.2 175.6L179.1 174.4L180.9 173.2L182.8 175.1ZM149.9 187.6L148.3 186.1L150.0 184.0L151.7 184.9ZM177.6 172.9L174.4 171.3L176.0 170.8L177.9 171.8ZM173.2 171.8L169.5 170.7L169.8 169.4L172.8 170.4ZM137.4 198.9L137.5 197.6L139.3 197.3L139.3 198.1ZM133.2 203.0L135.1 200.6L135.6 201.3L132.6 203.9ZM123.4 208.0L125.7 206.9L126.1 207.4ZM118.5 209.1L120.9 208.2L120.9 209.0ZM123.6 178.4L123.7 177.1L127.0 177.8L126.0 178.8ZM130.5 185.7L131.6 184.3L132.7 185.6ZM174.4 108.1L175.7 104.7L178.0 103.2L179.3 106.5L178.6 110.0L176.3 110.6L174.5 109.2ZM177.0 85.9L176.8 89.3L175.6 93.4L174.6 97.2L175.2 100.4L172.8 101.3L171.6 97.5L168.9 97.2L166.5 97.9L164.5 100.0L162.7 102.7L161.8 104.7L163.0 107.1L161.3 110.2L162.7 112.6L159.0 113.9L155.3 113.5L153.3 112.5L153.5 110.5L156.4 110.6L153.4 109.8L153.1 107.8L154.8 104.9L155.7 102.4L157.3 99.9L158.2 96.6L160.0 94.5L161.9 92.7L162.9 89.1L164.2 86.6L167.4 86.3L167.3 91.4L169.2 87.1L173.9 85.7L174.0 90.4ZM154.9 106.7L153.0 107.1L153.0 104.6L154.4 104.3ZM161.9 134.6L159.4 136.4L157.2 136.2L154.7 135.8L153.2 135.5L151.4 133.6L151.6 130.9L152.2 127.7L153.6 125.6L156.3 125.2L158.8 125.4L161.8 123.1L164.2 124.0L163.6 127.6L163.7 130.4ZM152.6 138.8L149.6 139.3L147.1 136.4L146.2 133.8L147.7 131.7L150.2 131.0L151.0 134.3L152.8 136.6ZM149.9 124.4L147.8 127.4L145.7 130.2L143.9 128.4L144.3 124.2L147.2 123.0ZM142.7 132.0L141.4 129.5L141.1 127.0L142.8 129.0ZM149.8 120.5L147.2 121.2L145.9 118.9L147.7 118.3L150.1 118.9ZM151.0 117.8L149.0 117.7L149.2 116.0L150.9 116.1ZM158.9 121.0L155.5 123.0L152.5 121.0L153.0 119.0L156.3 118.8L158.6 119.7ZM157.4 117.7L153.9 117.7L152.3 116.2L153.4 113.9L156.1 114.6L157.7 116.6ZM165.8 121.6L163.8 121.7L162.8 120.3L164.9 118.8L166.1 119.8ZM151.3 108.7L151.4 112.6L150.7 115.2L147.9 116.0L145.4 116.9L146.8 113.6L148.6 111.5L148.0 108.0L149.4 107.6ZM146.9 108.7L146.5 111.9L147.3 113.6L145.1 112.8L142.7 113.2L140.6 111.8L138.3 112.6L135.9 114.1L134.0 113.6L132.1 111.4L130.3 109.6L129.9 107.6L130.5 105.1L132.7 105.1L135.7 105.9L137.9 106.5L141.0 106.7L143.0 107.8L145.4 107.6ZM142.4 115.1L139.4 116.3L136.5 115.8L135.2 114.6L137.6 113.1L140.7 112.7ZM143.4 117.5L142.1 118.1L141.3 117.0L143.1 116.2ZM142.1 119.6L140.4 120.6L139.3 119.7L140.8 118.3ZM21.3 137.1L24.0 139.8L27.5 142.1L31.4 142.9L34.6 142.6L32.5 142.1L29.0 141.6L26.4 140.4L23.0 138.4ZM76.2 51.0L78.4 52.4L78.5 54.4L76.1 54.7L74.9 52.7ZM72.9 55.9L75.7 57.4L76.2 59.5L73.5 58.3ZM165.3 147.0L162.7 146.5L162.4 142.8L165.2 140.9L166.0 143.1L166.2 145.1ZM177.6 146.1L177.3 143.7L176.8 140.4L176.7 136.6L178.1 136.5L178.7 140.6L178.9 144.0ZM186.1 141.5L185.3 138.3L186.1 135.2L187.0 135.4L186.8 138.9ZM195.2 131.8L192.8 132.0L191.0 130.2L193.5 130.0ZM212.4 125.6L209.4 125.6L205.6 128.0L202.9 127.9L203.1 126.4L206.8 125.3L210.4 124.5ZM223.5 117.7L221.6 115.8L219.7 113.0L217.2 110.7L217.6 107.6L219.5 104.7L222.2 103.9L223.5 106.3L222.9 110.1L223.3 114.9ZM229.3 109.1L226.5 108.4L224.9 105.2L225.3 103.8L228.6 106.3M228.6 100.5L225.8 102.8L224.0 102.4L224.1 98.5L225.6 95.3L227.9 95.5M58.7 13.1L58.2 15.6L58.2 17.6L58.4 19.7L56.6 21.2L53.9 20.9L52.6 21.4L53.8 19.0L51.7 19.0L50.1 18.0M47.5 20.2L48.4 21.6L47.2 23.2L50.5 22.8L51.0 24.5L49.0 26.7L48.5 28.5L46.6 30.3L46.8 28.4L45.9 26.6L45.8 24.2L46.5 23.0L43.8 22.9M30.4 35.1L30.9 36.6L32.1 38.6L31.4 41.9L30.2 44.6L29.3 47.0L27.1 48.2L25.0 47.1L24.8 45.2L25.6 42.8L25.7 40.4M16.4 53.4L17.4 54.5L18.8 56.5L19.2 60.1L18.5 62.5L16.9 62.1L15.8 60.0L14.1 60.2L13.1 59.0M6.2 82.3L8.3 84.1L9.1 86.7L7.6 89.3L7.3 93.1L6.3 92.9L6.8 89.1L8.0 86.4L7.1 84.4ZM88.9 36.7L88.7 39.2L88.3 38.0ZM96.6 29.2L97.8 30.8L96.5 32.2L95.9 30.1ZM84.8 40.9L85.1 42.5L83.7 42.5ZM122.5 44.4L122.8 46.8L122.0 46.4ZM116.0 40.1L115.8 42.4L115.4 41.4Z" fill="none" stroke="#000" stroke-width="1" stroke-linejoin="round" stroke-linecap="round"/><circle cx="114.3" cy="113.9" r="73.3" fill="none" stroke="#1a1a10" stroke-width="1.1" stroke-dasharray="1.4 1.9"/><path d="M114.3 0.3V227.5M0.6 113.9H228" fill="none" stroke="#1a1a10" stroke-width="1.1" stroke-dasharray="1.4 1.9"/></g>
<path d="M55.4 117.7 L56.4 120.2 L59.1 120.4 L57.0 122.1 L57.7 124.8 L55.4 123.3 L53.1 124.8 L53.8 122.1 L51.7 120.4 L54.4 120.2Z" fill="#ff2a10" stroke="#fff" stroke-width="1.1" stroke-linejoin="miter"/>
<path d="M200.2 162.5 L201.2 165.0 L203.9 165.2 L201.8 166.9 L202.5 169.6 L200.2 168.1 L197.9 169.6 L198.6 166.9 L196.5 165.2 L199.2 165.0Z" fill="#ff2a10" stroke="#fff" stroke-width="1.1" stroke-linejoin="miter"/>
</g>
<circle cx="114.5" cy="113.9" r="113.4" fill="none" stroke="#222" stroke-width="0.8"/>
</g>
<g font-family="'Liberation Sans',Arial,sans-serif" font-size="19" fill="#000" style="font-kerning:none">
<text transform="translate(0 13.1) scale(0.91 1)" x="0" y="0">a Ts</text>
<text transform="translate(246.2 13) scale(0.91 1)" x="0" y="0">b Ts</text>
<text transform="translate(0 257.3) scale(0.91 1)" x="0" y="0">c O<tspan font-size="11.5" dy="4.2">3</tspan></text>
<text transform="translate(246.2 257.3) scale(0.91 1)" x="0" y="0">d O<tspan font-size="11.5" dy="4.2">3</tspan></text>
</g>
<rect x="34.40" y="498.5" width="22.13" height="18" fill="#0555b9"/>
<rect x="56.43" y="498.5" width="22.13" height="18" fill="#0860c3"/>
<rect x="78.46" y="498.5" width="22.13" height="18" fill="#0a6ecd"/>
<rect x="100.49" y="498.5" width="22.13" height="18" fill="#0c7de1"/>
<rect x="122.52" y="498.5" width="22.13" height="18" fill="#198cf0"/>
<rect x="144.55" y="498.5" width="22.13" height="18" fill="#32a0e6"/>
<rect x="166.58" y="498.5" width="22.13" height="18" fill="#82cdff"/>
<rect x="188.61" y="498.5" width="22.13" height="18" fill="#a5f0ff"/>
<rect x="210.64" y="498.5" width="22.13" height="18" fill="#c8f5ff"/>
<rect x="232.67" y="498.5" width="22.13" height="18" fill="#ffe673"/>
<rect x="254.70" y="498.5" width="22.13" height="18" fill="#ffbe3c"/>
<rect x="276.73" y="498.5" width="22.13" height="18" fill="#ff9b00"/>
<rect x="298.76" y="498.5" width="22.13" height="18" fill="#ff5f00"/>
<rect x="320.79" y="498.5" width="22.13" height="18" fill="#ff4100"/>
<rect x="342.82" y="498.5" width="22.13" height="18" fill="#eb1400"/>
<rect x="364.85" y="498.5" width="22.13" height="18" fill="#c30000"/>
<rect x="386.88" y="498.5" width="22.13" height="18" fill="#960000"/>
<rect x="408.91" y="498.5" width="22.13" height="18" fill="#6e0000"/>
<path d="M34.40 498.5v18M56.43 498.5v18M78.46 498.5v18M100.49 498.5v18M122.52 498.5v18M144.55 498.5v18M166.58 498.5v18M188.61 498.5v18M210.64 498.5v18M232.67 498.5v18M254.70 498.5v18M276.73 498.5v18M298.76 498.5v18M320.79 498.5v18M342.82 498.5v18M364.85 498.5v18M386.88 498.5v18M408.91 498.5v18M430.94 498.5v18M34.40 498.5h396.54M34.40 516.5h396.54" stroke="#222" stroke-width="0.7" fill="none"/>
<g font-family="'Liberation Sans',Arial,sans-serif" font-size="16" fill="#000" text-anchor="middle">
<text x="56.4" y="534.6">-12</text>
<text x="100.5" y="534.6">-9</text>
<text x="144.6" y="534.6">-6</text>
<text x="188.6" y="534.6">-3</text>
<text x="232.7" y="534.6">0</text>
<text x="276.7" y="534.6">3</text>
<text x="320.8" y="534.6">6</text>
<text x="364.9" y="534.6">9</text>
<text x="408.9" y="534.6">12</text>
</g>
</svg></body></html>
